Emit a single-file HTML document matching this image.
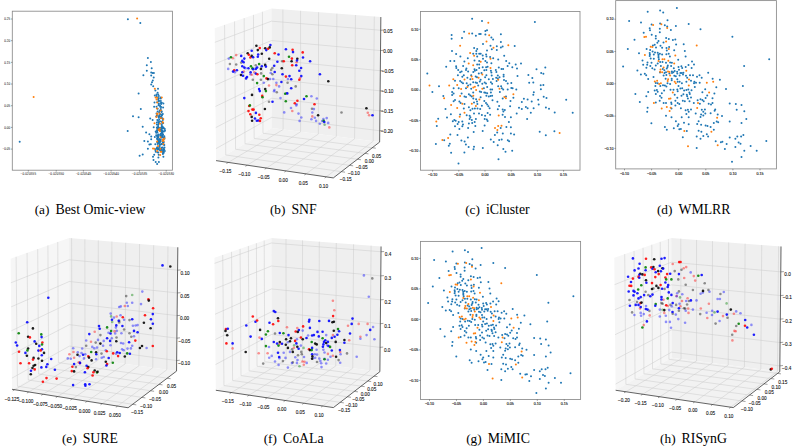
<!DOCTYPE html>
<html><head><meta charset="utf-8"><style>
html,body{margin:0;padding:0;background:#fff;width:794px;height:446px;overflow:hidden}
svg{position:absolute;left:0;top:0;display:block}
.t1{font-family:"Liberation Sans",sans-serif;font-size:3.0px;fill:#333;stroke:#333;stroke-width:0.05px}
.t2{font-family:"Liberation Sans",sans-serif;font-size:3.6px;fill:#111;stroke:#111;stroke-width:0.12px}
.t3{font-family:"Liberation Sans",sans-serif;font-size:4.7px;fill:#111;stroke:#111;stroke-width:0.1px;text-anchor:middle}
.cap{font-family:"Liberation Serif",serif;font-size:13.3px;fill:#000}
</style></head><body>
<svg width="794" height="446" viewBox="0 0 794 446">
<rect x="12.3" y="11.2" width="160.10" height="159.00" fill="none" stroke="#8a8a8a" stroke-width="0.85"/>
<line x1="28.3" y1="170.2" x2="28.3" y2="171.6" stroke="#444" stroke-width="0.5"/>
<text x="28.3" y="174.80" class="t1" text-anchor="middle" textLength="15.5">−0.020555</text>
<line x1="56.2" y1="170.2" x2="56.2" y2="171.6" stroke="#444" stroke-width="0.5"/>
<text x="56.2" y="174.80" class="t1" text-anchor="middle" textLength="15.5">−0.020550</text>
<line x1="83.4" y1="170.2" x2="83.4" y2="171.6" stroke="#444" stroke-width="0.5"/>
<text x="83.4" y="174.80" class="t1" text-anchor="middle" textLength="15.5">−0.020545</text>
<line x1="111.1" y1="170.2" x2="111.1" y2="171.6" stroke="#444" stroke-width="0.5"/>
<text x="111.1" y="174.80" class="t1" text-anchor="middle" textLength="15.5">−0.020540</text>
<line x1="139.5" y1="170.2" x2="139.5" y2="171.6" stroke="#444" stroke-width="0.5"/>
<text x="139.5" y="174.80" class="t1" text-anchor="middle" textLength="15.5">−0.020535</text>
<line x1="166.2" y1="170.2" x2="166.2" y2="171.6" stroke="#444" stroke-width="0.5"/>
<text x="166.2" y="174.80" class="t1" text-anchor="middle" textLength="15.5">−0.020530</text>
<line x1="10.9" y1="19.0" x2="12.3" y2="19.0" stroke="#444" stroke-width="0.5"/>
<text x="10.10" y="20.20" class="t1" text-anchor="end">0.25</text>
<line x1="10.9" y1="40.67999999999999" x2="12.3" y2="40.67999999999999" stroke="#444" stroke-width="0.5"/>
<text x="10.10" y="41.88" class="t1" text-anchor="end">0.20</text>
<line x1="10.9" y1="62.36" x2="12.3" y2="62.36" stroke="#444" stroke-width="0.5"/>
<text x="10.10" y="63.56" class="t1" text-anchor="end">0.15</text>
<line x1="10.9" y1="84.03999999999999" x2="12.3" y2="84.03999999999999" stroke="#444" stroke-width="0.5"/>
<text x="10.10" y="85.24" class="t1" text-anchor="end">0.10</text>
<line x1="10.9" y1="105.72" x2="12.3" y2="105.72" stroke="#444" stroke-width="0.5"/>
<text x="10.10" y="106.92" class="t1" text-anchor="end">0.05</text>
<line x1="10.9" y1="127.4" x2="12.3" y2="127.4" stroke="#444" stroke-width="0.5"/>
<text x="10.10" y="128.60" class="t1" text-anchor="end">0.00</text>
<line x1="10.9" y1="149.08" x2="12.3" y2="149.08" stroke="#444" stroke-width="0.5"/>
<text x="10.10" y="150.28" class="t1" text-anchor="end">−0.05</text>
<circle cx="127.9" cy="19.2" r="1.0" fill="#1f77b4"/>
<circle cx="140.3" cy="22.9" r="1.0" fill="#1f77b4"/>
<circle cx="19.7" cy="141.7" r="1.0" fill="#1f77b4"/>
<circle cx="147.9" cy="58.1" r="1.0" fill="#1f77b4"/>
<circle cx="150.9" cy="62.1" r="1.0" fill="#1f77b4"/>
<circle cx="146.8" cy="65.2" r="1.0" fill="#1f77b4"/>
<circle cx="151.7" cy="68.2" r="1.0" fill="#1f77b4"/>
<circle cx="146.8" cy="70.8" r="1.0" fill="#1f77b4"/>
<circle cx="151.2" cy="72.5" r="1.0" fill="#1f77b4"/>
<circle cx="152.6" cy="73.0" r="1.0" fill="#1f77b4"/>
<circle cx="153.9" cy="73.0" r="1.0" fill="#1f77b4"/>
<circle cx="143.4" cy="75.3" r="1.0" fill="#1f77b4"/>
<circle cx="151.2" cy="75.6" r="1.0" fill="#1f77b4"/>
<circle cx="153.7" cy="77.5" r="1.0" fill="#1f77b4"/>
<circle cx="152.8" cy="80.5" r="1.0" fill="#1f77b4"/>
<circle cx="152.0" cy="82.3" r="1.0" fill="#1f77b4"/>
<circle cx="151.2" cy="84.6" r="1.0" fill="#1f77b4"/>
<circle cx="153.2" cy="86.2" r="1.0" fill="#1f77b4"/>
<circle cx="158.0" cy="88.7" r="1.0" fill="#1f77b4"/>
<circle cx="155.4" cy="90.6" r="1.0" fill="#1f77b4"/>
<circle cx="138.6" cy="93.6" r="1.0" fill="#1f77b4"/>
<circle cx="157.6" cy="92.7" r="1.0" fill="#1f77b4"/>
<circle cx="156.5" cy="94.4" r="1.0" fill="#1f77b4"/>
<circle cx="158.2" cy="94.4" r="1.0" fill="#1f77b4"/>
<circle cx="154.8" cy="95.5" r="1.0" fill="#1f77b4"/>
<circle cx="156.5" cy="96.0" r="1.0" fill="#1f77b4"/>
<circle cx="158.8" cy="96.0" r="1.0" fill="#1f77b4"/>
<circle cx="158.8" cy="98.3" r="1.0" fill="#1f77b4"/>
<circle cx="158.1" cy="99.7" r="1.0" fill="#1f77b4"/>
<circle cx="158.9" cy="101.3" r="1.0" fill="#1f77b4"/>
<circle cx="160.8" cy="100.9" r="1.0" fill="#1f77b4"/>
<circle cx="154.5" cy="102.5" r="1.0" fill="#1f77b4"/>
<circle cx="158.9" cy="103.6" r="1.0" fill="#1f77b4"/>
<circle cx="158.5" cy="105.2" r="1.0" fill="#1f77b4"/>
<circle cx="140.8" cy="109.1" r="1.0" fill="#1f77b4"/>
<circle cx="154.1" cy="106.8" r="1.0" fill="#1f77b4"/>
<circle cx="156.5" cy="106.8" r="1.0" fill="#1f77b4"/>
<circle cx="157.7" cy="108.8" r="1.0" fill="#1f77b4"/>
<circle cx="160.8" cy="109.1" r="1.0" fill="#1f77b4"/>
<circle cx="159.6" cy="110.7" r="1.0" fill="#1f77b4"/>
<circle cx="161.6" cy="111.9" r="1.0" fill="#1f77b4"/>
<circle cx="159.2" cy="112.3" r="1.0" fill="#1f77b4"/>
<circle cx="156.5" cy="113.5" r="1.0" fill="#1f77b4"/>
<circle cx="160.8" cy="114.2" r="1.0" fill="#1f77b4"/>
<circle cx="162.8" cy="113.9" r="1.0" fill="#1f77b4"/>
<circle cx="156.9" cy="115.4" r="1.0" fill="#1f77b4"/>
<circle cx="159.6" cy="116.2" r="1.0" fill="#1f77b4"/>
<circle cx="158.9" cy="117.8" r="1.0" fill="#1f77b4"/>
<circle cx="160.8" cy="117.8" r="1.0" fill="#1f77b4"/>
<circle cx="162.4" cy="118.2" r="1.0" fill="#1f77b4"/>
<circle cx="159.2" cy="119.4" r="1.0" fill="#1f77b4"/>
<circle cx="162.8" cy="120.1" r="1.0" fill="#1f77b4"/>
<circle cx="150.2" cy="118.6" r="1.0" fill="#1f77b4"/>
<circle cx="152.6" cy="120.1" r="1.0" fill="#1f77b4"/>
<circle cx="158.1" cy="120.9" r="1.0" fill="#1f77b4"/>
<circle cx="160.0" cy="121.3" r="1.0" fill="#1f77b4"/>
<circle cx="161.6" cy="121.7" r="1.0" fill="#1f77b4"/>
<circle cx="156.9" cy="122.5" r="1.0" fill="#1f77b4"/>
<circle cx="158.9" cy="122.9" r="1.0" fill="#1f77b4"/>
<circle cx="163.2" cy="122.9" r="1.0" fill="#1f77b4"/>
<circle cx="156.9" cy="124.5" r="1.0" fill="#1f77b4"/>
<circle cx="161.6" cy="124.9" r="1.0" fill="#1f77b4"/>
<circle cx="158.1" cy="126.0" r="1.0" fill="#1f77b4"/>
<circle cx="162.4" cy="126.4" r="1.0" fill="#1f77b4"/>
<circle cx="142.7" cy="126.8" r="1.0" fill="#1f77b4"/>
<circle cx="153.7" cy="127.2" r="1.0" fill="#1f77b4"/>
<circle cx="156.9" cy="127.6" r="1.0" fill="#1f77b4"/>
<circle cx="159.2" cy="128.0" r="1.0" fill="#1f77b4"/>
<circle cx="161.2" cy="128.0" r="1.0" fill="#1f77b4"/>
<circle cx="160.8" cy="129.6" r="1.0" fill="#1f77b4"/>
<circle cx="146.1" cy="132.5" r="1.0" fill="#1f77b4"/>
<circle cx="149.4" cy="134.3" r="1.0" fill="#1f77b4"/>
<circle cx="151.2" cy="136.5" r="1.0" fill="#1f77b4"/>
<circle cx="151.2" cy="139.2" r="1.0" fill="#1f77b4"/>
<circle cx="144.3" cy="141.0" r="1.0" fill="#1f77b4"/>
<circle cx="147.9" cy="141.5" r="1.0" fill="#1f77b4"/>
<circle cx="154.8" cy="137.0" r="1.0" fill="#1f77b4"/>
<circle cx="156.2" cy="135.2" r="1.0" fill="#1f77b4"/>
<circle cx="155.7" cy="131.6" r="1.0" fill="#1f77b4"/>
<circle cx="149.4" cy="144.6" r="1.0" fill="#1f77b4"/>
<circle cx="150.8" cy="144.2" r="1.0" fill="#1f77b4"/>
<circle cx="155.3" cy="144.2" r="1.0" fill="#1f77b4"/>
<circle cx="147.9" cy="148.8" r="1.0" fill="#1f77b4"/>
<circle cx="156.2" cy="148.7" r="1.0" fill="#1f77b4"/>
<circle cx="155.3" cy="150.0" r="1.0" fill="#1f77b4"/>
<circle cx="159.3" cy="149.6" r="1.0" fill="#1f77b4"/>
<circle cx="155.7" cy="151.8" r="1.0" fill="#1f77b4"/>
<circle cx="142.7" cy="154.5" r="1.0" fill="#1f77b4"/>
<circle cx="154.2" cy="154.8" r="1.0" fill="#1f77b4"/>
<circle cx="153.0" cy="156.8" r="1.0" fill="#1f77b4"/>
<circle cx="158.7" cy="154.8" r="1.0" fill="#1f77b4"/>
<circle cx="158.4" cy="157.6" r="1.0" fill="#1f77b4"/>
<circle cx="163.4" cy="156.8" r="1.0" fill="#1f77b4"/>
<circle cx="162.9" cy="154.1" r="1.0" fill="#1f77b4"/>
<circle cx="163.8" cy="152.7" r="1.0" fill="#1f77b4"/>
<circle cx="162.5" cy="151.4" r="1.0" fill="#1f77b4"/>
<circle cx="153.5" cy="159.9" r="1.0" fill="#1f77b4"/>
<circle cx="155.7" cy="162.1" r="1.0" fill="#1f77b4"/>
<circle cx="158.9" cy="162.0" r="1.0" fill="#1f77b4"/>
<circle cx="157.1" cy="163.9" r="1.0" fill="#1f77b4"/>
<circle cx="133.0" cy="116.3" r="1.0" fill="#1f77b4"/>
<circle cx="138.6" cy="117.3" r="1.0" fill="#1f77b4"/>
<circle cx="139.6" cy="155.8" r="1.0" fill="#1f77b4"/>
<circle cx="158.0" cy="139.7" r="1.0" fill="#1f77b4"/>
<circle cx="157.2" cy="130.8" r="1.0" fill="#1f77b4"/>
<circle cx="157.6" cy="130.3" r="1.0" fill="#1f77b4"/>
<circle cx="162.0" cy="136.4" r="1.0" fill="#1f77b4"/>
<circle cx="162.3" cy="134.0" r="1.0" fill="#1f77b4"/>
<circle cx="158.6" cy="141.1" r="1.0" fill="#1f77b4"/>
<circle cx="159.8" cy="142.1" r="1.0" fill="#1f77b4"/>
<circle cx="163.4" cy="149.1" r="1.0" fill="#1f77b4"/>
<circle cx="160.7" cy="134.1" r="1.0" fill="#1f77b4"/>
<circle cx="164.2" cy="138.0" r="1.0" fill="#1f77b4"/>
<circle cx="162.4" cy="132.2" r="1.0" fill="#1f77b4"/>
<circle cx="158.7" cy="127.8" r="1.0" fill="#1f77b4"/>
<circle cx="159.8" cy="139.0" r="1.0" fill="#1f77b4"/>
<circle cx="162.6" cy="135.7" r="1.0" fill="#1f77b4"/>
<circle cx="158.3" cy="152.4" r="1.0" fill="#1f77b4"/>
<circle cx="162.5" cy="128.4" r="1.0" fill="#1f77b4"/>
<circle cx="163.8" cy="142.0" r="1.0" fill="#1f77b4"/>
<circle cx="159.5" cy="129.3" r="1.0" fill="#1f77b4"/>
<circle cx="157.2" cy="148.4" r="1.0" fill="#1f77b4"/>
<circle cx="157.5" cy="142.3" r="1.0" fill="#1f77b4"/>
<circle cx="157.2" cy="147.5" r="1.0" fill="#1f77b4"/>
<circle cx="157.7" cy="127.5" r="1.0" fill="#1f77b4"/>
<circle cx="158.7" cy="135.0" r="1.0" fill="#1f77b4"/>
<circle cx="164.8" cy="151.0" r="1.0" fill="#1f77b4"/>
<circle cx="160.5" cy="135.0" r="1.0" fill="#1f77b4"/>
<circle cx="157.3" cy="128.7" r="1.0" fill="#1f77b4"/>
<circle cx="159.0" cy="148.6" r="1.0" fill="#1f77b4"/>
<circle cx="161.4" cy="143.9" r="1.0" fill="#1f77b4"/>
<circle cx="163.2" cy="150.7" r="1.0" fill="#1f77b4"/>
<circle cx="162.0" cy="130.7" r="1.0" fill="#1f77b4"/>
<circle cx="163.3" cy="149.8" r="1.0" fill="#1f77b4"/>
<circle cx="157.3" cy="136.2" r="1.0" fill="#1f77b4"/>
<circle cx="165.0" cy="130.7" r="1.0" fill="#1f77b4"/>
<circle cx="162.1" cy="131.1" r="1.0" fill="#1f77b4"/>
<circle cx="157.6" cy="142.6" r="1.0" fill="#1f77b4"/>
<circle cx="157.3" cy="129.9" r="1.0" fill="#1f77b4"/>
<circle cx="162.1" cy="135.3" r="1.0" fill="#1f77b4"/>
<circle cx="159.8" cy="130.3" r="1.0" fill="#1f77b4"/>
<circle cx="160.2" cy="150.3" r="1.0" fill="#1f77b4"/>
<circle cx="157.7" cy="141.3" r="1.0" fill="#1f77b4"/>
<circle cx="164.3" cy="144.9" r="1.0" fill="#1f77b4"/>
<circle cx="163.5" cy="144.4" r="1.0" fill="#1f77b4"/>
<circle cx="160.7" cy="128.3" r="1.0" fill="#1f77b4"/>
<circle cx="162.7" cy="147.5" r="1.0" fill="#1f77b4"/>
<circle cx="159.1" cy="147.1" r="1.0" fill="#1f77b4"/>
<circle cx="158.1" cy="137.0" r="1.0" fill="#1f77b4"/>
<circle cx="159.3" cy="142.4" r="1.0" fill="#1f77b4"/>
<circle cx="158.9" cy="142.9" r="1.0" fill="#1f77b4"/>
<circle cx="162.9" cy="134.4" r="1.0" fill="#1f77b4"/>
<circle cx="160.3" cy="141.1" r="1.0" fill="#1f77b4"/>
<circle cx="161.1" cy="133.6" r="1.0" fill="#1f77b4"/>
<circle cx="157.8" cy="135.3" r="1.0" fill="#1f77b4"/>
<circle cx="157.2" cy="131.0" r="1.0" fill="#1f77b4"/>
<circle cx="163.3" cy="143.2" r="1.0" fill="#1f77b4"/>
<circle cx="163.0" cy="134.6" r="1.0" fill="#1f77b4"/>
<circle cx="159.7" cy="146.1" r="1.0" fill="#1f77b4"/>
<circle cx="158.2" cy="149.3" r="1.0" fill="#1f77b4"/>
<circle cx="163.0" cy="141.3" r="1.0" fill="#1f77b4"/>
<circle cx="160.6" cy="141.4" r="1.0" fill="#1f77b4"/>
<circle cx="161.4" cy="147.8" r="1.0" fill="#1f77b4"/>
<circle cx="157.9" cy="149.3" r="1.0" fill="#1f77b4"/>
<circle cx="157.7" cy="142.8" r="1.0" fill="#1f77b4"/>
<circle cx="161.9" cy="137.6" r="1.0" fill="#1f77b4"/>
<circle cx="161.0" cy="130.4" r="1.0" fill="#1f77b4"/>
<circle cx="163.9" cy="131.4" r="1.0" fill="#1f77b4"/>
<circle cx="157.5" cy="138.7" r="1.0" fill="#1f77b4"/>
<circle cx="157.4" cy="152.3" r="1.0" fill="#1f77b4"/>
<circle cx="158.0" cy="137.7" r="1.0" fill="#1f77b4"/>
<circle cx="159.0" cy="149.1" r="1.0" fill="#1f77b4"/>
<circle cx="164.8" cy="129.0" r="1.0" fill="#1f77b4"/>
<circle cx="159.9" cy="139.9" r="1.0" fill="#1f77b4"/>
<circle cx="157.4" cy="132.6" r="1.0" fill="#1f77b4"/>
<circle cx="162.9" cy="142.6" r="1.0" fill="#1f77b4"/>
<circle cx="157.4" cy="138.5" r="1.0" fill="#1f77b4"/>
<circle cx="164.3" cy="136.3" r="1.0" fill="#1f77b4"/>
<circle cx="164.4" cy="137.4" r="1.0" fill="#1f77b4"/>
<circle cx="157.7" cy="143.9" r="1.0" fill="#1f77b4"/>
<circle cx="164.2" cy="149.2" r="1.0" fill="#1f77b4"/>
<circle cx="161.8" cy="144.2" r="1.0" fill="#1f77b4"/>
<circle cx="158.5" cy="134.4" r="1.0" fill="#1f77b4"/>
<circle cx="159.6" cy="144.6" r="1.0" fill="#1f77b4"/>
<circle cx="160.9" cy="131.1" r="1.0" fill="#1f77b4"/>
<circle cx="160.9" cy="135.5" r="1.0" fill="#1f77b4"/>
<circle cx="161.8" cy="137.2" r="1.0" fill="#1f77b4"/>
<circle cx="157.3" cy="137.0" r="1.0" fill="#1f77b4"/>
<circle cx="161.2" cy="150.0" r="1.0" fill="#1f77b4"/>
<circle cx="164.5" cy="147.4" r="1.0" fill="#1f77b4"/>
<circle cx="161.2" cy="137.1" r="1.0" fill="#1f77b4"/>
<circle cx="157.3" cy="147.4" r="1.0" fill="#1f77b4"/>
<circle cx="157.2" cy="138.9" r="1.0" fill="#1f77b4"/>
<circle cx="160.5" cy="136.3" r="1.0" fill="#1f77b4"/>
<circle cx="158.3" cy="127.3" r="1.0" fill="#1f77b4"/>
<circle cx="161.2" cy="149.1" r="1.0" fill="#1f77b4"/>
<circle cx="163.3" cy="127.5" r="1.0" fill="#1f77b4"/>
<circle cx="161.8" cy="132.8" r="1.0" fill="#1f77b4"/>
<circle cx="158.0" cy="136.6" r="1.0" fill="#1f77b4"/>
<circle cx="161.5" cy="149.6" r="1.0" fill="#1f77b4"/>
<circle cx="158.5" cy="141.7" r="1.0" fill="#1f77b4"/>
<circle cx="159.3" cy="115.7" r="1.0" fill="#1f77b4"/>
<circle cx="157.3" cy="120.0" r="1.0" fill="#1f77b4"/>
<circle cx="161.5" cy="127.2" r="1.0" fill="#1f77b4"/>
<circle cx="162.3" cy="123.4" r="1.0" fill="#1f77b4"/>
<circle cx="161.9" cy="126.5" r="1.0" fill="#1f77b4"/>
<circle cx="161.1" cy="117.9" r="1.0" fill="#1f77b4"/>
<circle cx="161.6" cy="111.3" r="1.0" fill="#1f77b4"/>
<circle cx="161.1" cy="117.3" r="1.0" fill="#1f77b4"/>
<circle cx="162.0" cy="114.9" r="1.0" fill="#1f77b4"/>
<circle cx="127.7" cy="131.0" r="1.0" fill="#1f77b4"/>
<circle cx="161.7" cy="115.8" r="1.0" fill="#1f77b4"/>
<circle cx="156.2" cy="116.6" r="1.0" fill="#1f77b4"/>
<circle cx="158.9" cy="100.5" r="1.0" fill="#1f77b4"/>
<circle cx="160.9" cy="103.1" r="1.0" fill="#1f77b4"/>
<circle cx="163.4" cy="103.5" r="1.0" fill="#1f77b4"/>
<circle cx="161.1" cy="103.9" r="1.0" fill="#1f77b4"/>
<circle cx="163.1" cy="107.6" r="1.0" fill="#1f77b4"/>
<circle cx="157.6" cy="111.6" r="1.0" fill="#1f77b4"/>
<circle cx="160.4" cy="110.3" r="1.0" fill="#1f77b4"/>
<circle cx="161.8" cy="102.8" r="1.0" fill="#1f77b4"/>
<circle cx="159.5" cy="114.1" r="1.0" fill="#1f77b4"/>
<circle cx="157.1" cy="102.3" r="1.0" fill="#1f77b4"/>
<circle cx="157.7" cy="97.4" r="1.0" fill="#1f77b4"/>
<circle cx="162.9" cy="119.1" r="1.0" fill="#1f77b4"/>
<circle cx="158.7" cy="122.4" r="1.0" fill="#1f77b4"/>
<circle cx="160.6" cy="97.4" r="1.0" fill="#1f77b4"/>
<circle cx="160.2" cy="106.8" r="1.0" fill="#1f77b4"/>
<circle cx="158.2" cy="124.4" r="1.0" fill="#1f77b4"/>
<circle cx="160.8" cy="98.4" r="1.0" fill="#1f77b4"/>
<circle cx="158.5" cy="116.5" r="1.0" fill="#1f77b4"/>
<circle cx="160.1" cy="105.7" r="1.0" fill="#1f77b4"/>
<circle cx="158.9" cy="104.9" r="1.0" fill="#1f77b4"/>
<circle cx="161.1" cy="107.0" r="1.0" fill="#1f77b4"/>
<circle cx="161.0" cy="116.8" r="1.0" fill="#1f77b4"/>
<circle cx="164.4" cy="138.8" r="1.0" fill="#1f77b4"/>
<circle cx="163.4" cy="151.0" r="1.0" fill="#1f77b4"/>
<circle cx="162.1" cy="128.3" r="1.0" fill="#1f77b4"/>
<circle cx="162.9" cy="153.0" r="1.0" fill="#1f77b4"/>
<circle cx="162.5" cy="130.8" r="1.0" fill="#1f77b4"/>
<circle cx="160.8" cy="139.8" r="1.0" fill="#1f77b4"/>
<circle cx="159.0" cy="142.9" r="1.0" fill="#1f77b4"/>
<circle cx="162.5" cy="128.2" r="1.0" fill="#1f77b4"/>
<circle cx="161.0" cy="129.5" r="1.0" fill="#1f77b4"/>
<circle cx="159.6" cy="149.6" r="1.0" fill="#1f77b4"/>
<circle cx="161.8" cy="136.8" r="1.0" fill="#1f77b4"/>
<circle cx="159.9" cy="141.4" r="1.0" fill="#1f77b4"/>
<circle cx="163.9" cy="128.2" r="1.0" fill="#1f77b4"/>
<circle cx="163.8" cy="137.4" r="1.0" fill="#1f77b4"/>
<circle cx="160.8" cy="128.8" r="1.0" fill="#1f77b4"/>
<circle cx="160.1" cy="144.6" r="1.0" fill="#1f77b4"/>
<circle cx="156.2" cy="132.7" r="1.0" fill="#1f77b4"/>
<circle cx="161.2" cy="137.2" r="1.0" fill="#1f77b4"/>
<circle cx="137.1" cy="18.4" r="1.0" fill="#ff7f0e"/>
<circle cx="33.6" cy="96.9" r="1.0" fill="#ff7f0e"/>
<circle cx="154.8" cy="88.7" r="1.0" fill="#ff7f0e"/>
<circle cx="157.1" cy="97.7" r="1.0" fill="#ff7f0e"/>
<circle cx="156.5" cy="99.4" r="1.0" fill="#ff7f0e"/>
<circle cx="157.3" cy="102.5" r="1.0" fill="#ff7f0e"/>
<circle cx="156.9" cy="108.4" r="1.0" fill="#ff7f0e"/>
<circle cx="159.6" cy="113.5" r="1.0" fill="#ff7f0e"/>
<circle cx="156.5" cy="117.0" r="1.0" fill="#ff7f0e"/>
<circle cx="154.5" cy="123.3" r="1.0" fill="#ff7f0e"/>
<circle cx="160.0" cy="123.7" r="1.0" fill="#ff7f0e"/>
<circle cx="158.5" cy="129.6" r="1.0" fill="#ff7f0e"/>
<circle cx="157.1" cy="141.5" r="1.0" fill="#ff7f0e"/>
<circle cx="153.0" cy="148.5" r="1.0" fill="#ff7f0e"/>
<circle cx="154.4" cy="148.8" r="1.0" fill="#ff7f0e"/>
<circle cx="157.1" cy="150.9" r="1.0" fill="#ff7f0e"/>
<circle cx="160.2" cy="155.0" r="1.0" fill="#ff7f0e"/>
<circle cx="163.3" cy="144.1" r="1.0" fill="#ff7f0e"/>
<circle cx="163.5" cy="141.0" r="1.0" fill="#ff7f0e"/>
<circle cx="158.0" cy="145.9" r="1.0" fill="#ff7f0e"/>
<circle cx="162.8" cy="139.6" r="1.0" fill="#ff7f0e"/>
<circle cx="159.9" cy="128.6" r="1.0" fill="#ff7f0e"/>
<circle cx="163.4" cy="139.7" r="1.0" fill="#ff7f0e"/>
<circle cx="160.4" cy="148.7" r="1.0" fill="#ff7f0e"/>
<circle cx="162.7" cy="140.8" r="1.0" fill="#ff7f0e"/>
<circle cx="160.5" cy="137.3" r="1.0" fill="#ff7f0e"/>
<circle cx="159.9" cy="130.9" r="1.0" fill="#ff7f0e"/>
<circle cx="164.3" cy="138.4" r="1.0" fill="#ff7f0e"/>
<circle cx="160.6" cy="151.7" r="1.0" fill="#ff7f0e"/>
<circle cx="160.9" cy="118.0" r="1.0" fill="#ff7f0e"/>
<circle cx="157.1" cy="113.6" r="1.0" fill="#ff7f0e"/>
<circle cx="157.3" cy="114.5" r="1.0" fill="#ff7f0e"/>
<circle cx="160.7" cy="110.6" r="1.0" fill="#ff7f0e"/>
<circle cx="163.3" cy="119.0" r="1.0" fill="#ff7f0e"/>
<circle cx="155.6" cy="97.4" r="1.0" fill="#ff7f0e"/>
<circle cx="162.6" cy="121.9" r="1.0" fill="#ff7f0e"/>
<circle cx="161.8" cy="97.5" r="1.0" fill="#ff7f0e"/>
<circle cx="162.8" cy="122.8" r="1.0" fill="#ff7f0e"/>
<circle cx="159.0" cy="129.9" r="1.0" fill="#ff7f0e"/>
<circle cx="161.4" cy="151.8" r="1.0" fill="#ff7f0e"/>
<rect x="420.5" y="11.5" width="159.50" height="158.70" fill="none" stroke="#8a8a8a" stroke-width="0.85"/>
<line x1="432.6" y1="170.2" x2="432.6" y2="171.6" stroke="#444" stroke-width="0.5"/>
<text x="432.6" y="175.80" class="t2" text-anchor="middle">−0.10</text>
<line x1="458.8" y1="170.2" x2="458.8" y2="171.6" stroke="#444" stroke-width="0.5"/>
<text x="458.8" y="175.80" class="t2" text-anchor="middle">−0.05</text>
<line x1="485.0" y1="170.2" x2="485.0" y2="171.6" stroke="#444" stroke-width="0.5"/>
<text x="485.0" y="175.80" class="t2" text-anchor="middle">0.00</text>
<line x1="511.2" y1="170.2" x2="511.2" y2="171.6" stroke="#444" stroke-width="0.5"/>
<text x="511.2" y="175.80" class="t2" text-anchor="middle">0.05</text>
<line x1="537.4" y1="170.2" x2="537.4" y2="171.6" stroke="#444" stroke-width="0.5"/>
<text x="537.4" y="175.80" class="t2" text-anchor="middle">0.10</text>
<line x1="563.5999999999999" y1="170.2" x2="563.5999999999999" y2="171.6" stroke="#444" stroke-width="0.5"/>
<text x="563.5999999999999" y="175.80" class="t2" text-anchor="middle">0.15</text>
<line x1="419.1" y1="29.3" x2="420.5" y2="29.3" stroke="#444" stroke-width="0.5"/>
<text x="418.30" y="30.50" class="t2" text-anchor="end">0.10</text>
<line x1="419.1" y1="59.75" x2="420.5" y2="59.75" stroke="#444" stroke-width="0.5"/>
<text x="418.30" y="60.95" class="t2" text-anchor="end">0.05</text>
<line x1="419.1" y1="90.2" x2="420.5" y2="90.2" stroke="#444" stroke-width="0.5"/>
<text x="418.30" y="91.40" class="t2" text-anchor="end">0.00</text>
<line x1="419.1" y1="120.65" x2="420.5" y2="120.65" stroke="#444" stroke-width="0.5"/>
<text x="418.30" y="121.85" class="t2" text-anchor="end">−0.05</text>
<line x1="419.1" y1="151.1" x2="420.5" y2="151.1" stroke="#444" stroke-width="0.5"/>
<text x="418.30" y="152.30" class="t2" text-anchor="end">−0.10</text>
<circle cx="472.1" cy="18.7" r="1.0" fill="#1f77b4"/>
<circle cx="464.1" cy="31.8" r="1.0" fill="#1f77b4"/>
<circle cx="472.2" cy="33.6" r="1.0" fill="#1f77b4"/>
<circle cx="475.9" cy="35.8" r="1.0" fill="#1f77b4"/>
<circle cx="479.2" cy="34.0" r="1.0" fill="#1f77b4"/>
<circle cx="451.6" cy="34.9" r="1.0" fill="#1f77b4"/>
<circle cx="451.6" cy="38.7" r="1.0" fill="#1f77b4"/>
<circle cx="462.0" cy="38.0" r="1.0" fill="#1f77b4"/>
<circle cx="474.1" cy="48.1" r="1.0" fill="#1f77b4"/>
<circle cx="477.2" cy="49.0" r="1.0" fill="#1f77b4"/>
<circle cx="452.0" cy="51.0" r="1.0" fill="#1f77b4"/>
<circle cx="476.3" cy="51.0" r="1.0" fill="#1f77b4"/>
<circle cx="456.1" cy="54.1" r="1.0" fill="#1f77b4"/>
<circle cx="473.2" cy="53.7" r="1.0" fill="#1f77b4"/>
<circle cx="476.3" cy="53.7" r="1.0" fill="#1f77b4"/>
<circle cx="479.2" cy="53.7" r="1.0" fill="#1f77b4"/>
<circle cx="460.4" cy="56.4" r="1.0" fill="#1f77b4"/>
<circle cx="477.2" cy="56.4" r="1.0" fill="#1f77b4"/>
<circle cx="467.8" cy="58.2" r="1.0" fill="#1f77b4"/>
<circle cx="474.5" cy="60.5" r="1.0" fill="#1f77b4"/>
<circle cx="450.3" cy="61.1" r="1.0" fill="#1f77b4"/>
<circle cx="454.3" cy="60.9" r="1.0" fill="#1f77b4"/>
<circle cx="464.4" cy="61.4" r="1.0" fill="#1f77b4"/>
<circle cx="479.2" cy="61.1" r="1.0" fill="#1f77b4"/>
<circle cx="477.2" cy="64.5" r="1.0" fill="#1f77b4"/>
<circle cx="479.2" cy="64.5" r="1.0" fill="#1f77b4"/>
<circle cx="446.2" cy="66.8" r="1.0" fill="#1f77b4"/>
<circle cx="456.1" cy="66.3" r="1.0" fill="#1f77b4"/>
<circle cx="456.3" cy="67.9" r="1.0" fill="#1f77b4"/>
<circle cx="463.1" cy="65.9" r="1.0" fill="#1f77b4"/>
<circle cx="466.4" cy="68.5" r="1.0" fill="#1f77b4"/>
<circle cx="474.5" cy="69.2" r="1.0" fill="#1f77b4"/>
<circle cx="479.2" cy="68.1" r="1.0" fill="#1f77b4"/>
<circle cx="482.0" cy="21.0" r="1.0" fill="#1f77b4"/>
<circle cx="534.9" cy="22.1" r="1.0" fill="#1f77b4"/>
<circle cx="485.4" cy="30.9" r="1.0" fill="#1f77b4"/>
<circle cx="487.0" cy="30.2" r="1.0" fill="#1f77b4"/>
<circle cx="480.7" cy="34.0" r="1.0" fill="#1f77b4"/>
<circle cx="485.4" cy="34.6" r="1.0" fill="#1f77b4"/>
<circle cx="500.9" cy="34.2" r="1.0" fill="#1f77b4"/>
<circle cx="491.4" cy="37.6" r="1.0" fill="#1f77b4"/>
<circle cx="493.1" cy="39.6" r="1.0" fill="#1f77b4"/>
<circle cx="500.9" cy="42.0" r="1.0" fill="#1f77b4"/>
<circle cx="483.0" cy="43.9" r="1.0" fill="#1f77b4"/>
<circle cx="490.5" cy="45.7" r="1.0" fill="#1f77b4"/>
<circle cx="496.8" cy="46.3" r="1.0" fill="#1f77b4"/>
<circle cx="500.9" cy="47.4" r="1.0" fill="#1f77b4"/>
<circle cx="502.6" cy="46.6" r="1.0" fill="#1f77b4"/>
<circle cx="514.7" cy="46.1" r="1.0" fill="#1f77b4"/>
<circle cx="491.8" cy="49.3" r="1.0" fill="#1f77b4"/>
<circle cx="487.0" cy="50.4" r="1.0" fill="#1f77b4"/>
<circle cx="496.8" cy="50.1" r="1.0" fill="#1f77b4"/>
<circle cx="480.7" cy="53.7" r="1.0" fill="#1f77b4"/>
<circle cx="482.7" cy="55.5" r="1.0" fill="#1f77b4"/>
<circle cx="486.1" cy="54.4" r="1.0" fill="#1f77b4"/>
<circle cx="486.5" cy="56.4" r="1.0" fill="#1f77b4"/>
<circle cx="490.1" cy="57.1" r="1.0" fill="#1f77b4"/>
<circle cx="493.2" cy="58.2" r="1.0" fill="#1f77b4"/>
<circle cx="504.2" cy="55.8" r="1.0" fill="#1f77b4"/>
<circle cx="483.0" cy="58.7" r="1.0" fill="#1f77b4"/>
<circle cx="498.2" cy="59.5" r="1.0" fill="#1f77b4"/>
<circle cx="485.4" cy="60.9" r="1.0" fill="#1f77b4"/>
<circle cx="487.0" cy="62.5" r="1.0" fill="#1f77b4"/>
<circle cx="491.4" cy="63.2" r="1.0" fill="#1f77b4"/>
<circle cx="506.2" cy="61.1" r="1.0" fill="#1f77b4"/>
<circle cx="509.3" cy="63.2" r="1.0" fill="#1f77b4"/>
<circle cx="515.7" cy="64.5" r="1.0" fill="#1f77b4"/>
<circle cx="521.0" cy="63.6" r="1.0" fill="#1f77b4"/>
<circle cx="482.7" cy="67.2" r="1.0" fill="#1f77b4"/>
<circle cx="486.1" cy="67.2" r="1.0" fill="#1f77b4"/>
<circle cx="498.8" cy="67.6" r="1.0" fill="#1f77b4"/>
<circle cx="501.5" cy="69.0" r="1.0" fill="#1f77b4"/>
<circle cx="503.1" cy="69.0" r="1.0" fill="#1f77b4"/>
<circle cx="507.6" cy="65.9" r="1.0" fill="#1f77b4"/>
<circle cx="512.3" cy="67.2" r="1.0" fill="#1f77b4"/>
<circle cx="517.0" cy="68.5" r="1.0" fill="#1f77b4"/>
<circle cx="536.5" cy="69.2" r="1.0" fill="#1f77b4"/>
<circle cx="545.3" cy="67.6" r="1.0" fill="#1f77b4"/>
<circle cx="541.2" cy="72.9" r="1.0" fill="#1f77b4"/>
<circle cx="543.4" cy="73.8" r="1.0" fill="#1f77b4"/>
<circle cx="528.4" cy="75.0" r="1.0" fill="#1f77b4"/>
<circle cx="532.3" cy="77.9" r="1.0" fill="#1f77b4"/>
<circle cx="529.2" cy="82.8" r="1.0" fill="#1f77b4"/>
<circle cx="533.3" cy="82.4" r="1.0" fill="#1f77b4"/>
<circle cx="540.7" cy="85.3" r="1.0" fill="#1f77b4"/>
<circle cx="543.4" cy="84.9" r="1.0" fill="#1f77b4"/>
<circle cx="540.9" cy="89.3" r="1.0" fill="#1f77b4"/>
<circle cx="533.8" cy="92.3" r="1.0" fill="#1f77b4"/>
<circle cx="533.3" cy="94.7" r="1.0" fill="#1f77b4"/>
<circle cx="543.7" cy="96.7" r="1.0" fill="#1f77b4"/>
<circle cx="546.5" cy="97.9" r="1.0" fill="#1f77b4"/>
<circle cx="566.2" cy="99.7" r="1.0" fill="#1f77b4"/>
<circle cx="523.9" cy="98.8" r="1.0" fill="#1f77b4"/>
<circle cx="521.8" cy="101.9" r="1.0" fill="#1f77b4"/>
<circle cx="527.6" cy="99.4" r="1.0" fill="#1f77b4"/>
<circle cx="531.7" cy="101.6" r="1.0" fill="#1f77b4"/>
<circle cx="538.2" cy="99.7" r="1.0" fill="#1f77b4"/>
<circle cx="538.7" cy="104.4" r="1.0" fill="#1f77b4"/>
<circle cx="521.8" cy="109.0" r="1.0" fill="#1f77b4"/>
<circle cx="525.9" cy="107.1" r="1.0" fill="#1f77b4"/>
<circle cx="527.6" cy="108.3" r="1.0" fill="#1f77b4"/>
<circle cx="533.6" cy="108.3" r="1.0" fill="#1f77b4"/>
<circle cx="545.9" cy="107.4" r="1.0" fill="#1f77b4"/>
<circle cx="549.0" cy="108.7" r="1.0" fill="#1f77b4"/>
<circle cx="530.8" cy="112.7" r="1.0" fill="#1f77b4"/>
<circle cx="554.7" cy="112.4" r="1.0" fill="#1f77b4"/>
<circle cx="572.7" cy="112.7" r="1.0" fill="#1f77b4"/>
<circle cx="487.6" cy="66.8" r="1.0" fill="#1f77b4"/>
<circle cx="474.9" cy="70.7" r="1.0" fill="#1f77b4"/>
<circle cx="476.5" cy="69.9" r="1.0" fill="#1f77b4"/>
<circle cx="473.3" cy="72.0" r="1.0" fill="#1f77b4"/>
<circle cx="484.3" cy="70.3" r="1.0" fill="#1f77b4"/>
<circle cx="486.4" cy="69.9" r="1.0" fill="#1f77b4"/>
<circle cx="490.9" cy="70.7" r="1.0" fill="#1f77b4"/>
<circle cx="491.4" cy="72.4" r="1.0" fill="#1f77b4"/>
<circle cx="495.8" cy="69.9" r="1.0" fill="#1f77b4"/>
<circle cx="496.4" cy="72.0" r="1.0" fill="#1f77b4"/>
<circle cx="471.2" cy="75.2" r="1.0" fill="#1f77b4"/>
<circle cx="478.8" cy="73.6" r="1.0" fill="#1f77b4"/>
<circle cx="481.5" cy="73.0" r="1.0" fill="#1f77b4"/>
<circle cx="486.4" cy="75.2" r="1.0" fill="#1f77b4"/>
<circle cx="491.7" cy="75.6" r="1.0" fill="#1f77b4"/>
<circle cx="497.8" cy="75.6" r="1.0" fill="#1f77b4"/>
<circle cx="503.6" cy="74.8" r="1.0" fill="#1f77b4"/>
<circle cx="503.6" cy="76.5" r="1.0" fill="#1f77b4"/>
<circle cx="517.5" cy="76.1" r="1.0" fill="#1f77b4"/>
<circle cx="475.7" cy="76.5" r="1.0" fill="#1f77b4"/>
<circle cx="477.0" cy="77.3" r="1.0" fill="#1f77b4"/>
<circle cx="485.1" cy="77.3" r="1.0" fill="#1f77b4"/>
<circle cx="488.8" cy="79.3" r="1.0" fill="#1f77b4"/>
<circle cx="492.9" cy="78.9" r="1.0" fill="#1f77b4"/>
<circle cx="496.2" cy="77.7" r="1.0" fill="#1f77b4"/>
<circle cx="497.8" cy="78.5" r="1.0" fill="#1f77b4"/>
<circle cx="499.5" cy="77.3" r="1.0" fill="#1f77b4"/>
<circle cx="504.0" cy="80.1" r="1.0" fill="#1f77b4"/>
<circle cx="506.0" cy="81.0" r="1.0" fill="#1f77b4"/>
<circle cx="470.4" cy="79.3" r="1.0" fill="#1f77b4"/>
<circle cx="480.6" cy="79.7" r="1.0" fill="#1f77b4"/>
<circle cx="479.8" cy="81.4" r="1.0" fill="#1f77b4"/>
<circle cx="475.7" cy="82.6" r="1.0" fill="#1f77b4"/>
<circle cx="477.0" cy="83.0" r="1.0" fill="#1f77b4"/>
<circle cx="482.3" cy="83.8" r="1.0" fill="#1f77b4"/>
<circle cx="484.7" cy="82.6" r="1.0" fill="#1f77b4"/>
<circle cx="486.0" cy="83.4" r="1.0" fill="#1f77b4"/>
<circle cx="490.9" cy="82.2" r="1.0" fill="#1f77b4"/>
<circle cx="492.1" cy="83.8" r="1.0" fill="#1f77b4"/>
<circle cx="496.6" cy="81.0" r="1.0" fill="#1f77b4"/>
<circle cx="507.7" cy="83.4" r="1.0" fill="#1f77b4"/>
<circle cx="511.3" cy="83.0" r="1.0" fill="#1f77b4"/>
<circle cx="470.4" cy="84.6" r="1.0" fill="#1f77b4"/>
<circle cx="478.2" cy="85.5" r="1.0" fill="#1f77b4"/>
<circle cx="498.2" cy="86.3" r="1.0" fill="#1f77b4"/>
<circle cx="501.1" cy="86.3" r="1.0" fill="#1f77b4"/>
<circle cx="487.2" cy="87.1" r="1.0" fill="#1f77b4"/>
<circle cx="471.2" cy="88.7" r="1.0" fill="#1f77b4"/>
<circle cx="483.9" cy="88.3" r="1.0" fill="#1f77b4"/>
<circle cx="490.5" cy="89.6" r="1.0" fill="#1f77b4"/>
<circle cx="492.1" cy="89.6" r="1.0" fill="#1f77b4"/>
<circle cx="501.9" cy="88.3" r="1.0" fill="#1f77b4"/>
<circle cx="503.2" cy="89.6" r="1.0" fill="#1f77b4"/>
<circle cx="507.7" cy="89.6" r="1.0" fill="#1f77b4"/>
<circle cx="511.3" cy="87.9" r="1.0" fill="#1f77b4"/>
<circle cx="512.6" cy="88.3" r="1.0" fill="#1f77b4"/>
<circle cx="516.3" cy="89.4" r="1.0" fill="#1f77b4"/>
<circle cx="479.8" cy="91.6" r="1.0" fill="#1f77b4"/>
<circle cx="481.1" cy="92.0" r="1.0" fill="#1f77b4"/>
<circle cx="484.3" cy="92.4" r="1.0" fill="#1f77b4"/>
<circle cx="485.6" cy="92.8" r="1.0" fill="#1f77b4"/>
<circle cx="487.2" cy="93.2" r="1.0" fill="#1f77b4"/>
<circle cx="490.9" cy="92.4" r="1.0" fill="#1f77b4"/>
<circle cx="499.9" cy="92.0" r="1.0" fill="#1f77b4"/>
<circle cx="486.4" cy="95.7" r="1.0" fill="#1f77b4"/>
<circle cx="488.8" cy="96.5" r="1.0" fill="#1f77b4"/>
<circle cx="490.5" cy="96.1" r="1.0" fill="#1f77b4"/>
<circle cx="492.1" cy="95.7" r="1.0" fill="#1f77b4"/>
<circle cx="480.6" cy="97.3" r="1.0" fill="#1f77b4"/>
<circle cx="506.0" cy="96.5" r="1.0" fill="#1f77b4"/>
<circle cx="513.4" cy="97.7" r="1.0" fill="#1f77b4"/>
<circle cx="473.3" cy="98.6" r="1.0" fill="#1f77b4"/>
<circle cx="502.7" cy="98.6" r="1.0" fill="#1f77b4"/>
<circle cx="427.3" cy="73.5" r="1.0" fill="#1f77b4"/>
<circle cx="466.0" cy="70.1" r="1.0" fill="#1f77b4"/>
<circle cx="458.2" cy="70.1" r="1.0" fill="#1f77b4"/>
<circle cx="460.1" cy="72.3" r="1.0" fill="#1f77b4"/>
<circle cx="461.6" cy="71.6" r="1.0" fill="#1f77b4"/>
<circle cx="468.1" cy="71.6" r="1.0" fill="#1f77b4"/>
<circle cx="463.8" cy="75.2" r="1.0" fill="#1f77b4"/>
<circle cx="462.3" cy="76.7" r="1.0" fill="#1f77b4"/>
<circle cx="457.9" cy="75.2" r="1.0" fill="#1f77b4"/>
<circle cx="467.4" cy="77.8" r="1.0" fill="#1f77b4"/>
<circle cx="455.0" cy="80.8" r="1.0" fill="#1f77b4"/>
<circle cx="460.1" cy="81.0" r="1.0" fill="#1f77b4"/>
<circle cx="461.6" cy="82.2" r="1.0" fill="#1f77b4"/>
<circle cx="463.0" cy="83.2" r="1.0" fill="#1f77b4"/>
<circle cx="466.7" cy="83.2" r="1.0" fill="#1f77b4"/>
<circle cx="468.1" cy="85.4" r="1.0" fill="#1f77b4"/>
<circle cx="473.2" cy="82.2" r="1.0" fill="#1f77b4"/>
<circle cx="439.0" cy="86.2" r="1.0" fill="#1f77b4"/>
<circle cx="453.6" cy="88.3" r="1.0" fill="#1f77b4"/>
<circle cx="458.7" cy="88.3" r="1.0" fill="#1f77b4"/>
<circle cx="466.0" cy="88.3" r="1.0" fill="#1f77b4"/>
<circle cx="432.4" cy="92.0" r="1.0" fill="#1f77b4"/>
<circle cx="452.1" cy="92.0" r="1.0" fill="#1f77b4"/>
<circle cx="453.6" cy="93.4" r="1.0" fill="#1f77b4"/>
<circle cx="461.6" cy="93.4" r="1.0" fill="#1f77b4"/>
<circle cx="468.9" cy="94.2" r="1.0" fill="#1f77b4"/>
<circle cx="473.2" cy="92.4" r="1.0" fill="#1f77b4"/>
<circle cx="443.3" cy="95.9" r="1.0" fill="#1f77b4"/>
<circle cx="452.1" cy="94.9" r="1.0" fill="#1f77b4"/>
<circle cx="464.5" cy="96.4" r="1.0" fill="#1f77b4"/>
<circle cx="466.0" cy="97.1" r="1.0" fill="#1f77b4"/>
<circle cx="470.3" cy="95.6" r="1.0" fill="#1f77b4"/>
<circle cx="471.8" cy="96.4" r="1.0" fill="#1f77b4"/>
<circle cx="455.0" cy="100.0" r="1.0" fill="#1f77b4"/>
<circle cx="453.6" cy="101.2" r="1.0" fill="#1f77b4"/>
<circle cx="459.4" cy="101.5" r="1.0" fill="#1f77b4"/>
<circle cx="460.6" cy="102.9" r="1.0" fill="#1f77b4"/>
<circle cx="464.5" cy="104.1" r="1.0" fill="#1f77b4"/>
<circle cx="474.0" cy="102.6" r="1.0" fill="#1f77b4"/>
<circle cx="463.8" cy="108.5" r="1.0" fill="#1f77b4"/>
<circle cx="468.9" cy="107.3" r="1.0" fill="#1f77b4"/>
<circle cx="472.5" cy="108.8" r="1.0" fill="#1f77b4"/>
<circle cx="445.5" cy="109.1" r="1.0" fill="#1f77b4"/>
<circle cx="450.9" cy="114.3" r="1.0" fill="#1f77b4"/>
<circle cx="460.1" cy="114.6" r="1.0" fill="#1f77b4"/>
<circle cx="466.7" cy="115.3" r="1.0" fill="#1f77b4"/>
<circle cx="469.6" cy="115.8" r="1.0" fill="#1f77b4"/>
<circle cx="474.0" cy="113.4" r="1.0" fill="#1f77b4"/>
<circle cx="447.0" cy="117.5" r="1.0" fill="#1f77b4"/>
<circle cx="438.2" cy="118.7" r="1.0" fill="#1f77b4"/>
<circle cx="454.3" cy="120.1" r="1.0" fill="#1f77b4"/>
<circle cx="455.7" cy="120.7" r="1.0" fill="#1f77b4"/>
<circle cx="452.8" cy="121.2" r="1.0" fill="#1f77b4"/>
<circle cx="458.7" cy="121.9" r="1.0" fill="#1f77b4"/>
<circle cx="462.3" cy="121.6" r="1.0" fill="#1f77b4"/>
<circle cx="469.6" cy="119.0" r="1.0" fill="#1f77b4"/>
<circle cx="471.8" cy="120.1" r="1.0" fill="#1f77b4"/>
<circle cx="457.6" cy="124.1" r="1.0" fill="#1f77b4"/>
<circle cx="463.0" cy="124.5" r="1.0" fill="#1f77b4"/>
<circle cx="468.9" cy="123.4" r="1.0" fill="#1f77b4"/>
<circle cx="472.2" cy="123.1" r="1.0" fill="#1f77b4"/>
<circle cx="436.8" cy="126.0" r="1.0" fill="#1f77b4"/>
<circle cx="455.0" cy="126.3" r="1.0" fill="#1f77b4"/>
<circle cx="462.3" cy="126.3" r="1.0" fill="#1f77b4"/>
<circle cx="468.1" cy="128.0" r="1.0" fill="#1f77b4"/>
<circle cx="459.4" cy="128.9" r="1.0" fill="#1f77b4"/>
<circle cx="476.1" cy="99.2" r="1.0" fill="#1f77b4"/>
<circle cx="477.0" cy="101.4" r="1.0" fill="#1f77b4"/>
<circle cx="477.4" cy="104.1" r="1.0" fill="#1f77b4"/>
<circle cx="484.3" cy="101.1" r="1.0" fill="#1f77b4"/>
<circle cx="486.0" cy="102.9" r="1.0" fill="#1f77b4"/>
<circle cx="487.2" cy="104.5" r="1.0" fill="#1f77b4"/>
<circle cx="488.4" cy="106.2" r="1.0" fill="#1f77b4"/>
<circle cx="489.6" cy="108.2" r="1.0" fill="#1f77b4"/>
<circle cx="492.5" cy="100.3" r="1.0" fill="#1f77b4"/>
<circle cx="497.4" cy="101.7" r="1.0" fill="#1f77b4"/>
<circle cx="510.5" cy="101.1" r="1.0" fill="#1f77b4"/>
<circle cx="481.9" cy="105.8" r="1.0" fill="#1f77b4"/>
<circle cx="499.1" cy="106.0" r="1.0" fill="#1f77b4"/>
<circle cx="510.1" cy="106.2" r="1.0" fill="#1f77b4"/>
<circle cx="474.9" cy="108.6" r="1.0" fill="#1f77b4"/>
<circle cx="477.5" cy="108.5" r="1.0" fill="#1f77b4"/>
<circle cx="480.2" cy="109.1" r="1.0" fill="#1f77b4"/>
<circle cx="497.8" cy="109.3" r="1.0" fill="#1f77b4"/>
<circle cx="502.7" cy="109.6" r="1.0" fill="#1f77b4"/>
<circle cx="504.8" cy="110.1" r="1.0" fill="#1f77b4"/>
<circle cx="503.4" cy="111.5" r="1.0" fill="#1f77b4"/>
<circle cx="519.0" cy="107.8" r="1.0" fill="#1f77b4"/>
<circle cx="470.4" cy="110.3" r="1.0" fill="#1f77b4"/>
<circle cx="479.0" cy="113.4" r="1.0" fill="#1f77b4"/>
<circle cx="487.6" cy="113.1" r="1.0" fill="#1f77b4"/>
<circle cx="481.9" cy="115.0" r="1.0" fill="#1f77b4"/>
<circle cx="485.1" cy="115.8" r="1.0" fill="#1f77b4"/>
<circle cx="490.1" cy="114.8" r="1.0" fill="#1f77b4"/>
<circle cx="502.6" cy="114.8" r="1.0" fill="#1f77b4"/>
<circle cx="505.0" cy="117.0" r="1.0" fill="#1f77b4"/>
<circle cx="510.9" cy="117.2" r="1.0" fill="#1f77b4"/>
<circle cx="516.7" cy="113.4" r="1.0" fill="#1f77b4"/>
<circle cx="470.4" cy="117.2" r="1.0" fill="#1f77b4"/>
<circle cx="475.9" cy="118.9" r="1.0" fill="#1f77b4"/>
<circle cx="484.7" cy="118.9" r="1.0" fill="#1f77b4"/>
<circle cx="486.8" cy="119.4" r="1.0" fill="#1f77b4"/>
<circle cx="487.6" cy="121.1" r="1.0" fill="#1f77b4"/>
<circle cx="527.1" cy="119.1" r="1.0" fill="#1f77b4"/>
<circle cx="474.7" cy="121.9" r="1.0" fill="#1f77b4"/>
<circle cx="508.9" cy="121.9" r="1.0" fill="#1f77b4"/>
<circle cx="484.6" cy="125.4" r="1.0" fill="#1f77b4"/>
<circle cx="475.3" cy="126.0" r="1.0" fill="#1f77b4"/>
<circle cx="500.7" cy="128.1" r="1.0" fill="#1f77b4"/>
<circle cx="506.4" cy="127.1" r="1.0" fill="#1f77b4"/>
<circle cx="510.9" cy="127.3" r="1.0" fill="#1f77b4"/>
<circle cx="482.7" cy="130.9" r="1.0" fill="#1f77b4"/>
<circle cx="473.7" cy="132.0" r="1.0" fill="#1f77b4"/>
<circle cx="497.2" cy="132.6" r="1.0" fill="#1f77b4"/>
<circle cx="494.9" cy="134.9" r="1.0" fill="#1f77b4"/>
<circle cx="450.3" cy="134.6" r="1.0" fill="#1f77b4"/>
<circle cx="457.5" cy="135.1" r="1.0" fill="#1f77b4"/>
<circle cx="467.9" cy="137.6" r="1.0" fill="#1f77b4"/>
<circle cx="444.2" cy="140.3" r="1.0" fill="#1f77b4"/>
<circle cx="461.4" cy="140.6" r="1.0" fill="#1f77b4"/>
<circle cx="464.6" cy="141.6" r="1.0" fill="#1f77b4"/>
<circle cx="490.8" cy="139.6" r="1.0" fill="#1f77b4"/>
<circle cx="493.7" cy="142.0" r="1.0" fill="#1f77b4"/>
<circle cx="499.2" cy="139.9" r="1.0" fill="#1f77b4"/>
<circle cx="435.9" cy="144.0" r="1.0" fill="#1f77b4"/>
<circle cx="449.8" cy="143.7" r="1.0" fill="#1f77b4"/>
<circle cx="448.8" cy="145.7" r="1.0" fill="#1f77b4"/>
<circle cx="465.9" cy="144.4" r="1.0" fill="#1f77b4"/>
<circle cx="468.6" cy="147.0" r="1.0" fill="#1f77b4"/>
<circle cx="474.0" cy="146.7" r="1.0" fill="#1f77b4"/>
<circle cx="473.5" cy="149.2" r="1.0" fill="#1f77b4"/>
<circle cx="482.8" cy="148.0" r="1.0" fill="#1f77b4"/>
<circle cx="497.7" cy="145.2" r="1.0" fill="#1f77b4"/>
<circle cx="451.1" cy="152.7" r="1.0" fill="#1f77b4"/>
<circle cx="464.4" cy="152.4" r="1.0" fill="#1f77b4"/>
<circle cx="498.5" cy="159.3" r="1.0" fill="#1f77b4"/>
<circle cx="458.5" cy="163.5" r="1.0" fill="#1f77b4"/>
<circle cx="502.8" cy="133.5" r="1.0" fill="#1f77b4"/>
<circle cx="510.9" cy="133.5" r="1.0" fill="#1f77b4"/>
<circle cx="514.1" cy="134.6" r="1.0" fill="#1f77b4"/>
<circle cx="539.7" cy="131.8" r="1.0" fill="#1f77b4"/>
<circle cx="545.8" cy="135.3" r="1.0" fill="#1f77b4"/>
<circle cx="554.4" cy="131.3" r="1.0" fill="#1f77b4"/>
<circle cx="501.7" cy="139.6" r="1.0" fill="#1f77b4"/>
<circle cx="507.8" cy="140.3" r="1.0" fill="#1f77b4"/>
<circle cx="509.1" cy="141.2" r="1.0" fill="#1f77b4"/>
<circle cx="503.3" cy="149.0" r="1.0" fill="#1f77b4"/>
<circle cx="505.5" cy="151.7" r="1.0" fill="#1f77b4"/>
<circle cx="512.2" cy="150.8" r="1.0" fill="#1f77b4"/>
<circle cx="469.1" cy="33.6" r="1.0" fill="#ff7f0e"/>
<circle cx="460.1" cy="45.7" r="1.0" fill="#ff7f0e"/>
<circle cx="470.1" cy="53.1" r="1.0" fill="#ff7f0e"/>
<circle cx="474.1" cy="55.8" r="1.0" fill="#ff7f0e"/>
<circle cx="468.7" cy="63.6" r="1.0" fill="#ff7f0e"/>
<circle cx="473.2" cy="65.2" r="1.0" fill="#ff7f0e"/>
<circle cx="488.3" cy="22.8" r="1.0" fill="#ff7f0e"/>
<circle cx="489.2" cy="35.3" r="1.0" fill="#ff7f0e"/>
<circle cx="486.5" cy="41.6" r="1.0" fill="#ff7f0e"/>
<circle cx="493.5" cy="47.7" r="1.0" fill="#ff7f0e"/>
<circle cx="508.3" cy="45.3" r="1.0" fill="#ff7f0e"/>
<circle cx="490.5" cy="58.7" r="1.0" fill="#ff7f0e"/>
<circle cx="480.7" cy="61.8" r="1.0" fill="#ff7f0e"/>
<circle cx="490.5" cy="68.1" r="1.0" fill="#ff7f0e"/>
<circle cx="482.3" cy="74.4" r="1.0" fill="#ff7f0e"/>
<circle cx="471.6" cy="76.5" r="1.0" fill="#ff7f0e"/>
<circle cx="478.6" cy="77.7" r="1.0" fill="#ff7f0e"/>
<circle cx="498.2" cy="79.7" r="1.0" fill="#ff7f0e"/>
<circle cx="472.5" cy="78.9" r="1.0" fill="#ff7f0e"/>
<circle cx="474.9" cy="86.7" r="1.0" fill="#ff7f0e"/>
<circle cx="473.3" cy="87.5" r="1.0" fill="#ff7f0e"/>
<circle cx="482.3" cy="88.7" r="1.0" fill="#ff7f0e"/>
<circle cx="499.5" cy="88.7" r="1.0" fill="#ff7f0e"/>
<circle cx="476.1" cy="90.0" r="1.0" fill="#ff7f0e"/>
<circle cx="513.4" cy="94.3" r="1.0" fill="#ff7f0e"/>
<circle cx="473.3" cy="95.7" r="1.0" fill="#ff7f0e"/>
<circle cx="504.4" cy="96.9" r="1.0" fill="#ff7f0e"/>
<circle cx="505.9" cy="98.2" r="1.0" fill="#ff7f0e"/>
<circle cx="479.4" cy="99.4" r="1.0" fill="#ff7f0e"/>
<circle cx="464.5" cy="79.6" r="1.0" fill="#ff7f0e"/>
<circle cx="453.3" cy="79.3" r="1.0" fill="#ff7f0e"/>
<circle cx="429.5" cy="85.4" r="1.0" fill="#ff7f0e"/>
<circle cx="449.2" cy="85.4" r="1.0" fill="#ff7f0e"/>
<circle cx="457.2" cy="85.1" r="1.0" fill="#ff7f0e"/>
<circle cx="461.1" cy="89.1" r="1.0" fill="#ff7f0e"/>
<circle cx="467.4" cy="86.9" r="1.0" fill="#ff7f0e"/>
<circle cx="460.1" cy="95.9" r="1.0" fill="#ff7f0e"/>
<circle cx="444.1" cy="98.3" r="1.0" fill="#ff7f0e"/>
<circle cx="462.3" cy="103.7" r="1.0" fill="#ff7f0e"/>
<circle cx="471.8" cy="103.7" r="1.0" fill="#ff7f0e"/>
<circle cx="451.1" cy="105.1" r="1.0" fill="#ff7f0e"/>
<circle cx="457.2" cy="108.0" r="1.0" fill="#ff7f0e"/>
<circle cx="464.5" cy="112.8" r="1.0" fill="#ff7f0e"/>
<circle cx="459.7" cy="116.8" r="1.0" fill="#ff7f0e"/>
<circle cx="436.3" cy="121.6" r="1.0" fill="#ff7f0e"/>
<circle cx="475.9" cy="106.0" r="1.0" fill="#ff7f0e"/>
<circle cx="498.7" cy="115.6" r="1.0" fill="#ff7f0e"/>
<circle cx="498.2" cy="126.0" r="1.0" fill="#ff7f0e"/>
<circle cx="501.5" cy="125.7" r="1.0" fill="#ff7f0e"/>
<circle cx="495.0" cy="128.1" r="1.0" fill="#ff7f0e"/>
<circle cx="497.4" cy="129.9" r="1.0" fill="#ff7f0e"/>
<circle cx="448.1" cy="138.1" r="1.0" fill="#ff7f0e"/>
<circle cx="442.4" cy="140.1" r="1.0" fill="#ff7f0e"/>
<circle cx="559.6" cy="133.1" r="1.0" fill="#ff7f0e"/>
<rect x="615.7" y="0.6" width="160.70" height="168.30" fill="none" stroke="#8a8a8a" stroke-width="0.85"/>
<line x1="624.5" y1="168.9" x2="624.5" y2="170.3" stroke="#444" stroke-width="0.5"/>
<text x="624.5" y="174.50" class="t2" text-anchor="middle">−0.10</text>
<line x1="651.6" y1="168.9" x2="651.6" y2="170.3" stroke="#444" stroke-width="0.5"/>
<text x="651.6" y="174.50" class="t2" text-anchor="middle">−0.05</text>
<line x1="678.7" y1="168.9" x2="678.7" y2="170.3" stroke="#444" stroke-width="0.5"/>
<text x="678.7" y="174.50" class="t2" text-anchor="middle">0.00</text>
<line x1="705.8000000000001" y1="168.9" x2="705.8000000000001" y2="170.3" stroke="#444" stroke-width="0.5"/>
<text x="705.8000000000001" y="174.50" class="t2" text-anchor="middle">0.05</text>
<line x1="732.9000000000001" y1="168.9" x2="732.9000000000001" y2="170.3" stroke="#444" stroke-width="0.5"/>
<text x="732.9000000000001" y="174.50" class="t2" text-anchor="middle">0.10</text>
<line x1="760.0000000000001" y1="168.9" x2="760.0000000000001" y2="170.3" stroke="#444" stroke-width="0.5"/>
<text x="760.0000000000001" y="174.50" class="t2" text-anchor="middle">0.15</text>
<line x1="614.3000000000001" y1="19.2" x2="615.7" y2="19.2" stroke="#444" stroke-width="0.5"/>
<text x="613.50" y="20.40" class="t2" text-anchor="end">0.10</text>
<line x1="614.3000000000001" y1="51.5" x2="615.7" y2="51.5" stroke="#444" stroke-width="0.5"/>
<text x="613.50" y="52.70" class="t2" text-anchor="end">0.05</text>
<line x1="614.3000000000001" y1="83.80000000000001" x2="615.7" y2="83.80000000000001" stroke="#444" stroke-width="0.5"/>
<text x="613.50" y="85.00" class="t2" text-anchor="end">0.00</text>
<line x1="614.3000000000001" y1="116.10000000000002" x2="615.7" y2="116.10000000000002" stroke="#444" stroke-width="0.5"/>
<text x="613.50" y="117.30" class="t2" text-anchor="end">−0.05</text>
<line x1="614.3000000000001" y1="148.4" x2="615.7" y2="148.4" stroke="#444" stroke-width="0.5"/>
<text x="613.50" y="149.60" class="t2" text-anchor="end">−0.10</text>
<circle cx="647.7" cy="11.8" r="1.0" fill="#1f77b4"/>
<circle cx="660.1" cy="10.5" r="1.0" fill="#1f77b4"/>
<circle cx="663.2" cy="12.5" r="1.0" fill="#1f77b4"/>
<circle cx="629.1" cy="20.9" r="1.0" fill="#1f77b4"/>
<circle cx="641.0" cy="22.5" r="1.0" fill="#1f77b4"/>
<circle cx="651.6" cy="24.6" r="1.0" fill="#1f77b4"/>
<circle cx="660.1" cy="23.6" r="1.0" fill="#1f77b4"/>
<circle cx="664.8" cy="25.2" r="1.0" fill="#1f77b4"/>
<circle cx="667.5" cy="20.2" r="1.0" fill="#1f77b4"/>
<circle cx="667.2" cy="26.5" r="1.0" fill="#1f77b4"/>
<circle cx="670.9" cy="29.9" r="1.0" fill="#1f77b4"/>
<circle cx="649.7" cy="28.3" r="1.0" fill="#1f77b4"/>
<circle cx="650.0" cy="30.3" r="1.0" fill="#1f77b4"/>
<circle cx="659.8" cy="28.7" r="1.0" fill="#1f77b4"/>
<circle cx="659.8" cy="32.3" r="1.0" fill="#1f77b4"/>
<circle cx="643.7" cy="32.7" r="1.0" fill="#1f77b4"/>
<circle cx="651.7" cy="34.7" r="1.0" fill="#1f77b4"/>
<circle cx="655.8" cy="36.1" r="1.0" fill="#1f77b4"/>
<circle cx="655.8" cy="38.6" r="1.0" fill="#1f77b4"/>
<circle cx="634.5" cy="39.8" r="1.0" fill="#1f77b4"/>
<circle cx="658.5" cy="41.0" r="1.0" fill="#1f77b4"/>
<circle cx="666.1" cy="38.0" r="1.0" fill="#1f77b4"/>
<circle cx="668.8" cy="39.0" r="1.0" fill="#1f77b4"/>
<circle cx="672.9" cy="40.1" r="1.0" fill="#1f77b4"/>
<circle cx="663.5" cy="42.4" r="1.0" fill="#1f77b4"/>
<circle cx="657.4" cy="42.8" r="1.0" fill="#1f77b4"/>
<circle cx="654.7" cy="44.8" r="1.0" fill="#1f77b4"/>
<circle cx="656.0" cy="47.4" r="1.0" fill="#1f77b4"/>
<circle cx="660.5" cy="45.8" r="1.0" fill="#1f77b4"/>
<circle cx="662.1" cy="47.8" r="1.0" fill="#1f77b4"/>
<circle cx="666.5" cy="48.0" r="1.0" fill="#1f77b4"/>
<circle cx="669.1" cy="47.1" r="1.0" fill="#1f77b4"/>
<circle cx="627.8" cy="48.9" r="1.0" fill="#1f77b4"/>
<circle cx="646.6" cy="49.1" r="1.0" fill="#1f77b4"/>
<circle cx="639.0" cy="53.2" r="1.0" fill="#1f77b4"/>
<circle cx="700.5" cy="29.3" r="1.0" fill="#1f77b4"/>
<circle cx="732.4" cy="36.8" r="1.0" fill="#1f77b4"/>
<circle cx="769.2" cy="59.2" r="1.0" fill="#1f77b4"/>
<circle cx="744.1" cy="66.1" r="1.0" fill="#1f77b4"/>
<circle cx="692.0" cy="61.6" r="1.0" fill="#1f77b4"/>
<circle cx="694.0" cy="64.6" r="1.0" fill="#1f77b4"/>
<circle cx="691.6" cy="68.1" r="1.0" fill="#1f77b4"/>
<circle cx="708.2" cy="72.7" r="1.0" fill="#1f77b4"/>
<circle cx="690.0" cy="75.2" r="1.0" fill="#1f77b4"/>
<circle cx="693.0" cy="75.2" r="1.0" fill="#1f77b4"/>
<circle cx="697.0" cy="76.8" r="1.0" fill="#1f77b4"/>
<circle cx="699.5" cy="75.2" r="1.0" fill="#1f77b4"/>
<circle cx="701.7" cy="77.8" r="1.0" fill="#1f77b4"/>
<circle cx="694.4" cy="81.8" r="1.0" fill="#1f77b4"/>
<circle cx="696.0" cy="82.8" r="1.0" fill="#1f77b4"/>
<circle cx="699.7" cy="82.8" r="1.0" fill="#1f77b4"/>
<circle cx="691.0" cy="80.8" r="1.0" fill="#1f77b4"/>
<circle cx="712.6" cy="78.8" r="1.0" fill="#1f77b4"/>
<circle cx="719.9" cy="79.8" r="1.0" fill="#1f77b4"/>
<circle cx="716.3" cy="87.3" r="1.0" fill="#1f77b4"/>
<circle cx="726.0" cy="88.9" r="1.0" fill="#1f77b4"/>
<circle cx="742.9" cy="85.9" r="1.0" fill="#1f77b4"/>
<circle cx="705.2" cy="89.3" r="1.0" fill="#1f77b4"/>
<circle cx="694.8" cy="86.9" r="1.0" fill="#1f77b4"/>
<circle cx="691.5" cy="90.3" r="1.0" fill="#1f77b4"/>
<circle cx="702.4" cy="92.2" r="1.0" fill="#1f77b4"/>
<circle cx="714.4" cy="93.6" r="1.0" fill="#1f77b4"/>
<circle cx="707.2" cy="95.5" r="1.0" fill="#1f77b4"/>
<circle cx="705.6" cy="98.0" r="1.0" fill="#1f77b4"/>
<circle cx="712.5" cy="98.3" r="1.0" fill="#1f77b4"/>
<circle cx="691.0" cy="97.4" r="1.0" fill="#1f77b4"/>
<circle cx="697.6" cy="100.3" r="1.0" fill="#1f77b4"/>
<circle cx="700.5" cy="99.3" r="1.0" fill="#1f77b4"/>
<circle cx="702.4" cy="99.9" r="1.0" fill="#1f77b4"/>
<circle cx="703.7" cy="101.2" r="1.0" fill="#1f77b4"/>
<circle cx="693.8" cy="103.1" r="1.0" fill="#1f77b4"/>
<circle cx="699.9" cy="103.7" r="1.0" fill="#1f77b4"/>
<circle cx="708.7" cy="103.7" r="1.0" fill="#1f77b4"/>
<circle cx="711.0" cy="104.5" r="1.0" fill="#1f77b4"/>
<circle cx="712.5" cy="103.1" r="1.0" fill="#1f77b4"/>
<circle cx="729.7" cy="103.5" r="1.0" fill="#1f77b4"/>
<circle cx="735.8" cy="104.1" r="1.0" fill="#1f77b4"/>
<circle cx="741.5" cy="105.0" r="1.0" fill="#1f77b4"/>
<circle cx="691.0" cy="109.4" r="1.0" fill="#1f77b4"/>
<circle cx="701.8" cy="109.8" r="1.0" fill="#1f77b4"/>
<circle cx="704.9" cy="109.4" r="1.0" fill="#1f77b4"/>
<circle cx="703.3" cy="111.7" r="1.0" fill="#1f77b4"/>
<circle cx="715.2" cy="109.4" r="1.0" fill="#1f77b4"/>
<circle cx="714.6" cy="110.8" r="1.0" fill="#1f77b4"/>
<circle cx="736.7" cy="109.8" r="1.0" fill="#1f77b4"/>
<circle cx="744.3" cy="111.3" r="1.0" fill="#1f77b4"/>
<circle cx="695.7" cy="113.6" r="1.0" fill="#1f77b4"/>
<circle cx="701.1" cy="114.6" r="1.0" fill="#1f77b4"/>
<circle cx="703.3" cy="115.5" r="1.0" fill="#1f77b4"/>
<circle cx="705.3" cy="113.6" r="1.0" fill="#1f77b4"/>
<circle cx="710.6" cy="113.2" r="1.0" fill="#1f77b4"/>
<circle cx="717.7" cy="114.6" r="1.0" fill="#1f77b4"/>
<circle cx="722.0" cy="115.9" r="1.0" fill="#1f77b4"/>
<circle cx="700.5" cy="117.0" r="1.0" fill="#1f77b4"/>
<circle cx="746.3" cy="118.9" r="1.0" fill="#1f77b4"/>
<circle cx="698.6" cy="121.2" r="1.0" fill="#1f77b4"/>
<circle cx="716.7" cy="121.6" r="1.0" fill="#1f77b4"/>
<circle cx="718.2" cy="122.2" r="1.0" fill="#1f77b4"/>
<circle cx="729.7" cy="121.6" r="1.0" fill="#1f77b4"/>
<circle cx="741.5" cy="123.1" r="1.0" fill="#1f77b4"/>
<circle cx="697.2" cy="124.1" r="1.0" fill="#1f77b4"/>
<circle cx="701.1" cy="124.7" r="1.0" fill="#1f77b4"/>
<circle cx="705.6" cy="125.4" r="1.0" fill="#1f77b4"/>
<circle cx="707.5" cy="126.0" r="1.0" fill="#1f77b4"/>
<circle cx="713.8" cy="123.1" r="1.0" fill="#1f77b4"/>
<circle cx="710.6" cy="127.0" r="1.0" fill="#1f77b4"/>
<circle cx="713.8" cy="129.8" r="1.0" fill="#1f77b4"/>
<circle cx="698.6" cy="130.8" r="1.0" fill="#1f77b4"/>
<circle cx="701.4" cy="131.7" r="1.0" fill="#1f77b4"/>
<circle cx="706.8" cy="134.2" r="1.0" fill="#1f77b4"/>
<circle cx="708.1" cy="136.5" r="1.0" fill="#1f77b4"/>
<circle cx="703.3" cy="136.1" r="1.0" fill="#1f77b4"/>
<circle cx="696.7" cy="136.5" r="1.0" fill="#1f77b4"/>
<circle cx="700.5" cy="138.8" r="1.0" fill="#1f77b4"/>
<circle cx="729.7" cy="137.4" r="1.0" fill="#1f77b4"/>
<circle cx="737.3" cy="136.5" r="1.0" fill="#1f77b4"/>
<circle cx="735.4" cy="138.8" r="1.0" fill="#1f77b4"/>
<circle cx="741.1" cy="136.5" r="1.0" fill="#1f77b4"/>
<circle cx="743.4" cy="135.0" r="1.0" fill="#1f77b4"/>
<circle cx="715.7" cy="141.3" r="1.0" fill="#1f77b4"/>
<circle cx="720.9" cy="142.2" r="1.0" fill="#1f77b4"/>
<circle cx="722.4" cy="141.8" r="1.0" fill="#1f77b4"/>
<circle cx="726.6" cy="144.1" r="1.0" fill="#1f77b4"/>
<circle cx="738.6" cy="142.6" r="1.0" fill="#1f77b4"/>
<circle cx="740.5" cy="143.7" r="1.0" fill="#1f77b4"/>
<circle cx="766.3" cy="140.9" r="1.0" fill="#1f77b4"/>
<circle cx="735.4" cy="147.0" r="1.0" fill="#1f77b4"/>
<circle cx="750.6" cy="146.0" r="1.0" fill="#1f77b4"/>
<circle cx="696.7" cy="147.9" r="1.0" fill="#1f77b4"/>
<circle cx="724.9" cy="148.9" r="1.0" fill="#1f77b4"/>
<circle cx="744.3" cy="150.8" r="1.0" fill="#1f77b4"/>
<circle cx="756.7" cy="150.8" r="1.0" fill="#1f77b4"/>
<circle cx="741.5" cy="157.1" r="1.0" fill="#1f77b4"/>
<circle cx="732.0" cy="161.7" r="1.0" fill="#1f77b4"/>
<circle cx="639.8" cy="101.9" r="1.0" fill="#1f77b4"/>
<circle cx="655.8" cy="102.4" r="1.0" fill="#1f77b4"/>
<circle cx="659.7" cy="100.8" r="1.0" fill="#1f77b4"/>
<circle cx="663.6" cy="103.1" r="1.0" fill="#1f77b4"/>
<circle cx="666.0" cy="103.1" r="1.0" fill="#1f77b4"/>
<circle cx="671.2" cy="102.4" r="1.0" fill="#1f77b4"/>
<circle cx="671.5" cy="103.9" r="1.0" fill="#1f77b4"/>
<circle cx="675.4" cy="100.8" r="1.0" fill="#1f77b4"/>
<circle cx="677.7" cy="103.1" r="1.0" fill="#1f77b4"/>
<circle cx="679.3" cy="103.9" r="1.0" fill="#1f77b4"/>
<circle cx="675.4" cy="105.5" r="1.0" fill="#1f77b4"/>
<circle cx="682.8" cy="100.8" r="1.0" fill="#1f77b4"/>
<circle cx="684.8" cy="101.3" r="1.0" fill="#1f77b4"/>
<circle cx="689.5" cy="101.3" r="1.0" fill="#1f77b4"/>
<circle cx="647.6" cy="107.8" r="1.0" fill="#1f77b4"/>
<circle cx="647.2" cy="111.8" r="1.0" fill="#1f77b4"/>
<circle cx="671.5" cy="108.6" r="1.0" fill="#1f77b4"/>
<circle cx="680.9" cy="108.2" r="1.0" fill="#1f77b4"/>
<circle cx="685.6" cy="110.2" r="1.0" fill="#1f77b4"/>
<circle cx="687.9" cy="109.7" r="1.0" fill="#1f77b4"/>
<circle cx="686.4" cy="114.1" r="1.0" fill="#1f77b4"/>
<circle cx="688.7" cy="111.8" r="1.0" fill="#1f77b4"/>
<circle cx="666.0" cy="115.7" r="1.0" fill="#1f77b4"/>
<circle cx="671.5" cy="117.3" r="1.0" fill="#1f77b4"/>
<circle cx="681.7" cy="117.3" r="1.0" fill="#1f77b4"/>
<circle cx="688.7" cy="117.3" r="1.0" fill="#1f77b4"/>
<circle cx="675.9" cy="121.2" r="1.0" fill="#1f77b4"/>
<circle cx="684.0" cy="122.7" r="1.0" fill="#1f77b4"/>
<circle cx="651.4" cy="123.2" r="1.0" fill="#1f77b4"/>
<circle cx="678.5" cy="124.3" r="1.0" fill="#1f77b4"/>
<circle cx="677.7" cy="125.9" r="1.0" fill="#1f77b4"/>
<circle cx="688.7" cy="124.3" r="1.0" fill="#1f77b4"/>
<circle cx="664.9" cy="127.1" r="1.0" fill="#1f77b4"/>
<circle cx="673.8" cy="128.2" r="1.0" fill="#1f77b4"/>
<circle cx="666.8" cy="129.8" r="1.0" fill="#1f77b4"/>
<circle cx="679.3" cy="129.3" r="1.0" fill="#1f77b4"/>
<circle cx="680.9" cy="129.0" r="1.0" fill="#1f77b4"/>
<circle cx="686.8" cy="131.1" r="1.0" fill="#1f77b4"/>
<circle cx="682.8" cy="137.3" r="1.0" fill="#1f77b4"/>
<circle cx="652.9" cy="45.6" r="1.0" fill="#1f77b4"/>
<circle cx="650.1" cy="50.0" r="1.0" fill="#1f77b4"/>
<circle cx="666.8" cy="50.6" r="1.0" fill="#1f77b4"/>
<circle cx="674.2" cy="50.2" r="1.0" fill="#1f77b4"/>
<circle cx="649.7" cy="52.9" r="1.0" fill="#1f77b4"/>
<circle cx="649.9" cy="54.5" r="1.0" fill="#1f77b4"/>
<circle cx="649.7" cy="56.1" r="1.0" fill="#1f77b4"/>
<circle cx="652.6" cy="51.6" r="1.0" fill="#1f77b4"/>
<circle cx="653.8" cy="54.5" r="1.0" fill="#1f77b4"/>
<circle cx="655.0" cy="52.5" r="1.0" fill="#1f77b4"/>
<circle cx="657.7" cy="52.7" r="1.0" fill="#1f77b4"/>
<circle cx="658.4" cy="54.5" r="1.0" fill="#1f77b4"/>
<circle cx="658.5" cy="56.1" r="1.0" fill="#1f77b4"/>
<circle cx="658.5" cy="57.6" r="1.0" fill="#1f77b4"/>
<circle cx="658.9" cy="59.2" r="1.0" fill="#1f77b4"/>
<circle cx="659.9" cy="53.7" r="1.0" fill="#1f77b4"/>
<circle cx="662.1" cy="54.5" r="1.0" fill="#1f77b4"/>
<circle cx="666.4" cy="54.3" r="1.0" fill="#1f77b4"/>
<circle cx="668.7" cy="53.7" r="1.0" fill="#1f77b4"/>
<circle cx="669.9" cy="56.5" r="1.0" fill="#1f77b4"/>
<circle cx="650.7" cy="58.4" r="1.0" fill="#1f77b4"/>
<circle cx="653.8" cy="58.8" r="1.0" fill="#1f77b4"/>
<circle cx="642.5" cy="60.5" r="1.0" fill="#1f77b4"/>
<circle cx="660.1" cy="62.0" r="1.0" fill="#1f77b4"/>
<circle cx="662.5" cy="62.0" r="1.0" fill="#1f77b4"/>
<circle cx="666.0" cy="62.7" r="1.0" fill="#1f77b4"/>
<circle cx="670.1" cy="62.4" r="1.0" fill="#1f77b4"/>
<circle cx="671.9" cy="62.7" r="1.0" fill="#1f77b4"/>
<circle cx="647.5" cy="62.4" r="1.0" fill="#1f77b4"/>
<circle cx="651.5" cy="62.7" r="1.0" fill="#1f77b4"/>
<circle cx="643.2" cy="64.7" r="1.0" fill="#1f77b4"/>
<circle cx="647.2" cy="64.7" r="1.0" fill="#1f77b4"/>
<circle cx="650.3" cy="66.0" r="1.0" fill="#1f77b4"/>
<circle cx="655.8" cy="65.5" r="1.0" fill="#1f77b4"/>
<circle cx="657.7" cy="63.5" r="1.0" fill="#1f77b4"/>
<circle cx="660.9" cy="65.9" r="1.0" fill="#1f77b4"/>
<circle cx="667.8" cy="65.5" r="1.0" fill="#1f77b4"/>
<circle cx="667.5" cy="67.1" r="1.0" fill="#1f77b4"/>
<circle cx="671.1" cy="65.9" r="1.0" fill="#1f77b4"/>
<circle cx="646.4" cy="67.8" r="1.0" fill="#1f77b4"/>
<circle cx="652.3" cy="68.2" r="1.0" fill="#1f77b4"/>
<circle cx="654.6" cy="69.4" r="1.0" fill="#1f77b4"/>
<circle cx="662.8" cy="69.0" r="1.0" fill="#1f77b4"/>
<circle cx="664.4" cy="70.2" r="1.0" fill="#1f77b4"/>
<circle cx="666.0" cy="72.2" r="1.0" fill="#1f77b4"/>
<circle cx="666.8" cy="68.6" r="1.0" fill="#1f77b4"/>
<circle cx="671.9" cy="71.4" r="1.0" fill="#1f77b4"/>
<circle cx="673.4" cy="72.2" r="1.0" fill="#1f77b4"/>
<circle cx="637.4" cy="70.6" r="1.0" fill="#1f77b4"/>
<circle cx="640.9" cy="74.4" r="1.0" fill="#1f77b4"/>
<circle cx="644.8" cy="73.7" r="1.0" fill="#1f77b4"/>
<circle cx="673.8" cy="68.2" r="1.0" fill="#1f77b4"/>
<circle cx="646.2" cy="75.2" r="1.0" fill="#1f77b4"/>
<circle cx="648.2" cy="79.0" r="1.0" fill="#1f77b4"/>
<circle cx="653.5" cy="77.1" r="1.0" fill="#1f77b4"/>
<circle cx="655.8" cy="83.0" r="1.0" fill="#1f77b4"/>
<circle cx="657.7" cy="83.3" r="1.0" fill="#1f77b4"/>
<circle cx="660.0" cy="72.4" r="1.0" fill="#1f77b4"/>
<circle cx="663.6" cy="75.4" r="1.0" fill="#1f77b4"/>
<circle cx="664.5" cy="73.1" r="1.0" fill="#1f77b4"/>
<circle cx="666.4" cy="75.0" r="1.0" fill="#1f77b4"/>
<circle cx="665.6" cy="78.8" r="1.0" fill="#1f77b4"/>
<circle cx="669.4" cy="73.5" r="1.0" fill="#1f77b4"/>
<circle cx="672.0" cy="73.1" r="1.0" fill="#1f77b4"/>
<circle cx="671.7" cy="78.8" r="1.0" fill="#1f77b4"/>
<circle cx="671.7" cy="80.3" r="1.0" fill="#1f77b4"/>
<circle cx="674.3" cy="75.8" r="1.0" fill="#1f77b4"/>
<circle cx="675.8" cy="76.2" r="1.0" fill="#1f77b4"/>
<circle cx="677.3" cy="73.5" r="1.0" fill="#1f77b4"/>
<circle cx="680.4" cy="73.1" r="1.0" fill="#1f77b4"/>
<circle cx="683.4" cy="72.8" r="1.0" fill="#1f77b4"/>
<circle cx="677.3" cy="79.2" r="1.0" fill="#1f77b4"/>
<circle cx="677.7" cy="81.8" r="1.0" fill="#1f77b4"/>
<circle cx="679.6" cy="81.8" r="1.0" fill="#1f77b4"/>
<circle cx="681.9" cy="83.3" r="1.0" fill="#1f77b4"/>
<circle cx="679.6" cy="75.4" r="1.0" fill="#1f77b4"/>
<circle cx="686.0" cy="75.8" r="1.0" fill="#1f77b4"/>
<circle cx="687.2" cy="77.7" r="1.0" fill="#1f77b4"/>
<circle cx="686.4" cy="81.8" r="1.0" fill="#1f77b4"/>
<circle cx="694.0" cy="83.3" r="1.0" fill="#1f77b4"/>
<circle cx="667.5" cy="83.3" r="1.0" fill="#1f77b4"/>
<circle cx="670.1" cy="84.1" r="1.0" fill="#1f77b4"/>
<circle cx="655.4" cy="86.0" r="1.0" fill="#1f77b4"/>
<circle cx="660.3" cy="86.0" r="1.0" fill="#1f77b4"/>
<circle cx="663.0" cy="85.2" r="1.0" fill="#1f77b4"/>
<circle cx="664.9" cy="85.6" r="1.0" fill="#1f77b4"/>
<circle cx="666.4" cy="86.4" r="1.0" fill="#1f77b4"/>
<circle cx="678.5" cy="86.0" r="1.0" fill="#1f77b4"/>
<circle cx="654.7" cy="90.5" r="1.0" fill="#1f77b4"/>
<circle cx="656.9" cy="90.1" r="1.0" fill="#1f77b4"/>
<circle cx="657.7" cy="91.8" r="1.0" fill="#1f77b4"/>
<circle cx="664.1" cy="90.5" r="1.0" fill="#1f77b4"/>
<circle cx="670.5" cy="89.8" r="1.0" fill="#1f77b4"/>
<circle cx="673.5" cy="89.8" r="1.0" fill="#1f77b4"/>
<circle cx="677.3" cy="89.4" r="1.0" fill="#1f77b4"/>
<circle cx="677.7" cy="91.3" r="1.0" fill="#1f77b4"/>
<circle cx="680.4" cy="88.6" r="1.0" fill="#1f77b4"/>
<circle cx="682.2" cy="88.3" r="1.0" fill="#1f77b4"/>
<circle cx="684.1" cy="90.5" r="1.0" fill="#1f77b4"/>
<circle cx="686.4" cy="90.1" r="1.0" fill="#1f77b4"/>
<circle cx="688.3" cy="89.4" r="1.0" fill="#1f77b4"/>
<circle cx="648.2" cy="92.0" r="1.0" fill="#1f77b4"/>
<circle cx="635.4" cy="93.9" r="1.0" fill="#1f77b4"/>
<circle cx="655.8" cy="93.9" r="1.0" fill="#1f77b4"/>
<circle cx="661.8" cy="93.2" r="1.0" fill="#1f77b4"/>
<circle cx="674.7" cy="94.7" r="1.0" fill="#1f77b4"/>
<circle cx="677.3" cy="97.7" r="1.0" fill="#1f77b4"/>
<circle cx="683.4" cy="94.3" r="1.0" fill="#1f77b4"/>
<circle cx="681.5" cy="95.8" r="1.0" fill="#1f77b4"/>
<circle cx="686.8" cy="94.7" r="1.0" fill="#1f77b4"/>
<circle cx="687.2" cy="96.2" r="1.0" fill="#1f77b4"/>
<circle cx="689.4" cy="92.4" r="1.0" fill="#1f77b4"/>
<circle cx="689.8" cy="93.9" r="1.0" fill="#1f77b4"/>
<circle cx="646.3" cy="96.3" r="1.0" fill="#1f77b4"/>
<circle cx="660.0" cy="96.0" r="1.0" fill="#1f77b4"/>
<circle cx="661.5" cy="97.7" r="1.0" fill="#1f77b4"/>
<circle cx="687.9" cy="98.5" r="1.0" fill="#1f77b4"/>
<circle cx="676.9" cy="8.1" r="1.0" fill="#1f77b4"/>
<circle cx="675.9" cy="26.1" r="1.0" fill="#1f77b4"/>
<circle cx="688.7" cy="24.0" r="1.0" fill="#1f77b4"/>
<circle cx="675.3" cy="39.4" r="1.0" fill="#1f77b4"/>
<circle cx="683.7" cy="44.2" r="1.0" fill="#1f77b4"/>
<circle cx="676.1" cy="44.4" r="1.0" fill="#1f77b4"/>
<circle cx="684.8" cy="51.0" r="1.0" fill="#1f77b4"/>
<circle cx="685.6" cy="56.5" r="1.0" fill="#1f77b4"/>
<circle cx="678.2" cy="59.8" r="1.0" fill="#1f77b4"/>
<circle cx="688.5" cy="65.0" r="1.0" fill="#1f77b4"/>
<circle cx="678.5" cy="67.1" r="1.0" fill="#1f77b4"/>
<circle cx="681.4" cy="66.3" r="1.0" fill="#1f77b4"/>
<circle cx="682.2" cy="67.9" r="1.0" fill="#1f77b4"/>
<circle cx="685.7" cy="67.1" r="1.0" fill="#1f77b4"/>
<circle cx="679.0" cy="69.7" r="1.0" fill="#1f77b4"/>
<circle cx="674.7" cy="71.0" r="1.0" fill="#1f77b4"/>
<circle cx="677.1" cy="71.8" r="1.0" fill="#1f77b4"/>
<circle cx="681.8" cy="73.0" r="1.0" fill="#1f77b4"/>
<circle cx="683.0" cy="74.6" r="1.0" fill="#1f77b4"/>
<circle cx="623.1" cy="66.5" r="1.0" fill="#1f77b4"/>
<circle cx="653.1" cy="24.9" r="1.0" fill="#ff7f0e"/>
<circle cx="661.4" cy="24.2" r="1.0" fill="#ff7f0e"/>
<circle cx="667.2" cy="28.0" r="1.0" fill="#ff7f0e"/>
<circle cx="644.3" cy="37.0" r="1.0" fill="#ff7f0e"/>
<circle cx="646.0" cy="36.7" r="1.0" fill="#ff7f0e"/>
<circle cx="666.1" cy="41.5" r="1.0" fill="#ff7f0e"/>
<circle cx="650.7" cy="46.8" r="1.0" fill="#ff7f0e"/>
<circle cx="652.4" cy="47.1" r="1.0" fill="#ff7f0e"/>
<circle cx="668.8" cy="49.1" r="1.0" fill="#ff7f0e"/>
<circle cx="644.9" cy="54.9" r="1.0" fill="#ff7f0e"/>
<circle cx="696.7" cy="45.5" r="1.0" fill="#ff7f0e"/>
<circle cx="706.8" cy="82.8" r="1.0" fill="#ff7f0e"/>
<circle cx="713.2" cy="81.8" r="1.0" fill="#ff7f0e"/>
<circle cx="709.1" cy="92.6" r="1.0" fill="#ff7f0e"/>
<circle cx="698.0" cy="103.1" r="1.0" fill="#ff7f0e"/>
<circle cx="697.2" cy="107.9" r="1.0" fill="#ff7f0e"/>
<circle cx="717.1" cy="117.8" r="1.0" fill="#ff7f0e"/>
<circle cx="711.4" cy="131.7" r="1.0" fill="#ff7f0e"/>
<circle cx="717.7" cy="145.3" r="1.0" fill="#ff7f0e"/>
<circle cx="653.9" cy="103.1" r="1.0" fill="#ff7f0e"/>
<circle cx="661.7" cy="108.6" r="1.0" fill="#ff7f0e"/>
<circle cx="666.8" cy="107.1" r="1.0" fill="#ff7f0e"/>
<circle cx="670.7" cy="107.8" r="1.0" fill="#ff7f0e"/>
<circle cx="669.6" cy="111.0" r="1.0" fill="#ff7f0e"/>
<circle cx="684.3" cy="131.1" r="1.0" fill="#ff7f0e"/>
<circle cx="688.0" cy="146.3" r="1.0" fill="#ff7f0e"/>
<circle cx="662.5" cy="59.2" r="1.0" fill="#ff7f0e"/>
<circle cx="664.4" cy="59.2" r="1.0" fill="#ff7f0e"/>
<circle cx="658.5" cy="61.0" r="1.0" fill="#ff7f0e"/>
<circle cx="668.3" cy="60.8" r="1.0" fill="#ff7f0e"/>
<circle cx="674.2" cy="63.5" r="1.0" fill="#ff7f0e"/>
<circle cx="663.6" cy="67.6" r="1.0" fill="#ff7f0e"/>
<circle cx="660.5" cy="69.6" r="1.0" fill="#ff7f0e"/>
<circle cx="668.0" cy="71.4" r="1.0" fill="#ff7f0e"/>
<circle cx="669.5" cy="72.0" r="1.0" fill="#ff7f0e"/>
<circle cx="660.1" cy="71.8" r="1.0" fill="#ff7f0e"/>
<circle cx="662.1" cy="72.2" r="1.0" fill="#ff7f0e"/>
<circle cx="654.8" cy="81.4" r="1.0" fill="#ff7f0e"/>
<circle cx="657.1" cy="80.7" r="1.0" fill="#ff7f0e"/>
<circle cx="659.2" cy="83.9" r="1.0" fill="#ff7f0e"/>
<circle cx="660.9" cy="83.2" r="1.0" fill="#ff7f0e"/>
<circle cx="668.1" cy="79.2" r="1.0" fill="#ff7f0e"/>
<circle cx="667.7" cy="81.1" r="1.0" fill="#ff7f0e"/>
<circle cx="670.1" cy="75.4" r="1.0" fill="#ff7f0e"/>
<circle cx="674.7" cy="81.8" r="1.0" fill="#ff7f0e"/>
<circle cx="675.8" cy="83.3" r="1.0" fill="#ff7f0e"/>
<circle cx="689.0" cy="79.6" r="1.0" fill="#ff7f0e"/>
<circle cx="688.8" cy="85.6" r="1.0" fill="#ff7f0e"/>
<circle cx="672.8" cy="92.6" r="1.0" fill="#ff7f0e"/>
<circle cx="669.0" cy="98.8" r="1.0" fill="#ff7f0e"/>
<circle cx="670.5" cy="98.5" r="1.0" fill="#ff7f0e"/>
<circle cx="675.3" cy="55.6" r="1.0" fill="#ff7f0e"/>
<circle cx="686.3" cy="70.8" r="1.0" fill="#ff7f0e"/>
<rect x="420.5" y="241.4" width="160.10" height="158.10" fill="none" stroke="#8a8a8a" stroke-width="0.85"/>
<line x1="429.5" y1="399.5" x2="429.5" y2="400.9" stroke="#444" stroke-width="0.5"/>
<text x="429.5" y="405.10" class="t2" text-anchor="middle">−0.10</text>
<line x1="456.45" y1="399.5" x2="456.45" y2="400.9" stroke="#444" stroke-width="0.5"/>
<text x="456.45" y="405.10" class="t2" text-anchor="middle">−0.05</text>
<line x1="483.4" y1="399.5" x2="483.4" y2="400.9" stroke="#444" stroke-width="0.5"/>
<text x="483.4" y="405.10" class="t2" text-anchor="middle">0.00</text>
<line x1="510.34999999999997" y1="399.5" x2="510.34999999999997" y2="400.9" stroke="#444" stroke-width="0.5"/>
<text x="510.34999999999997" y="405.10" class="t2" text-anchor="middle">0.05</text>
<line x1="537.3" y1="399.5" x2="537.3" y2="400.9" stroke="#444" stroke-width="0.5"/>
<text x="537.3" y="405.10" class="t2" text-anchor="middle">0.10</text>
<line x1="564.25" y1="399.5" x2="564.25" y2="400.9" stroke="#444" stroke-width="0.5"/>
<text x="564.25" y="405.10" class="t2" text-anchor="middle">0.15</text>
<line x1="419.1" y1="258.4" x2="420.5" y2="258.4" stroke="#444" stroke-width="0.5"/>
<text x="418.30" y="259.60" class="t2" text-anchor="end">0.10</text>
<line x1="419.1" y1="288.9" x2="420.5" y2="288.9" stroke="#444" stroke-width="0.5"/>
<text x="418.30" y="290.10" class="t2" text-anchor="end">0.05</text>
<line x1="419.1" y1="319.4" x2="420.5" y2="319.4" stroke="#444" stroke-width="0.5"/>
<text x="418.30" y="320.60" class="t2" text-anchor="end">0.00</text>
<line x1="419.1" y1="349.9" x2="420.5" y2="349.9" stroke="#444" stroke-width="0.5"/>
<text x="418.30" y="351.10" class="t2" text-anchor="end">−0.05</text>
<line x1="419.1" y1="380.4" x2="420.5" y2="380.4" stroke="#444" stroke-width="0.5"/>
<text x="418.30" y="381.60" class="t2" text-anchor="end">−0.10</text>
<circle cx="452.6" cy="251.4" r="1.0" fill="#1f77b4"/>
<circle cx="464.9" cy="250.2" r="1.0" fill="#1f77b4"/>
<circle cx="468.0" cy="252.1" r="1.0" fill="#1f77b4"/>
<circle cx="434.1" cy="260.0" r="1.0" fill="#1f77b4"/>
<circle cx="445.9" cy="261.5" r="1.0" fill="#1f77b4"/>
<circle cx="456.4" cy="263.5" r="1.0" fill="#1f77b4"/>
<circle cx="464.9" cy="262.6" r="1.0" fill="#1f77b4"/>
<circle cx="469.6" cy="264.1" r="1.0" fill="#1f77b4"/>
<circle cx="472.3" cy="259.3" r="1.0" fill="#1f77b4"/>
<circle cx="472.0" cy="265.3" r="1.0" fill="#1f77b4"/>
<circle cx="475.6" cy="268.5" r="1.0" fill="#1f77b4"/>
<circle cx="454.6" cy="267.0" r="1.0" fill="#1f77b4"/>
<circle cx="454.9" cy="268.9" r="1.0" fill="#1f77b4"/>
<circle cx="464.6" cy="267.4" r="1.0" fill="#1f77b4"/>
<circle cx="464.6" cy="270.8" r="1.0" fill="#1f77b4"/>
<circle cx="448.6" cy="271.1" r="1.0" fill="#1f77b4"/>
<circle cx="456.5" cy="273.0" r="1.0" fill="#1f77b4"/>
<circle cx="460.6" cy="274.4" r="1.0" fill="#1f77b4"/>
<circle cx="460.6" cy="276.7" r="1.0" fill="#1f77b4"/>
<circle cx="439.4" cy="277.9" r="1.0" fill="#1f77b4"/>
<circle cx="463.3" cy="279.0" r="1.0" fill="#1f77b4"/>
<circle cx="470.9" cy="276.2" r="1.0" fill="#1f77b4"/>
<circle cx="473.6" cy="277.1" r="1.0" fill="#1f77b4"/>
<circle cx="477.6" cy="278.1" r="1.0" fill="#1f77b4"/>
<circle cx="468.3" cy="280.3" r="1.0" fill="#1f77b4"/>
<circle cx="462.2" cy="280.7" r="1.0" fill="#1f77b4"/>
<circle cx="459.5" cy="282.6" r="1.0" fill="#1f77b4"/>
<circle cx="460.8" cy="285.0" r="1.0" fill="#1f77b4"/>
<circle cx="465.3" cy="283.5" r="1.0" fill="#1f77b4"/>
<circle cx="466.9" cy="285.4" r="1.0" fill="#1f77b4"/>
<circle cx="471.3" cy="285.6" r="1.0" fill="#1f77b4"/>
<circle cx="473.9" cy="284.7" r="1.0" fill="#1f77b4"/>
<circle cx="432.8" cy="286.4" r="1.0" fill="#1f77b4"/>
<circle cx="451.5" cy="286.6" r="1.0" fill="#1f77b4"/>
<circle cx="443.9" cy="290.5" r="1.0" fill="#1f77b4"/>
<circle cx="505.1" cy="267.9" r="1.0" fill="#1f77b4"/>
<circle cx="536.8" cy="275.0" r="1.0" fill="#1f77b4"/>
<circle cx="573.4" cy="296.2" r="1.0" fill="#1f77b4"/>
<circle cx="548.4" cy="302.7" r="1.0" fill="#1f77b4"/>
<circle cx="496.6" cy="298.4" r="1.0" fill="#1f77b4"/>
<circle cx="498.6" cy="301.3" r="1.0" fill="#1f77b4"/>
<circle cx="496.2" cy="304.6" r="1.0" fill="#1f77b4"/>
<circle cx="512.7" cy="308.9" r="1.0" fill="#1f77b4"/>
<circle cx="494.6" cy="311.3" r="1.0" fill="#1f77b4"/>
<circle cx="497.6" cy="311.3" r="1.0" fill="#1f77b4"/>
<circle cx="501.6" cy="312.8" r="1.0" fill="#1f77b4"/>
<circle cx="504.1" cy="311.3" r="1.0" fill="#1f77b4"/>
<circle cx="506.3" cy="313.7" r="1.0" fill="#1f77b4"/>
<circle cx="499.0" cy="317.5" r="1.0" fill="#1f77b4"/>
<circle cx="500.6" cy="318.5" r="1.0" fill="#1f77b4"/>
<circle cx="504.3" cy="318.5" r="1.0" fill="#1f77b4"/>
<circle cx="495.6" cy="316.6" r="1.0" fill="#1f77b4"/>
<circle cx="517.1" cy="314.7" r="1.0" fill="#1f77b4"/>
<circle cx="524.4" cy="315.6" r="1.0" fill="#1f77b4"/>
<circle cx="520.8" cy="322.7" r="1.0" fill="#1f77b4"/>
<circle cx="530.4" cy="324.2" r="1.0" fill="#1f77b4"/>
<circle cx="547.2" cy="321.4" r="1.0" fill="#1f77b4"/>
<circle cx="509.8" cy="324.6" r="1.0" fill="#1f77b4"/>
<circle cx="499.4" cy="322.3" r="1.0" fill="#1f77b4"/>
<circle cx="496.1" cy="325.5" r="1.0" fill="#1f77b4"/>
<circle cx="507.0" cy="327.3" r="1.0" fill="#1f77b4"/>
<circle cx="518.9" cy="328.7" r="1.0" fill="#1f77b4"/>
<circle cx="511.7" cy="330.4" r="1.0" fill="#1f77b4"/>
<circle cx="510.2" cy="332.8" r="1.0" fill="#1f77b4"/>
<circle cx="517.0" cy="333.1" r="1.0" fill="#1f77b4"/>
<circle cx="495.6" cy="332.2" r="1.0" fill="#1f77b4"/>
<circle cx="502.2" cy="335.0" r="1.0" fill="#1f77b4"/>
<circle cx="505.1" cy="334.0" r="1.0" fill="#1f77b4"/>
<circle cx="507.0" cy="334.6" r="1.0" fill="#1f77b4"/>
<circle cx="508.3" cy="335.8" r="1.0" fill="#1f77b4"/>
<circle cx="498.4" cy="337.6" r="1.0" fill="#1f77b4"/>
<circle cx="504.5" cy="338.2" r="1.0" fill="#1f77b4"/>
<circle cx="513.2" cy="338.2" r="1.0" fill="#1f77b4"/>
<circle cx="515.5" cy="338.9" r="1.0" fill="#1f77b4"/>
<circle cx="517.0" cy="337.6" r="1.0" fill="#1f77b4"/>
<circle cx="534.1" cy="338.0" r="1.0" fill="#1f77b4"/>
<circle cx="540.2" cy="338.6" r="1.0" fill="#1f77b4"/>
<circle cx="545.9" cy="339.4" r="1.0" fill="#1f77b4"/>
<circle cx="495.6" cy="343.6" r="1.0" fill="#1f77b4"/>
<circle cx="506.4" cy="344.0" r="1.0" fill="#1f77b4"/>
<circle cx="509.5" cy="343.6" r="1.0" fill="#1f77b4"/>
<circle cx="507.9" cy="345.7" r="1.0" fill="#1f77b4"/>
<circle cx="519.7" cy="343.6" r="1.0" fill="#1f77b4"/>
<circle cx="519.1" cy="344.9" r="1.0" fill="#1f77b4"/>
<circle cx="541.1" cy="344.0" r="1.0" fill="#1f77b4"/>
<circle cx="548.6" cy="345.4" r="1.0" fill="#1f77b4"/>
<circle cx="500.3" cy="347.5" r="1.0" fill="#1f77b4"/>
<circle cx="505.7" cy="348.5" r="1.0" fill="#1f77b4"/>
<circle cx="507.9" cy="349.3" r="1.0" fill="#1f77b4"/>
<circle cx="509.9" cy="347.5" r="1.0" fill="#1f77b4"/>
<circle cx="515.1" cy="347.2" r="1.0" fill="#1f77b4"/>
<circle cx="522.2" cy="348.5" r="1.0" fill="#1f77b4"/>
<circle cx="526.5" cy="349.7" r="1.0" fill="#1f77b4"/>
<circle cx="505.1" cy="350.7" r="1.0" fill="#1f77b4"/>
<circle cx="550.6" cy="352.5" r="1.0" fill="#1f77b4"/>
<circle cx="503.2" cy="354.7" r="1.0" fill="#1f77b4"/>
<circle cx="521.2" cy="355.1" r="1.0" fill="#1f77b4"/>
<circle cx="522.7" cy="355.7" r="1.0" fill="#1f77b4"/>
<circle cx="534.1" cy="355.1" r="1.0" fill="#1f77b4"/>
<circle cx="545.9" cy="356.5" r="1.0" fill="#1f77b4"/>
<circle cx="501.8" cy="357.5" r="1.0" fill="#1f77b4"/>
<circle cx="505.7" cy="358.0" r="1.0" fill="#1f77b4"/>
<circle cx="510.2" cy="358.7" r="1.0" fill="#1f77b4"/>
<circle cx="512.0" cy="359.2" r="1.0" fill="#1f77b4"/>
<circle cx="518.3" cy="356.5" r="1.0" fill="#1f77b4"/>
<circle cx="515.1" cy="360.2" r="1.0" fill="#1f77b4"/>
<circle cx="518.3" cy="362.8" r="1.0" fill="#1f77b4"/>
<circle cx="503.2" cy="363.8" r="1.0" fill="#1f77b4"/>
<circle cx="506.0" cy="364.6" r="1.0" fill="#1f77b4"/>
<circle cx="511.3" cy="367.0" r="1.0" fill="#1f77b4"/>
<circle cx="512.6" cy="369.2" r="1.0" fill="#1f77b4"/>
<circle cx="507.9" cy="368.8" r="1.0" fill="#1f77b4"/>
<circle cx="501.3" cy="369.2" r="1.0" fill="#1f77b4"/>
<circle cx="505.1" cy="371.3" r="1.0" fill="#1f77b4"/>
<circle cx="534.1" cy="370.0" r="1.0" fill="#1f77b4"/>
<circle cx="541.7" cy="369.2" r="1.0" fill="#1f77b4"/>
<circle cx="539.8" cy="371.3" r="1.0" fill="#1f77b4"/>
<circle cx="545.5" cy="369.2" r="1.0" fill="#1f77b4"/>
<circle cx="547.7" cy="367.7" r="1.0" fill="#1f77b4"/>
<circle cx="520.2" cy="373.7" r="1.0" fill="#1f77b4"/>
<circle cx="525.4" cy="374.5" r="1.0" fill="#1f77b4"/>
<circle cx="526.9" cy="374.2" r="1.0" fill="#1f77b4"/>
<circle cx="531.0" cy="376.3" r="1.0" fill="#1f77b4"/>
<circle cx="543.0" cy="374.9" r="1.0" fill="#1f77b4"/>
<circle cx="544.9" cy="376.0" r="1.0" fill="#1f77b4"/>
<circle cx="570.5" cy="373.3" r="1.0" fill="#1f77b4"/>
<circle cx="539.8" cy="379.1" r="1.0" fill="#1f77b4"/>
<circle cx="554.9" cy="378.1" r="1.0" fill="#1f77b4"/>
<circle cx="501.3" cy="379.9" r="1.0" fill="#1f77b4"/>
<circle cx="529.3" cy="380.9" r="1.0" fill="#1f77b4"/>
<circle cx="548.6" cy="382.7" r="1.0" fill="#1f77b4"/>
<circle cx="561.0" cy="382.7" r="1.0" fill="#1f77b4"/>
<circle cx="545.9" cy="388.6" r="1.0" fill="#1f77b4"/>
<circle cx="536.4" cy="393.0" r="1.0" fill="#1f77b4"/>
<circle cx="444.7" cy="336.5" r="1.0" fill="#1f77b4"/>
<circle cx="460.6" cy="337.0" r="1.0" fill="#1f77b4"/>
<circle cx="464.5" cy="335.5" r="1.0" fill="#1f77b4"/>
<circle cx="468.4" cy="337.6" r="1.0" fill="#1f77b4"/>
<circle cx="470.8" cy="337.6" r="1.0" fill="#1f77b4"/>
<circle cx="475.9" cy="337.0" r="1.0" fill="#1f77b4"/>
<circle cx="476.2" cy="338.4" r="1.0" fill="#1f77b4"/>
<circle cx="480.1" cy="335.5" r="1.0" fill="#1f77b4"/>
<circle cx="482.4" cy="337.6" r="1.0" fill="#1f77b4"/>
<circle cx="484.0" cy="338.4" r="1.0" fill="#1f77b4"/>
<circle cx="480.1" cy="339.9" r="1.0" fill="#1f77b4"/>
<circle cx="487.5" cy="335.5" r="1.0" fill="#1f77b4"/>
<circle cx="489.5" cy="335.9" r="1.0" fill="#1f77b4"/>
<circle cx="494.1" cy="335.9" r="1.0" fill="#1f77b4"/>
<circle cx="452.5" cy="342.1" r="1.0" fill="#1f77b4"/>
<circle cx="452.1" cy="345.8" r="1.0" fill="#1f77b4"/>
<circle cx="476.2" cy="342.8" r="1.0" fill="#1f77b4"/>
<circle cx="485.6" cy="342.4" r="1.0" fill="#1f77b4"/>
<circle cx="490.3" cy="344.3" r="1.0" fill="#1f77b4"/>
<circle cx="492.5" cy="343.9" r="1.0" fill="#1f77b4"/>
<circle cx="491.1" cy="348.0" r="1.0" fill="#1f77b4"/>
<circle cx="493.3" cy="345.8" r="1.0" fill="#1f77b4"/>
<circle cx="470.8" cy="349.5" r="1.0" fill="#1f77b4"/>
<circle cx="476.2" cy="351.0" r="1.0" fill="#1f77b4"/>
<circle cx="486.4" cy="351.0" r="1.0" fill="#1f77b4"/>
<circle cx="493.3" cy="351.0" r="1.0" fill="#1f77b4"/>
<circle cx="480.6" cy="354.7" r="1.0" fill="#1f77b4"/>
<circle cx="488.7" cy="356.1" r="1.0" fill="#1f77b4"/>
<circle cx="456.3" cy="356.6" r="1.0" fill="#1f77b4"/>
<circle cx="483.2" cy="357.6" r="1.0" fill="#1f77b4"/>
<circle cx="482.4" cy="359.2" r="1.0" fill="#1f77b4"/>
<circle cx="493.3" cy="357.6" r="1.0" fill="#1f77b4"/>
<circle cx="469.7" cy="360.3" r="1.0" fill="#1f77b4"/>
<circle cx="478.5" cy="361.3" r="1.0" fill="#1f77b4"/>
<circle cx="471.6" cy="362.8" r="1.0" fill="#1f77b4"/>
<circle cx="484.0" cy="362.4" r="1.0" fill="#1f77b4"/>
<circle cx="485.6" cy="362.1" r="1.0" fill="#1f77b4"/>
<circle cx="491.5" cy="364.1" r="1.0" fill="#1f77b4"/>
<circle cx="487.5" cy="369.9" r="1.0" fill="#1f77b4"/>
<circle cx="457.7" cy="283.3" r="1.0" fill="#1f77b4"/>
<circle cx="455.0" cy="287.5" r="1.0" fill="#1f77b4"/>
<circle cx="471.6" cy="288.1" r="1.0" fill="#1f77b4"/>
<circle cx="478.9" cy="287.7" r="1.0" fill="#1f77b4"/>
<circle cx="454.6" cy="290.2" r="1.0" fill="#1f77b4"/>
<circle cx="454.8" cy="291.7" r="1.0" fill="#1f77b4"/>
<circle cx="454.6" cy="293.2" r="1.0" fill="#1f77b4"/>
<circle cx="457.4" cy="289.0" r="1.0" fill="#1f77b4"/>
<circle cx="458.6" cy="291.7" r="1.0" fill="#1f77b4"/>
<circle cx="459.8" cy="289.8" r="1.0" fill="#1f77b4"/>
<circle cx="462.5" cy="290.0" r="1.0" fill="#1f77b4"/>
<circle cx="463.2" cy="291.7" r="1.0" fill="#1f77b4"/>
<circle cx="463.3" cy="293.2" r="1.0" fill="#1f77b4"/>
<circle cx="463.3" cy="294.7" r="1.0" fill="#1f77b4"/>
<circle cx="463.7" cy="296.2" r="1.0" fill="#1f77b4"/>
<circle cx="464.7" cy="291.0" r="1.0" fill="#1f77b4"/>
<circle cx="466.9" cy="291.7" r="1.0" fill="#1f77b4"/>
<circle cx="471.2" cy="291.5" r="1.0" fill="#1f77b4"/>
<circle cx="473.5" cy="291.0" r="1.0" fill="#1f77b4"/>
<circle cx="474.6" cy="293.6" r="1.0" fill="#1f77b4"/>
<circle cx="455.6" cy="295.4" r="1.0" fill="#1f77b4"/>
<circle cx="458.6" cy="295.8" r="1.0" fill="#1f77b4"/>
<circle cx="447.4" cy="297.4" r="1.0" fill="#1f77b4"/>
<circle cx="464.9" cy="298.8" r="1.0" fill="#1f77b4"/>
<circle cx="467.3" cy="298.8" r="1.0" fill="#1f77b4"/>
<circle cx="470.8" cy="299.5" r="1.0" fill="#1f77b4"/>
<circle cx="474.8" cy="299.2" r="1.0" fill="#1f77b4"/>
<circle cx="476.6" cy="299.5" r="1.0" fill="#1f77b4"/>
<circle cx="452.4" cy="299.2" r="1.0" fill="#1f77b4"/>
<circle cx="456.4" cy="299.5" r="1.0" fill="#1f77b4"/>
<circle cx="448.1" cy="301.4" r="1.0" fill="#1f77b4"/>
<circle cx="452.1" cy="301.4" r="1.0" fill="#1f77b4"/>
<circle cx="455.2" cy="302.6" r="1.0" fill="#1f77b4"/>
<circle cx="460.6" cy="302.1" r="1.0" fill="#1f77b4"/>
<circle cx="462.5" cy="300.2" r="1.0" fill="#1f77b4"/>
<circle cx="465.7" cy="302.5" r="1.0" fill="#1f77b4"/>
<circle cx="472.6" cy="302.1" r="1.0" fill="#1f77b4"/>
<circle cx="472.3" cy="303.6" r="1.0" fill="#1f77b4"/>
<circle cx="475.8" cy="302.5" r="1.0" fill="#1f77b4"/>
<circle cx="451.3" cy="304.3" r="1.0" fill="#1f77b4"/>
<circle cx="457.1" cy="304.7" r="1.0" fill="#1f77b4"/>
<circle cx="459.4" cy="305.8" r="1.0" fill="#1f77b4"/>
<circle cx="467.6" cy="305.4" r="1.0" fill="#1f77b4"/>
<circle cx="469.2" cy="306.6" r="1.0" fill="#1f77b4"/>
<circle cx="470.8" cy="308.4" r="1.0" fill="#1f77b4"/>
<circle cx="471.6" cy="305.0" r="1.0" fill="#1f77b4"/>
<circle cx="476.6" cy="307.7" r="1.0" fill="#1f77b4"/>
<circle cx="478.1" cy="308.4" r="1.0" fill="#1f77b4"/>
<circle cx="442.3" cy="306.9" r="1.0" fill="#1f77b4"/>
<circle cx="445.8" cy="310.5" r="1.0" fill="#1f77b4"/>
<circle cx="449.7" cy="309.9" r="1.0" fill="#1f77b4"/>
<circle cx="478.5" cy="304.7" r="1.0" fill="#1f77b4"/>
<circle cx="451.1" cy="311.3" r="1.0" fill="#1f77b4"/>
<circle cx="453.1" cy="314.9" r="1.0" fill="#1f77b4"/>
<circle cx="458.3" cy="313.1" r="1.0" fill="#1f77b4"/>
<circle cx="460.6" cy="318.6" r="1.0" fill="#1f77b4"/>
<circle cx="462.5" cy="318.9" r="1.0" fill="#1f77b4"/>
<circle cx="464.8" cy="308.6" r="1.0" fill="#1f77b4"/>
<circle cx="468.4" cy="311.5" r="1.0" fill="#1f77b4"/>
<circle cx="469.3" cy="309.3" r="1.0" fill="#1f77b4"/>
<circle cx="471.2" cy="311.1" r="1.0" fill="#1f77b4"/>
<circle cx="470.4" cy="314.7" r="1.0" fill="#1f77b4"/>
<circle cx="474.2" cy="309.7" r="1.0" fill="#1f77b4"/>
<circle cx="476.7" cy="309.3" r="1.0" fill="#1f77b4"/>
<circle cx="476.4" cy="314.7" r="1.0" fill="#1f77b4"/>
<circle cx="476.4" cy="316.1" r="1.0" fill="#1f77b4"/>
<circle cx="479.0" cy="311.8" r="1.0" fill="#1f77b4"/>
<circle cx="480.5" cy="312.2" r="1.0" fill="#1f77b4"/>
<circle cx="482.0" cy="309.7" r="1.0" fill="#1f77b4"/>
<circle cx="485.1" cy="309.3" r="1.0" fill="#1f77b4"/>
<circle cx="488.1" cy="309.0" r="1.0" fill="#1f77b4"/>
<circle cx="482.0" cy="315.1" r="1.0" fill="#1f77b4"/>
<circle cx="482.4" cy="317.5" r="1.0" fill="#1f77b4"/>
<circle cx="484.3" cy="317.5" r="1.0" fill="#1f77b4"/>
<circle cx="486.6" cy="318.9" r="1.0" fill="#1f77b4"/>
<circle cx="484.3" cy="311.5" r="1.0" fill="#1f77b4"/>
<circle cx="490.7" cy="311.8" r="1.0" fill="#1f77b4"/>
<circle cx="491.9" cy="313.6" r="1.0" fill="#1f77b4"/>
<circle cx="491.1" cy="317.5" r="1.0" fill="#1f77b4"/>
<circle cx="498.6" cy="318.9" r="1.0" fill="#1f77b4"/>
<circle cx="472.3" cy="318.9" r="1.0" fill="#1f77b4"/>
<circle cx="474.8" cy="319.7" r="1.0" fill="#1f77b4"/>
<circle cx="460.2" cy="321.5" r="1.0" fill="#1f77b4"/>
<circle cx="465.1" cy="321.5" r="1.0" fill="#1f77b4"/>
<circle cx="467.8" cy="320.7" r="1.0" fill="#1f77b4"/>
<circle cx="469.7" cy="321.1" r="1.0" fill="#1f77b4"/>
<circle cx="471.2" cy="321.9" r="1.0" fill="#1f77b4"/>
<circle cx="483.2" cy="321.5" r="1.0" fill="#1f77b4"/>
<circle cx="459.5" cy="325.7" r="1.0" fill="#1f77b4"/>
<circle cx="461.7" cy="325.3" r="1.0" fill="#1f77b4"/>
<circle cx="462.5" cy="327.0" r="1.0" fill="#1f77b4"/>
<circle cx="468.9" cy="325.7" r="1.0" fill="#1f77b4"/>
<circle cx="475.2" cy="325.1" r="1.0" fill="#1f77b4"/>
<circle cx="478.2" cy="325.1" r="1.0" fill="#1f77b4"/>
<circle cx="482.0" cy="324.7" r="1.0" fill="#1f77b4"/>
<circle cx="482.4" cy="326.5" r="1.0" fill="#1f77b4"/>
<circle cx="485.1" cy="323.9" r="1.0" fill="#1f77b4"/>
<circle cx="486.9" cy="323.6" r="1.0" fill="#1f77b4"/>
<circle cx="488.8" cy="325.7" r="1.0" fill="#1f77b4"/>
<circle cx="491.1" cy="325.3" r="1.0" fill="#1f77b4"/>
<circle cx="492.9" cy="324.7" r="1.0" fill="#1f77b4"/>
<circle cx="453.1" cy="327.1" r="1.0" fill="#1f77b4"/>
<circle cx="440.3" cy="328.9" r="1.0" fill="#1f77b4"/>
<circle cx="460.6" cy="328.9" r="1.0" fill="#1f77b4"/>
<circle cx="466.6" cy="328.3" r="1.0" fill="#1f77b4"/>
<circle cx="479.4" cy="329.7" r="1.0" fill="#1f77b4"/>
<circle cx="482.0" cy="332.5" r="1.0" fill="#1f77b4"/>
<circle cx="488.1" cy="329.3" r="1.0" fill="#1f77b4"/>
<circle cx="486.2" cy="330.7" r="1.0" fill="#1f77b4"/>
<circle cx="491.5" cy="329.7" r="1.0" fill="#1f77b4"/>
<circle cx="491.9" cy="331.1" r="1.0" fill="#1f77b4"/>
<circle cx="494.0" cy="327.5" r="1.0" fill="#1f77b4"/>
<circle cx="494.4" cy="328.9" r="1.0" fill="#1f77b4"/>
<circle cx="451.2" cy="331.2" r="1.0" fill="#1f77b4"/>
<circle cx="464.8" cy="330.9" r="1.0" fill="#1f77b4"/>
<circle cx="466.3" cy="332.5" r="1.0" fill="#1f77b4"/>
<circle cx="492.5" cy="333.3" r="1.0" fill="#1f77b4"/>
<circle cx="481.6" cy="247.9" r="1.0" fill="#1f77b4"/>
<circle cx="480.6" cy="264.9" r="1.0" fill="#1f77b4"/>
<circle cx="493.3" cy="262.9" r="1.0" fill="#1f77b4"/>
<circle cx="480.0" cy="277.5" r="1.0" fill="#1f77b4"/>
<circle cx="488.4" cy="282.0" r="1.0" fill="#1f77b4"/>
<circle cx="480.8" cy="282.2" r="1.0" fill="#1f77b4"/>
<circle cx="489.5" cy="288.4" r="1.0" fill="#1f77b4"/>
<circle cx="490.3" cy="293.6" r="1.0" fill="#1f77b4"/>
<circle cx="482.9" cy="296.7" r="1.0" fill="#1f77b4"/>
<circle cx="493.1" cy="301.6" r="1.0" fill="#1f77b4"/>
<circle cx="483.2" cy="303.6" r="1.0" fill="#1f77b4"/>
<circle cx="486.1" cy="302.9" r="1.0" fill="#1f77b4"/>
<circle cx="486.9" cy="304.4" r="1.0" fill="#1f77b4"/>
<circle cx="490.4" cy="303.6" r="1.0" fill="#1f77b4"/>
<circle cx="483.7" cy="306.1" r="1.0" fill="#1f77b4"/>
<circle cx="479.4" cy="307.3" r="1.0" fill="#1f77b4"/>
<circle cx="481.8" cy="308.1" r="1.0" fill="#1f77b4"/>
<circle cx="486.5" cy="309.2" r="1.0" fill="#1f77b4"/>
<circle cx="487.7" cy="310.7" r="1.0" fill="#1f77b4"/>
<circle cx="428.1" cy="303.1" r="1.0" fill="#1f77b4"/>
<circle cx="457.9" cy="263.8" r="1.0" fill="#ff7f0e"/>
<circle cx="466.2" cy="263.1" r="1.0" fill="#ff7f0e"/>
<circle cx="472.0" cy="266.7" r="1.0" fill="#ff7f0e"/>
<circle cx="449.2" cy="275.2" r="1.0" fill="#ff7f0e"/>
<circle cx="450.9" cy="274.9" r="1.0" fill="#ff7f0e"/>
<circle cx="470.9" cy="279.5" r="1.0" fill="#ff7f0e"/>
<circle cx="455.6" cy="284.5" r="1.0" fill="#ff7f0e"/>
<circle cx="457.2" cy="284.7" r="1.0" fill="#ff7f0e"/>
<circle cx="473.6" cy="286.6" r="1.0" fill="#ff7f0e"/>
<circle cx="449.8" cy="292.1" r="1.0" fill="#ff7f0e"/>
<circle cx="501.3" cy="283.2" r="1.0" fill="#ff7f0e"/>
<circle cx="511.3" cy="318.5" r="1.0" fill="#ff7f0e"/>
<circle cx="517.7" cy="317.5" r="1.0" fill="#ff7f0e"/>
<circle cx="513.6" cy="327.7" r="1.0" fill="#ff7f0e"/>
<circle cx="502.6" cy="337.6" r="1.0" fill="#ff7f0e"/>
<circle cx="501.8" cy="342.2" r="1.0" fill="#ff7f0e"/>
<circle cx="521.6" cy="351.5" r="1.0" fill="#ff7f0e"/>
<circle cx="515.9" cy="364.6" r="1.0" fill="#ff7f0e"/>
<circle cx="522.2" cy="377.5" r="1.0" fill="#ff7f0e"/>
<circle cx="458.7" cy="337.6" r="1.0" fill="#ff7f0e"/>
<circle cx="466.5" cy="342.8" r="1.0" fill="#ff7f0e"/>
<circle cx="471.6" cy="341.4" r="1.0" fill="#ff7f0e"/>
<circle cx="475.4" cy="342.1" r="1.0" fill="#ff7f0e"/>
<circle cx="474.4" cy="345.1" r="1.0" fill="#ff7f0e"/>
<circle cx="489.0" cy="364.1" r="1.0" fill="#ff7f0e"/>
<circle cx="492.6" cy="378.4" r="1.0" fill="#ff7f0e"/>
<circle cx="467.3" cy="296.2" r="1.0" fill="#ff7f0e"/>
<circle cx="469.2" cy="296.2" r="1.0" fill="#ff7f0e"/>
<circle cx="463.3" cy="297.9" r="1.0" fill="#ff7f0e"/>
<circle cx="473.1" cy="297.7" r="1.0" fill="#ff7f0e"/>
<circle cx="478.9" cy="300.2" r="1.0" fill="#ff7f0e"/>
<circle cx="468.4" cy="304.1" r="1.0" fill="#ff7f0e"/>
<circle cx="465.3" cy="306.0" r="1.0" fill="#ff7f0e"/>
<circle cx="472.8" cy="307.7" r="1.0" fill="#ff7f0e"/>
<circle cx="474.3" cy="308.3" r="1.0" fill="#ff7f0e"/>
<circle cx="464.9" cy="308.1" r="1.0" fill="#ff7f0e"/>
<circle cx="466.9" cy="308.4" r="1.0" fill="#ff7f0e"/>
<circle cx="459.6" cy="317.1" r="1.0" fill="#ff7f0e"/>
<circle cx="461.9" cy="316.5" r="1.0" fill="#ff7f0e"/>
<circle cx="464.0" cy="319.5" r="1.0" fill="#ff7f0e"/>
<circle cx="465.7" cy="318.8" r="1.0" fill="#ff7f0e"/>
<circle cx="472.9" cy="315.1" r="1.0" fill="#ff7f0e"/>
<circle cx="472.5" cy="316.9" r="1.0" fill="#ff7f0e"/>
<circle cx="474.8" cy="311.5" r="1.0" fill="#ff7f0e"/>
<circle cx="479.4" cy="317.5" r="1.0" fill="#ff7f0e"/>
<circle cx="480.5" cy="318.9" r="1.0" fill="#ff7f0e"/>
<circle cx="493.6" cy="315.4" r="1.0" fill="#ff7f0e"/>
<circle cx="493.4" cy="321.1" r="1.0" fill="#ff7f0e"/>
<circle cx="477.5" cy="327.7" r="1.0" fill="#ff7f0e"/>
<circle cx="473.8" cy="333.6" r="1.0" fill="#ff7f0e"/>
<circle cx="475.2" cy="333.3" r="1.0" fill="#ff7f0e"/>
<circle cx="480.0" cy="292.8" r="1.0" fill="#ff7f0e"/>
<circle cx="491.0" cy="307.1" r="1.0" fill="#ff7f0e"/>
<polygon points="216.06,160.61 271.84,128.08 271.43,8.54 214.71,28.36" fill="#f6f6f6"/>
<polygon points="271.84,128.08 379.64,142.07 380.85,17.06 271.43,8.54" fill="#efefef"/>
<polygon points="216.06,160.61 333.32,177.92 379.64,142.07 271.84,128.08" fill="#f2f2f2"/>
<polyline points="228.28,162.41 283.12,129.54 282.88,9.43" fill="none" stroke="#cbcbcb" stroke-width="0.5"/>
<polyline points="247.22,165.21 300.59,131.81 300.60,10.81" fill="none" stroke="#cbcbcb" stroke-width="0.5"/>
<polyline points="266.48,168.05 318.33,134.11 318.59,12.22" fill="none" stroke="#cbcbcb" stroke-width="0.5"/>
<polyline points="286.06,170.94 336.33,136.45 336.87,13.64" fill="none" stroke="#cbcbcb" stroke-width="0.5"/>
<polyline points="305.99,173.88 354.62,138.82 355.43,15.08" fill="none" stroke="#cbcbcb" stroke-width="0.5"/>
<polyline points="326.26,176.87 373.19,141.23 374.29,16.55" fill="none" stroke="#cbcbcb" stroke-width="0.5"/>
<polyline points="341.40,171.66 225.76,154.96 224.58,24.91" fill="none" stroke="#cbcbcb" stroke-width="0.5"/>
<polyline points="349.56,165.35 235.56,149.24 234.55,21.43" fill="none" stroke="#cbcbcb" stroke-width="0.5"/>
<polyline points="357.42,159.27 245.01,143.73 244.17,18.07" fill="none" stroke="#cbcbcb" stroke-width="0.5"/>
<polyline points="365.00,153.40 254.15,138.40 253.46,14.82" fill="none" stroke="#cbcbcb" stroke-width="0.5"/>
<polyline points="372.32,147.74 262.98,133.24 262.43,11.69" fill="none" stroke="#cbcbcb" stroke-width="0.5"/>
<polyline points="215.94,148.66 271.80,117.26 379.75,130.77" fill="none" stroke="#cbcbcb" stroke-width="0.5"/>
<polyline points="215.73,127.62 271.74,98.22 379.94,110.86" fill="none" stroke="#cbcbcb" stroke-width="0.5"/>
<polyline points="215.51,106.46 271.67,79.09 380.14,90.86" fill="none" stroke="#cbcbcb" stroke-width="0.5"/>
<polyline points="215.29,85.20 271.61,59.87 380.33,70.76" fill="none" stroke="#cbcbcb" stroke-width="0.5"/>
<polyline points="215.07,63.83 271.54,40.56 380.53,50.56" fill="none" stroke="#cbcbcb" stroke-width="0.5"/>
<polyline points="214.85,42.34 271.47,21.16 380.72,30.27" fill="none" stroke="#cbcbcb" stroke-width="0.5"/>
<polyline points="216.06,160.61 333.32,177.92 379.64,142.07" fill="none" stroke="#222" stroke-width="0.7"/>
<polyline points="379.64,142.07 380.85,17.06" fill="none" stroke="#222" stroke-width="0.7"/>
<line x1="228.28" y1="162.41" x2="226.45" y2="163.51" stroke="#444" stroke-width="0.5"/>
<text x="225.48" y="173.31" class="t3">−0.15</text>
<line x1="247.22" y1="165.21" x2="245.43" y2="166.33" stroke="#444" stroke-width="0.5"/>
<text x="244.42" y="176.11" class="t3">−0.10</text>
<line x1="266.48" y1="168.05" x2="264.74" y2="169.19" stroke="#444" stroke-width="0.5"/>
<text x="263.68" y="178.95" class="t3">−0.05</text>
<line x1="286.06" y1="170.94" x2="284.38" y2="172.10" stroke="#444" stroke-width="0.5"/>
<text x="283.26" y="181.84" class="t3">0.00</text>
<line x1="305.99" y1="173.88" x2="304.36" y2="175.06" stroke="#444" stroke-width="0.5"/>
<text x="303.19" y="184.78" class="t3">0.05</text>
<line x1="326.26" y1="176.87" x2="324.69" y2="178.07" stroke="#444" stroke-width="0.5"/>
<text x="323.46" y="187.77" class="t3">0.10</text>
<line x1="341.40" y1="171.66" x2="345.06" y2="172.18" stroke="#444" stroke-width="0.5"/>
<text x="345.70" y="181.46" class="t3">−0.15</text>
<line x1="349.56" y1="165.35" x2="353.16" y2="165.86" stroke="#444" stroke-width="0.5"/>
<text x="353.86" y="175.15" class="t3">−0.10</text>
<line x1="357.42" y1="159.27" x2="360.96" y2="159.76" stroke="#444" stroke-width="0.5"/>
<text x="361.72" y="169.07" class="t3">−0.05</text>
<line x1="365.00" y1="153.40" x2="368.49" y2="153.87" stroke="#444" stroke-width="0.5"/>
<text x="369.30" y="163.20" class="t3">0.00</text>
<line x1="372.32" y1="147.74" x2="375.76" y2="148.20" stroke="#444" stroke-width="0.5"/>
<text x="376.62" y="157.54" class="t3">0.05</text>
<line x1="379.75" y1="130.77" x2="382.84" y2="130.43" stroke="#444" stroke-width="0.5"/>
<text x="387.05" y="133.07" class="t3">−0.20</text>
<line x1="379.94" y1="110.86" x2="383.04" y2="110.55" stroke="#444" stroke-width="0.5"/>
<text x="387.24" y="113.16" class="t3">−0.15</text>
<line x1="380.14" y1="90.86" x2="383.24" y2="90.57" stroke="#444" stroke-width="0.5"/>
<text x="387.44" y="93.16" class="t3">−0.10</text>
<line x1="380.33" y1="70.76" x2="383.44" y2="70.49" stroke="#444" stroke-width="0.5"/>
<text x="387.63" y="73.06" class="t3">−0.05</text>
<line x1="380.53" y1="50.56" x2="383.64" y2="50.31" stroke="#444" stroke-width="0.5"/>
<text x="387.83" y="52.86" class="t3">0.00</text>
<line x1="380.72" y1="30.27" x2="383.85" y2="30.04" stroke="#444" stroke-width="0.5"/>
<text x="388.02" y="32.57" class="t3">0.05</text>
<circle cx="236.2" cy="55.1" r="1.3" fill="#ff0000" fill-opacity="0.42"/>
<circle cx="232.9" cy="58.2" r="1.3" fill="#ff0000" fill-opacity="0.42"/>
<circle cx="228.8" cy="58.6" r="1.3" fill="#0000ff" fill-opacity="0.42"/>
<circle cx="229.9" cy="64.0" r="1.3" fill="#000000" fill-opacity="0.42"/>
<circle cx="236.2" cy="64.5" r="1.3" fill="#000000" fill-opacity="0.42"/>
<circle cx="241.2" cy="62.6" r="1.3" fill="#000000" fill-opacity="0.42"/>
<circle cx="255.8" cy="65.3" r="1.3" fill="#000000" fill-opacity="0.42"/>
<circle cx="245.7" cy="68.3" r="1.3" fill="#0000ff" fill-opacity="0.42"/>
<circle cx="228.2" cy="68.9" r="1.3" fill="#0000ff" fill-opacity="0.42"/>
<circle cx="234.9" cy="72.3" r="1.3" fill="#0000ff" fill-opacity="0.42"/>
<circle cx="243.6" cy="71.6" r="1.3" fill="#ff0000" fill-opacity="0.42"/>
<circle cx="250.4" cy="74.3" r="1.3" fill="#0000ff" fill-opacity="0.42"/>
<circle cx="254.4" cy="72.3" r="1.3" fill="#ff0000" fill-opacity="0.42"/>
<circle cx="261.1" cy="73.4" r="1.3" fill="#000000" fill-opacity="0.42"/>
<circle cx="251.7" cy="74.7" r="1.3" fill="#ff0000" fill-opacity="0.42"/>
<circle cx="252.8" cy="79.7" r="1.3" fill="#000000" fill-opacity="0.42"/>
<circle cx="260.9" cy="79.7" r="1.3" fill="#000000" fill-opacity="0.42"/>
<circle cx="263.8" cy="82.8" r="1.3" fill="#0000ff" fill-opacity="0.42"/>
<circle cx="296.6" cy="62.2" r="1.3" fill="#ff0000" fill-opacity="0.42"/>
<circle cx="282.2" cy="61.3" r="1.3" fill="#000000" fill-opacity="0.42"/>
<circle cx="272.4" cy="68.0" r="1.3" fill="#000000" fill-opacity="0.42"/>
<circle cx="271.1" cy="69.9" r="1.3" fill="#000000" fill-opacity="0.42"/>
<circle cx="270.7" cy="73.0" r="1.3" fill="#0000ff" fill-opacity="0.42"/>
<circle cx="272.4" cy="74.3" r="1.3" fill="#000000" fill-opacity="0.42"/>
<circle cx="300.0" cy="78.0" r="1.3" fill="#ff0000" fill-opacity="0.42"/>
<circle cx="287.9" cy="79.0" r="1.3" fill="#0000ff" fill-opacity="0.42"/>
<circle cx="270.1" cy="79.0" r="1.3" fill="#0000ff" fill-opacity="0.42"/>
<circle cx="273.3" cy="79.0" r="1.3" fill="#0000ff" fill-opacity="0.42"/>
<circle cx="276.4" cy="82.8" r="1.3" fill="#0000ff" fill-opacity="0.42"/>
<circle cx="287.6" cy="82.8" r="1.3" fill="#000000" fill-opacity="0.42"/>
<circle cx="269.0" cy="85.5" r="1.3" fill="#ff0000" fill-opacity="0.42"/>
<circle cx="276.4" cy="85.1" r="1.3" fill="#ff0000" fill-opacity="0.42"/>
<circle cx="279.1" cy="86.4" r="1.3" fill="#0000ff" fill-opacity="0.42"/>
<circle cx="295.7" cy="86.4" r="1.3" fill="#000000" fill-opacity="0.42"/>
<circle cx="274.4" cy="90.1" r="1.3" fill="#0000ff" fill-opacity="0.42"/>
<circle cx="276.8" cy="92.2" r="1.3" fill="#000000" fill-opacity="0.42"/>
<circle cx="286.5" cy="93.2" r="1.3" fill="#000000" fill-opacity="0.42"/>
<circle cx="311.4" cy="96.3" r="1.3" fill="#0000ff" fill-opacity="0.42"/>
<circle cx="280.5" cy="98.1" r="1.3" fill="#0000ff" fill-opacity="0.42"/>
<circle cx="316.8" cy="98.5" r="1.3" fill="#0000ff" fill-opacity="0.42"/>
<circle cx="341.5" cy="112.5" r="1.3" fill="#000000" fill-opacity="0.42"/>
<circle cx="367.8" cy="112.8" r="1.3" fill="#ff0000" fill-opacity="0.42"/>
<circle cx="369.1" cy="115.2" r="1.3" fill="#ff0000" fill-opacity="0.42"/>
<circle cx="323.4" cy="119.0" r="1.3" fill="#0000ff" fill-opacity="0.42"/>
<circle cx="326.7" cy="118.1" r="1.3" fill="#0000ff" fill-opacity="0.42"/>
<circle cx="274.1" cy="91.3" r="1.3" fill="#0000ff" fill-opacity="0.42"/>
<circle cx="269.0" cy="101.7" r="1.3" fill="#000000" fill-opacity="0.42"/>
<circle cx="284.2" cy="112.4" r="1.3" fill="#0000ff" fill-opacity="0.42"/>
<circle cx="296.6" cy="104.3" r="1.3" fill="#0000ff" fill-opacity="0.42"/>
<circle cx="296.3" cy="105.4" r="1.3" fill="#0000ff" fill-opacity="0.42"/>
<circle cx="291.0" cy="108.0" r="1.3" fill="#0000ff" fill-opacity="0.42"/>
<circle cx="312.0" cy="108.8" r="1.3" fill="#000000" fill-opacity="0.42"/>
<circle cx="313.9" cy="109.1" r="1.3" fill="#0000ff" fill-opacity="0.42"/>
<circle cx="292.3" cy="111.0" r="1.3" fill="#ff0000" fill-opacity="0.42"/>
<circle cx="312.3" cy="112.5" r="1.3" fill="#0000ff" fill-opacity="0.42"/>
<circle cx="298.5" cy="113.6" r="1.3" fill="#0000ff" fill-opacity="0.42"/>
<circle cx="312.3" cy="116.4" r="1.3" fill="#ff0000" fill-opacity="0.42"/>
<circle cx="301.3" cy="117.5" r="1.3" fill="#0000ff" fill-opacity="0.42"/>
<circle cx="314.8" cy="117.7" r="1.3" fill="#0000ff" fill-opacity="0.42"/>
<circle cx="299.6" cy="120.9" r="1.3" fill="#0000ff" fill-opacity="0.42"/>
<circle cx="311.4" cy="119.2" r="1.3" fill="#0000ff" fill-opacity="0.42"/>
<circle cx="316.1" cy="120.9" r="1.3" fill="#0000ff" fill-opacity="0.42"/>
<circle cx="322.1" cy="121.1" r="1.3" fill="#0000ff" fill-opacity="0.42"/>
<circle cx="328.2" cy="122.9" r="1.3" fill="#0000ff" fill-opacity="0.42"/>
<circle cx="319.8" cy="123.7" r="1.3" fill="#0000ff" fill-opacity="0.42"/>
<circle cx="324.6" cy="124.8" r="1.3" fill="#008000" fill-opacity="0.42"/>
<circle cx="329.3" cy="127.4" r="1.3" fill="#ff0000" fill-opacity="0.42"/>
<circle cx="256.4" cy="45.7" r="1.3" fill="#000000" fill-opacity="0.88"/>
<circle cx="259.8" cy="48.1" r="1.3" fill="#ff0000" fill-opacity="0.88"/>
<circle cx="265.2" cy="48.3" r="1.3" fill="#000000" fill-opacity="0.88"/>
<circle cx="266.3" cy="50.1" r="1.3" fill="#0000ff" fill-opacity="0.88"/>
<circle cx="268.1" cy="48.7" r="1.3" fill="#ff0000" fill-opacity="0.88"/>
<circle cx="270.4" cy="45.1" r="1.3" fill="#0000ff" fill-opacity="0.88"/>
<circle cx="257.8" cy="50.1" r="1.3" fill="#000000" fill-opacity="0.88"/>
<circle cx="251.7" cy="50.8" r="1.3" fill="#0000ff" fill-opacity="0.88"/>
<circle cx="261.8" cy="53.7" r="1.3" fill="#000000" fill-opacity="0.88"/>
<circle cx="247.7" cy="53.2" r="1.3" fill="#000000" fill-opacity="0.88"/>
<circle cx="250.4" cy="57.5" r="1.3" fill="#ff0000" fill-opacity="0.88"/>
<circle cx="248.8" cy="54.8" r="1.3" fill="#ff0000" fill-opacity="0.88"/>
<circle cx="251.7" cy="55.9" r="1.3" fill="#000000" fill-opacity="0.88"/>
<circle cx="253.1" cy="57.2" r="1.3" fill="#0000ff" fill-opacity="0.88"/>
<circle cx="258.2" cy="54.5" r="1.3" fill="#0000ff" fill-opacity="0.88"/>
<circle cx="257.8" cy="56.8" r="1.3" fill="#0000ff" fill-opacity="0.88"/>
<circle cx="241.2" cy="55.9" r="1.3" fill="#0000ff" fill-opacity="0.88"/>
<circle cx="230.9" cy="57.2" r="1.3" fill="#008000" fill-opacity="0.88"/>
<circle cx="244.3" cy="58.6" r="1.3" fill="#0000ff" fill-opacity="0.88"/>
<circle cx="242.3" cy="60.9" r="1.3" fill="#0000ff" fill-opacity="0.88"/>
<circle cx="243.6" cy="62.2" r="1.3" fill="#0000ff" fill-opacity="0.88"/>
<circle cx="269.2" cy="58.8" r="1.3" fill="#000000" fill-opacity="0.88"/>
<circle cx="259.1" cy="64.0" r="1.3" fill="#008000" fill-opacity="0.88"/>
<circle cx="265.2" cy="64.9" r="1.3" fill="#000000" fill-opacity="0.88"/>
<circle cx="265.9" cy="66.6" r="1.3" fill="#0000ff" fill-opacity="0.88"/>
<circle cx="261.8" cy="66.2" r="1.3" fill="#0000ff" fill-opacity="0.88"/>
<circle cx="251.0" cy="66.2" r="1.3" fill="#008000" fill-opacity="0.88"/>
<circle cx="242.3" cy="66.2" r="1.3" fill="#0000ff" fill-opacity="0.88"/>
<circle cx="244.3" cy="67.6" r="1.3" fill="#0000ff" fill-opacity="0.88"/>
<circle cx="248.4" cy="68.3" r="1.3" fill="#0000ff" fill-opacity="0.88"/>
<circle cx="257.1" cy="67.6" r="1.3" fill="#0000ff" fill-opacity="0.88"/>
<circle cx="255.8" cy="68.9" r="1.3" fill="#0000ff" fill-opacity="0.88"/>
<circle cx="252.4" cy="68.3" r="1.3" fill="#008000" fill-opacity="0.88"/>
<circle cx="253.1" cy="69.3" r="1.3" fill="#0000ff" fill-opacity="0.88"/>
<circle cx="260.9" cy="68.9" r="1.3" fill="#000000" fill-opacity="0.88"/>
<circle cx="234.2" cy="70.3" r="1.3" fill="#ff0000" fill-opacity="0.88"/>
<circle cx="233.1" cy="71.6" r="1.3" fill="#0000ff" fill-opacity="0.88"/>
<circle cx="236.9" cy="70.3" r="1.3" fill="#0000ff" fill-opacity="0.88"/>
<circle cx="242.3" cy="72.3" r="1.3" fill="#0000ff" fill-opacity="0.88"/>
<circle cx="250.6" cy="72.3" r="1.3" fill="#0000ff" fill-opacity="0.88"/>
<circle cx="255.8" cy="73.6" r="1.3" fill="#0000ff" fill-opacity="0.88"/>
<circle cx="257.4" cy="74.3" r="1.3" fill="#ff0000" fill-opacity="0.88"/>
<circle cx="241.0" cy="75.0" r="1.3" fill="#000000" fill-opacity="0.88"/>
<circle cx="243.0" cy="75.7" r="1.3" fill="#0000ff" fill-opacity="0.88"/>
<circle cx="247.0" cy="77.0" r="1.3" fill="#0000ff" fill-opacity="0.88"/>
<circle cx="246.1" cy="78.4" r="1.3" fill="#0000ff" fill-opacity="0.88"/>
<circle cx="263.8" cy="76.1" r="1.3" fill="#008000" fill-opacity="0.88"/>
<circle cx="266.5" cy="78.4" r="1.3" fill="#ff0000" fill-opacity="0.88"/>
<circle cx="267.9" cy="79.1" r="1.3" fill="#000000" fill-opacity="0.88"/>
<circle cx="257.1" cy="83.1" r="1.3" fill="#008000" fill-opacity="0.88"/>
<circle cx="259.1" cy="89.1" r="1.3" fill="#0000ff" fill-opacity="0.88"/>
<circle cx="259.8" cy="91.1" r="1.3" fill="#0000ff" fill-opacity="0.88"/>
<circle cx="265.2" cy="89.1" r="1.3" fill="#000000" fill-opacity="0.88"/>
<circle cx="265.9" cy="91.1" r="1.3" fill="#008000" fill-opacity="0.88"/>
<circle cx="252.0" cy="94.9" r="1.3" fill="#000000" fill-opacity="0.88"/>
<circle cx="262.2" cy="95.9" r="1.3" fill="#ff0000" fill-opacity="0.88"/>
<circle cx="262.5" cy="97.2" r="1.3" fill="#008000" fill-opacity="0.88"/>
<circle cx="244.3" cy="98.1" r="1.3" fill="#0000ff" fill-opacity="0.88"/>
<circle cx="269.7" cy="47.4" r="1.3" fill="#000000" fill-opacity="0.88"/>
<circle cx="285.9" cy="49.2" r="1.3" fill="#0000ff" fill-opacity="0.88"/>
<circle cx="292.6" cy="49.7" r="1.3" fill="#ff0000" fill-opacity="0.88"/>
<circle cx="293.0" cy="52.1" r="1.3" fill="#0000ff" fill-opacity="0.88"/>
<circle cx="302.7" cy="52.4" r="1.3" fill="#ff0000" fill-opacity="0.88"/>
<circle cx="274.7" cy="53.2" r="1.3" fill="#ff0000" fill-opacity="0.88"/>
<circle cx="278.5" cy="54.5" r="1.3" fill="#0000ff" fill-opacity="0.88"/>
<circle cx="289.0" cy="56.8" r="1.3" fill="#008000" fill-opacity="0.88"/>
<circle cx="291.9" cy="58.6" r="1.3" fill="#ff0000" fill-opacity="0.88"/>
<circle cx="297.3" cy="58.8" r="1.3" fill="#000000" fill-opacity="0.88"/>
<circle cx="297.0" cy="60.5" r="1.3" fill="#0000ff" fill-opacity="0.88"/>
<circle cx="303.0" cy="57.5" r="1.3" fill="#0000ff" fill-opacity="0.88"/>
<circle cx="310.1" cy="61.3" r="1.3" fill="#0000ff" fill-opacity="0.88"/>
<circle cx="277.4" cy="61.8" r="1.3" fill="#0000ff" fill-opacity="0.88"/>
<circle cx="283.8" cy="61.3" r="1.3" fill="#ff0000" fill-opacity="0.88"/>
<circle cx="291.6" cy="61.3" r="1.3" fill="#000000" fill-opacity="0.88"/>
<circle cx="292.2" cy="65.3" r="1.3" fill="#ff0000" fill-opacity="0.88"/>
<circle cx="296.2" cy="65.3" r="1.3" fill="#0000ff" fill-opacity="0.88"/>
<circle cx="274.2" cy="65.8" r="1.3" fill="#0000ff" fill-opacity="0.88"/>
<circle cx="281.8" cy="68.3" r="1.3" fill="#000000" fill-opacity="0.88"/>
<circle cx="301.1" cy="68.0" r="1.3" fill="#0000ff" fill-opacity="0.88"/>
<circle cx="299.3" cy="70.7" r="1.3" fill="#0000ff" fill-opacity="0.88"/>
<circle cx="274.7" cy="72.0" r="1.3" fill="#0000ff" fill-opacity="0.88"/>
<circle cx="282.5" cy="74.3" r="1.3" fill="#0000ff" fill-opacity="0.88"/>
<circle cx="319.9" cy="74.3" r="1.3" fill="#0000ff" fill-opacity="0.88"/>
<circle cx="285.9" cy="76.6" r="1.3" fill="#ff0000" fill-opacity="0.88"/>
<circle cx="289.5" cy="76.1" r="1.3" fill="#0000ff" fill-opacity="0.88"/>
<circle cx="301.3" cy="76.1" r="1.3" fill="#0000ff" fill-opacity="0.88"/>
<circle cx="299.3" cy="79.7" r="1.3" fill="#ff0000" fill-opacity="0.88"/>
<circle cx="291.2" cy="79.3" r="1.3" fill="#0000ff" fill-opacity="0.88"/>
<circle cx="281.4" cy="82.0" r="1.3" fill="#0000ff" fill-opacity="0.88"/>
<circle cx="291.2" cy="88.2" r="1.3" fill="#0000ff" fill-opacity="0.88"/>
<circle cx="285.2" cy="93.8" r="1.3" fill="#008000" fill-opacity="0.88"/>
<circle cx="306.5" cy="96.3" r="1.3" fill="#008000" fill-opacity="0.88"/>
<circle cx="304.0" cy="99.0" r="1.3" fill="#0000ff" fill-opacity="0.88"/>
<circle cx="328.3" cy="81.3" r="1.3" fill="#000000" fill-opacity="0.88"/>
<circle cx="366.4" cy="108.2" r="1.3" fill="#000000" fill-opacity="0.88"/>
<circle cx="372.5" cy="115.2" r="1.3" fill="#0000ff" fill-opacity="0.88"/>
<circle cx="272.5" cy="101.7" r="1.3" fill="#0000ff" fill-opacity="0.88"/>
<circle cx="249.2" cy="106.0" r="1.3" fill="#ff0000" fill-opacity="0.88"/>
<circle cx="249.9" cy="105.4" r="1.3" fill="#008000" fill-opacity="0.88"/>
<circle cx="264.9" cy="109.0" r="1.3" fill="#000000" fill-opacity="0.88"/>
<circle cx="252.4" cy="109.6" r="1.3" fill="#ff0000" fill-opacity="0.88"/>
<circle cx="253.6" cy="109.6" r="1.3" fill="#ff0000" fill-opacity="0.88"/>
<circle cx="248.5" cy="111.1" r="1.3" fill="#ff0000" fill-opacity="0.88"/>
<circle cx="255.9" cy="112.9" r="1.3" fill="#0000ff" fill-opacity="0.88"/>
<circle cx="259.3" cy="114.7" r="1.3" fill="#ff0000" fill-opacity="0.88"/>
<circle cx="250.3" cy="114.2" r="1.3" fill="#ff0000" fill-opacity="0.88"/>
<circle cx="251.7" cy="116.9" r="1.3" fill="#000000" fill-opacity="0.88"/>
<circle cx="255.0" cy="118.5" r="1.3" fill="#0000ff" fill-opacity="0.88"/>
<circle cx="260.7" cy="118.3" r="1.3" fill="#ff0000" fill-opacity="0.88"/>
<circle cx="252.1" cy="120.7" r="1.3" fill="#000000" fill-opacity="0.88"/>
<circle cx="256.8" cy="120.7" r="1.3" fill="#0000ff" fill-opacity="0.88"/>
<circle cx="258.4" cy="120.5" r="1.3" fill="#0000ff" fill-opacity="0.88"/>
<circle cx="260.0" cy="120.9" r="1.3" fill="#ff0000" fill-opacity="0.88"/>
<circle cx="287.3" cy="93.4" r="1.3" fill="#0000ff" fill-opacity="0.88"/>
<circle cx="285.8" cy="101.3" r="1.3" fill="#008000" fill-opacity="0.88"/>
<circle cx="297.4" cy="100.7" r="1.3" fill="#ff0000" fill-opacity="0.88"/>
<circle cx="294.8" cy="103.2" r="1.3" fill="#ff0000" fill-opacity="0.88"/>
<circle cx="314.5" cy="104.3" r="1.3" fill="#ff0000" fill-opacity="0.88"/>
<circle cx="318.1" cy="115.3" r="1.3" fill="#000000" fill-opacity="0.88"/>
<circle cx="323.7" cy="120.9" r="1.3" fill="#008000" fill-opacity="0.88"/>
<circle cx="324.3" cy="122.0" r="1.3" fill="#0000ff" fill-opacity="0.88"/>
<polygon points="12.03,389.30 69.52,356.15 69.11,237.93 10.61,258.68" fill="#f6f6f6"/>
<polygon points="69.52,356.15 176.54,371.12 177.82,247.29 69.11,237.93" fill="#efefef"/>
<polygon points="12.03,389.30 128.09,407.76 176.54,371.12 69.52,356.15" fill="#f2f2f2"/>
<polyline points="14.66,389.72 71.96,356.49 71.59,238.14" fill="none" stroke="#cbcbcb" stroke-width="0.5"/>
<polyline points="28.78,391.96 85.03,358.32 84.86,239.28" fill="none" stroke="#cbcbcb" stroke-width="0.5"/>
<polyline points="43.07,394.24 98.26,360.17 98.29,240.44" fill="none" stroke="#cbcbcb" stroke-width="0.5"/>
<polyline points="57.56,396.54 111.64,362.04 111.88,241.61" fill="none" stroke="#cbcbcb" stroke-width="0.5"/>
<polyline points="72.25,398.88 125.19,363.94 125.64,242.80" fill="none" stroke="#cbcbcb" stroke-width="0.5"/>
<polyline points="87.13,401.25 138.90,365.85 139.57,244.00" fill="none" stroke="#cbcbcb" stroke-width="0.5"/>
<polyline points="102.22,403.65 152.78,367.80 153.67,245.21" fill="none" stroke="#cbcbcb" stroke-width="0.5"/>
<polyline points="117.51,406.08 166.83,369.76 167.95,246.44" fill="none" stroke="#cbcbcb" stroke-width="0.5"/>
<polyline points="132.66,404.31 17.43,386.19 16.10,256.73" fill="none" stroke="#cbcbcb" stroke-width="0.5"/>
<polyline points="141.79,397.40 28.23,379.96 27.10,252.83" fill="none" stroke="#cbcbcb" stroke-width="0.5"/>
<polyline points="150.57,390.76 38.63,373.96 37.70,249.07" fill="none" stroke="#cbcbcb" stroke-width="0.5"/>
<polyline points="159.02,384.37 48.67,368.18 47.91,245.45" fill="none" stroke="#cbcbcb" stroke-width="0.5"/>
<polyline points="167.17,378.21 58.36,362.59 57.76,241.95" fill="none" stroke="#cbcbcb" stroke-width="0.5"/>
<polyline points="11.91,378.16 69.49,346.05 176.65,360.55" fill="none" stroke="#cbcbcb" stroke-width="0.5"/>
<polyline points="11.65,354.54 69.42,324.66 176.88,338.15" fill="none" stroke="#cbcbcb" stroke-width="0.5"/>
<polyline points="11.39,330.78 69.34,303.14 177.11,315.62" fill="none" stroke="#cbcbcb" stroke-width="0.5"/>
<polyline points="11.13,306.88 69.27,281.51 177.35,292.96" fill="none" stroke="#cbcbcb" stroke-width="0.5"/>
<polyline points="10.87,282.83 69.19,259.76 177.58,270.17" fill="none" stroke="#cbcbcb" stroke-width="0.5"/>
<polyline points="12.03,389.30 128.09,407.76 176.54,371.12" fill="none" stroke="#222" stroke-width="0.7"/>
<polyline points="176.54,371.12 177.82,247.29" fill="none" stroke="#222" stroke-width="0.7"/>
<line x1="14.66" y1="389.72" x2="12.75" y2="390.83" stroke="#444" stroke-width="0.5"/>
<text x="12.06" y="401.02" class="t3">−0.125</text>
<line x1="28.78" y1="391.96" x2="26.90" y2="393.09" stroke="#444" stroke-width="0.5"/>
<text x="26.18" y="403.26" class="t3">−0.100</text>
<line x1="43.07" y1="394.24" x2="41.23" y2="395.37" stroke="#444" stroke-width="0.5"/>
<text x="40.47" y="405.54" class="t3">−0.075</text>
<line x1="57.56" y1="396.54" x2="55.76" y2="397.70" stroke="#444" stroke-width="0.5"/>
<text x="54.96" y="407.84" class="t3">−0.050</text>
<line x1="72.25" y1="398.88" x2="70.48" y2="400.05" stroke="#444" stroke-width="0.5"/>
<text x="69.65" y="410.18" class="t3">−0.025</text>
<line x1="87.13" y1="401.25" x2="85.40" y2="402.43" stroke="#444" stroke-width="0.5"/>
<text x="84.53" y="412.55" class="t3">0.000</text>
<line x1="102.22" y1="403.65" x2="100.52" y2="404.85" stroke="#444" stroke-width="0.5"/>
<text x="99.62" y="414.95" class="t3">0.025</text>
<line x1="117.51" y1="406.08" x2="115.85" y2="407.30" stroke="#444" stroke-width="0.5"/>
<text x="114.91" y="417.38" class="t3">0.050</text>
<line x1="132.66" y1="404.31" x2="136.30" y2="404.88" stroke="#444" stroke-width="0.5"/>
<text x="137.16" y="414.41" class="t3">−0.15</text>
<line x1="141.79" y1="397.40" x2="145.38" y2="397.95" stroke="#444" stroke-width="0.5"/>
<text x="146.29" y="407.50" class="t3">−0.10</text>
<line x1="150.57" y1="390.76" x2="154.11" y2="391.29" stroke="#444" stroke-width="0.5"/>
<text x="155.07" y="400.86" class="t3">−0.05</text>
<line x1="159.02" y1="384.37" x2="162.51" y2="384.88" stroke="#444" stroke-width="0.5"/>
<text x="163.52" y="394.47" class="t3">0.00</text>
<line x1="167.17" y1="378.21" x2="170.60" y2="378.70" stroke="#444" stroke-width="0.5"/>
<text x="171.67" y="388.31" class="t3">0.05</text>
<line x1="176.65" y1="360.55" x2="179.76" y2="360.21" stroke="#444" stroke-width="0.5"/>
<text x="184.15" y="365.25" class="t3">−0.10</text>
<line x1="176.88" y1="338.15" x2="180.00" y2="337.84" stroke="#444" stroke-width="0.5"/>
<text x="184.38" y="342.85" class="t3">−0.05</text>
<line x1="177.11" y1="315.62" x2="180.25" y2="315.33" stroke="#444" stroke-width="0.5"/>
<text x="184.61" y="320.32" class="t3">0.00</text>
<line x1="177.35" y1="292.96" x2="180.49" y2="292.70" stroke="#444" stroke-width="0.5"/>
<text x="184.85" y="297.66" class="t3">0.05</text>
<line x1="177.58" y1="270.17" x2="180.73" y2="269.93" stroke="#444" stroke-width="0.5"/>
<text x="185.08" y="274.87" class="t3">0.10</text>
<circle cx="112.2" cy="322.0" r="1.3" fill="#008000" fill-opacity="0.42"/>
<circle cx="115.9" cy="327.6" r="1.3" fill="#0000ff" fill-opacity="0.42"/>
<circle cx="108.5" cy="332.8" r="1.3" fill="#0000ff" fill-opacity="0.42"/>
<circle cx="114.5" cy="331.4" r="1.3" fill="#ff0000" fill-opacity="0.42"/>
<circle cx="115.2" cy="333.5" r="1.3" fill="#0000ff" fill-opacity="0.42"/>
<circle cx="94.7" cy="331.8" r="1.3" fill="#ff0000" fill-opacity="0.42"/>
<circle cx="100.4" cy="335.1" r="1.3" fill="#000000" fill-opacity="0.42"/>
<circle cx="111.8" cy="338.2" r="1.3" fill="#0000ff" fill-opacity="0.42"/>
<circle cx="116.5" cy="337.5" r="1.3" fill="#000000" fill-opacity="0.42"/>
<circle cx="86.2" cy="340.5" r="1.3" fill="#0000ff" fill-opacity="0.42"/>
<circle cx="91.0" cy="341.8" r="1.3" fill="#ff0000" fill-opacity="0.42"/>
<circle cx="98.0" cy="339.9" r="1.3" fill="#0000ff" fill-opacity="0.42"/>
<circle cx="103.7" cy="340.9" r="1.3" fill="#0000ff" fill-opacity="0.42"/>
<circle cx="95.7" cy="342.6" r="1.3" fill="#000000" fill-opacity="0.42"/>
<circle cx="86.2" cy="345.8" r="1.3" fill="#000000" fill-opacity="0.42"/>
<circle cx="92.3" cy="346.9" r="1.3" fill="#0000ff" fill-opacity="0.42"/>
<circle cx="94.3" cy="348.2" r="1.3" fill="#0000ff" fill-opacity="0.42"/>
<circle cx="97.0" cy="347.6" r="1.3" fill="#0000ff" fill-opacity="0.42"/>
<circle cx="103.1" cy="345.8" r="1.3" fill="#0000ff" fill-opacity="0.42"/>
<circle cx="110.5" cy="345.3" r="1.3" fill="#0000ff" fill-opacity="0.42"/>
<circle cx="73.2" cy="348.3" r="1.3" fill="#0000ff" fill-opacity="0.42"/>
<circle cx="82.2" cy="348.5" r="1.3" fill="#0000ff" fill-opacity="0.42"/>
<circle cx="101.5" cy="353.6" r="1.3" fill="#000000" fill-opacity="0.42"/>
<circle cx="105.8" cy="350.3" r="1.3" fill="#0000ff" fill-opacity="0.42"/>
<circle cx="73.5" cy="352.0" r="1.3" fill="#ff0000" fill-opacity="0.42"/>
<circle cx="77.8" cy="352.3" r="1.3" fill="#0000ff" fill-opacity="0.42"/>
<circle cx="79.5" cy="356.1" r="1.3" fill="#0000ff" fill-opacity="0.42"/>
<circle cx="81.5" cy="353.0" r="1.3" fill="#0000ff" fill-opacity="0.42"/>
<circle cx="85.3" cy="354.3" r="1.3" fill="#0000ff" fill-opacity="0.42"/>
<circle cx="69.4" cy="354.3" r="1.3" fill="#ff0000" fill-opacity="0.42"/>
<circle cx="67.8" cy="358.4" r="1.3" fill="#0000ff" fill-opacity="0.42"/>
<circle cx="70.8" cy="358.8" r="1.3" fill="#0000ff" fill-opacity="0.42"/>
<circle cx="74.1" cy="357.7" r="1.3" fill="#ff0000" fill-opacity="0.42"/>
<circle cx="84.0" cy="358.4" r="1.3" fill="#0000ff" fill-opacity="0.42"/>
<circle cx="96.1" cy="359.3" r="1.3" fill="#0000ff" fill-opacity="0.42"/>
<circle cx="101.7" cy="357.7" r="1.3" fill="#0000ff" fill-opacity="0.42"/>
<circle cx="103.7" cy="357.0" r="1.3" fill="#0000ff" fill-opacity="0.42"/>
<circle cx="75.9" cy="367.1" r="1.3" fill="#000000" fill-opacity="0.42"/>
<circle cx="142.3" cy="291.6" r="1.3" fill="#0000ff" fill-opacity="0.42"/>
<circle cx="126.2" cy="296.1" r="1.3" fill="#000000" fill-opacity="0.42"/>
<circle cx="132.2" cy="295.0" r="1.3" fill="#008000" fill-opacity="0.42"/>
<circle cx="126.8" cy="302.8" r="1.3" fill="#0000ff" fill-opacity="0.42"/>
<circle cx="132.2" cy="302.8" r="1.3" fill="#0000ff" fill-opacity="0.42"/>
<circle cx="141.0" cy="304.1" r="1.3" fill="#0000ff" fill-opacity="0.42"/>
<circle cx="124.8" cy="306.0" r="1.3" fill="#ff0000" fill-opacity="0.42"/>
<circle cx="127.8" cy="306.0" r="1.3" fill="#0000ff" fill-opacity="0.42"/>
<circle cx="120.8" cy="306.4" r="1.3" fill="#0000ff" fill-opacity="0.42"/>
<circle cx="110.7" cy="313.6" r="1.3" fill="#0000ff" fill-opacity="0.42"/>
<circle cx="120.5" cy="315.2" r="1.3" fill="#0000ff" fill-opacity="0.42"/>
<circle cx="116.7" cy="316.5" r="1.3" fill="#ff0000" fill-opacity="0.42"/>
<circle cx="114.0" cy="317.6" r="1.3" fill="#0000ff" fill-opacity="0.42"/>
<circle cx="124.1" cy="319.7" r="1.3" fill="#0000ff" fill-opacity="0.42"/>
<circle cx="119.2" cy="322.4" r="1.3" fill="#000000" fill-opacity="0.42"/>
<circle cx="129.5" cy="320.1" r="1.3" fill="#000000" fill-opacity="0.42"/>
<circle cx="132.9" cy="325.8" r="1.3" fill="#0000ff" fill-opacity="0.42"/>
<circle cx="135.6" cy="325.5" r="1.3" fill="#0000ff" fill-opacity="0.42"/>
<circle cx="137.6" cy="325.1" r="1.3" fill="#0000ff" fill-opacity="0.42"/>
<circle cx="124.1" cy="329.5" r="1.3" fill="#000000" fill-opacity="0.42"/>
<circle cx="116.7" cy="330.9" r="1.3" fill="#0000ff" fill-opacity="0.42"/>
<circle cx="121.4" cy="333.2" r="1.3" fill="#0000ff" fill-opacity="0.42"/>
<circle cx="129.5" cy="333.2" r="1.3" fill="#000000" fill-opacity="0.42"/>
<circle cx="131.3" cy="336.8" r="1.3" fill="#000000" fill-opacity="0.42"/>
<circle cx="134.0" cy="336.3" r="1.3" fill="#0000ff" fill-opacity="0.42"/>
<circle cx="121.0" cy="343.0" r="1.3" fill="#0000ff" fill-opacity="0.42"/>
<circle cx="123.2" cy="343.5" r="1.3" fill="#0000ff" fill-opacity="0.42"/>
<circle cx="132.2" cy="345.7" r="1.3" fill="#0000ff" fill-opacity="0.42"/>
<circle cx="146.6" cy="348.0" r="1.3" fill="#0000ff" fill-opacity="0.42"/>
<circle cx="122.1" cy="349.3" r="1.3" fill="#0000ff" fill-opacity="0.42"/>
<circle cx="123.7" cy="350.3" r="1.3" fill="#0000ff" fill-opacity="0.42"/>
<circle cx="127.5" cy="348.6" r="1.3" fill="#0000ff" fill-opacity="0.42"/>
<circle cx="130.9" cy="348.4" r="1.3" fill="#0000ff" fill-opacity="0.42"/>
<circle cx="116.1" cy="353.8" r="1.3" fill="#0000ff" fill-opacity="0.42"/>
<circle cx="78.7" cy="362.3" r="1.3" fill="#ff0000" fill-opacity="0.42"/>
<circle cx="119.2" cy="307.0" r="1.3" fill="#0000ff" fill-opacity="0.42"/>
<circle cx="111.1" cy="316.4" r="1.3" fill="#008000" fill-opacity="0.42"/>
<circle cx="119.2" cy="320.9" r="1.3" fill="#000000" fill-opacity="0.42"/>
<circle cx="48.3" cy="297.8" r="1.3" fill="#0000ff" fill-opacity="0.88"/>
<circle cx="27.2" cy="322.3" r="1.3" fill="#0000ff" fill-opacity="0.88"/>
<circle cx="32.9" cy="328.4" r="1.3" fill="#000000" fill-opacity="0.88"/>
<circle cx="18.7" cy="333.3" r="1.3" fill="#008000" fill-opacity="0.88"/>
<circle cx="41.3" cy="334.4" r="1.3" fill="#008000" fill-opacity="0.88"/>
<circle cx="41.6" cy="337.1" r="1.3" fill="#0000ff" fill-opacity="0.88"/>
<circle cx="28.1" cy="336.8" r="1.3" fill="#000000" fill-opacity="0.88"/>
<circle cx="29.9" cy="337.4" r="1.3" fill="#ff0000" fill-opacity="0.88"/>
<circle cx="15.8" cy="342.5" r="1.3" fill="#0000ff" fill-opacity="0.88"/>
<circle cx="17.1" cy="345.5" r="1.3" fill="#0000ff" fill-opacity="0.88"/>
<circle cx="34.6" cy="341.4" r="1.3" fill="#0000ff" fill-opacity="0.88"/>
<circle cx="36.2" cy="343.8" r="1.3" fill="#000000" fill-opacity="0.88"/>
<circle cx="42.4" cy="342.5" r="1.3" fill="#ff0000" fill-opacity="0.88"/>
<circle cx="42.0" cy="344.5" r="1.3" fill="#008000" fill-opacity="0.88"/>
<circle cx="39.3" cy="345.9" r="1.3" fill="#0000ff" fill-opacity="0.88"/>
<circle cx="28.1" cy="348.5" r="1.3" fill="#000000" fill-opacity="0.88"/>
<circle cx="42.0" cy="349.2" r="1.3" fill="#0000ff" fill-opacity="0.88"/>
<circle cx="27.4" cy="350.4" r="1.3" fill="#008000" fill-opacity="0.88"/>
<circle cx="19.0" cy="351.7" r="1.3" fill="#ff0000" fill-opacity="0.88"/>
<circle cx="38.4" cy="350.6" r="1.3" fill="#0000ff" fill-opacity="0.88"/>
<circle cx="40.7" cy="350.4" r="1.3" fill="#ff0000" fill-opacity="0.88"/>
<circle cx="25.4" cy="352.9" r="1.3" fill="#0000ff" fill-opacity="0.88"/>
<circle cx="26.9" cy="355.7" r="1.3" fill="#000000" fill-opacity="0.88"/>
<circle cx="44.0" cy="352.9" r="1.3" fill="#000000" fill-opacity="0.88"/>
<circle cx="41.8" cy="355.3" r="1.3" fill="#0000ff" fill-opacity="0.88"/>
<circle cx="33.6" cy="357.9" r="1.3" fill="#000000" fill-opacity="0.88"/>
<circle cx="33.0" cy="359.6" r="1.3" fill="#ff0000" fill-opacity="0.88"/>
<circle cx="38.4" cy="358.5" r="1.3" fill="#000000" fill-opacity="0.88"/>
<circle cx="42.0" cy="360.7" r="1.3" fill="#000000" fill-opacity="0.88"/>
<circle cx="51.2" cy="359.0" r="1.3" fill="#0000ff" fill-opacity="0.88"/>
<circle cx="20.5" cy="363.2" r="1.3" fill="#ff0000" fill-opacity="0.88"/>
<circle cx="29.1" cy="363.2" r="1.3" fill="#ff0000" fill-opacity="0.88"/>
<circle cx="35.1" cy="365.0" r="1.3" fill="#000000" fill-opacity="0.88"/>
<circle cx="33.6" cy="365.7" r="1.3" fill="#000000" fill-opacity="0.88"/>
<circle cx="47.4" cy="364.3" r="1.3" fill="#0000ff" fill-opacity="0.88"/>
<circle cx="46.3" cy="366.9" r="1.3" fill="#0000ff" fill-opacity="0.88"/>
<circle cx="41.4" cy="367.4" r="1.3" fill="#0000ff" fill-opacity="0.88"/>
<circle cx="32.5" cy="368.0" r="1.3" fill="#000000" fill-opacity="0.88"/>
<circle cx="34.7" cy="369.4" r="1.3" fill="#ff0000" fill-opacity="0.88"/>
<circle cx="31.0" cy="370.8" r="1.3" fill="#0000ff" fill-opacity="0.88"/>
<circle cx="54.9" cy="369.7" r="1.3" fill="#0000ff" fill-opacity="0.88"/>
<circle cx="30.8" cy="374.2" r="1.3" fill="#000000" fill-opacity="0.88"/>
<circle cx="46.5" cy="378.1" r="1.3" fill="#ff0000" fill-opacity="0.88"/>
<circle cx="56.6" cy="378.6" r="1.3" fill="#ff0000" fill-opacity="0.88"/>
<circle cx="42.9" cy="381.8" r="1.3" fill="#ff0000" fill-opacity="0.88"/>
<circle cx="99.0" cy="326.1" r="1.3" fill="#0000ff" fill-opacity="0.88"/>
<circle cx="99.7" cy="328.7" r="1.3" fill="#0000ff" fill-opacity="0.88"/>
<circle cx="107.1" cy="327.4" r="1.3" fill="#008000" fill-opacity="0.88"/>
<circle cx="116.3" cy="325.4" r="1.3" fill="#0000ff" fill-opacity="0.88"/>
<circle cx="111.1" cy="331.0" r="1.3" fill="#008000" fill-opacity="0.88"/>
<circle cx="110.5" cy="333.5" r="1.3" fill="#0000ff" fill-opacity="0.88"/>
<circle cx="89.3" cy="334.1" r="1.3" fill="#0000ff" fill-opacity="0.88"/>
<circle cx="107.1" cy="338.2" r="1.3" fill="#0000ff" fill-opacity="0.88"/>
<circle cx="100.4" cy="343.6" r="1.3" fill="#000000" fill-opacity="0.88"/>
<circle cx="110.1" cy="340.9" r="1.3" fill="#0000ff" fill-opacity="0.88"/>
<circle cx="116.3" cy="341.3" r="1.3" fill="#000000" fill-opacity="0.88"/>
<circle cx="91.2" cy="352.0" r="1.3" fill="#008000" fill-opacity="0.88"/>
<circle cx="96.1" cy="352.3" r="1.3" fill="#000000" fill-opacity="0.88"/>
<circle cx="96.3" cy="354.3" r="1.3" fill="#0000ff" fill-opacity="0.88"/>
<circle cx="106.8" cy="351.2" r="1.3" fill="#ff0000" fill-opacity="0.88"/>
<circle cx="113.2" cy="353.4" r="1.3" fill="#ff0000" fill-opacity="0.88"/>
<circle cx="117.2" cy="352.3" r="1.3" fill="#0000ff" fill-opacity="0.88"/>
<circle cx="118.1" cy="356.1" r="1.3" fill="#ff0000" fill-opacity="0.88"/>
<circle cx="77.5" cy="354.7" r="1.3" fill="#000000" fill-opacity="0.88"/>
<circle cx="83.1" cy="354.7" r="1.3" fill="#0000ff" fill-opacity="0.88"/>
<circle cx="88.3" cy="356.3" r="1.3" fill="#ff0000" fill-opacity="0.88"/>
<circle cx="89.0" cy="357.6" r="1.3" fill="#000000" fill-opacity="0.88"/>
<circle cx="91.6" cy="360.4" r="1.3" fill="#000000" fill-opacity="0.88"/>
<circle cx="108.7" cy="358.0" r="1.3" fill="#0000ff" fill-opacity="0.88"/>
<circle cx="105.8" cy="361.7" r="1.3" fill="#000000" fill-opacity="0.88"/>
<circle cx="107.1" cy="364.1" r="1.3" fill="#ff0000" fill-opacity="0.88"/>
<circle cx="106.4" cy="365.5" r="1.3" fill="#0000ff" fill-opacity="0.88"/>
<circle cx="112.8" cy="362.8" r="1.3" fill="#008000" fill-opacity="0.88"/>
<circle cx="79.9" cy="363.1" r="1.3" fill="#ff0000" fill-opacity="0.88"/>
<circle cx="74.1" cy="364.1" r="1.3" fill="#0000ff" fill-opacity="0.88"/>
<circle cx="86.6" cy="365.8" r="1.3" fill="#0000ff" fill-opacity="0.88"/>
<circle cx="88.3" cy="367.1" r="1.3" fill="#000000" fill-opacity="0.88"/>
<circle cx="87.6" cy="368.2" r="1.3" fill="#ff0000" fill-opacity="0.88"/>
<circle cx="72.4" cy="366.8" r="1.3" fill="#ff0000" fill-opacity="0.88"/>
<circle cx="71.8" cy="371.1" r="1.3" fill="#ff0000" fill-opacity="0.88"/>
<circle cx="74.1" cy="371.4" r="1.3" fill="#000000" fill-opacity="0.88"/>
<circle cx="84.9" cy="372.2" r="1.3" fill="#0000ff" fill-opacity="0.88"/>
<circle cx="94.7" cy="370.5" r="1.3" fill="#000000" fill-opacity="0.88"/>
<circle cx="93.4" cy="372.2" r="1.3" fill="#ff0000" fill-opacity="0.88"/>
<circle cx="97.0" cy="372.5" r="1.3" fill="#008000" fill-opacity="0.88"/>
<circle cx="97.5" cy="371.8" r="1.3" fill="#000000" fill-opacity="0.88"/>
<circle cx="92.6" cy="375.5" r="1.3" fill="#ff0000" fill-opacity="0.88"/>
<circle cx="162.5" cy="265.4" r="1.3" fill="#0000ff" fill-opacity="0.88"/>
<circle cx="170.3" cy="266.5" r="1.3" fill="#000000" fill-opacity="0.88"/>
<circle cx="148.4" cy="299.3" r="1.3" fill="#ff0000" fill-opacity="0.88"/>
<circle cx="148.8" cy="300.6" r="1.3" fill="#000000" fill-opacity="0.88"/>
<circle cx="153.1" cy="308.2" r="1.3" fill="#ff0000" fill-opacity="0.88"/>
<circle cx="145.0" cy="315.2" r="1.3" fill="#ff0000" fill-opacity="0.88"/>
<circle cx="152.8" cy="314.1" r="1.3" fill="#0000ff" fill-opacity="0.88"/>
<circle cx="122.8" cy="317.2" r="1.3" fill="#ff0000" fill-opacity="0.88"/>
<circle cx="132.2" cy="319.2" r="1.3" fill="#0000ff" fill-opacity="0.88"/>
<circle cx="151.0" cy="319.2" r="1.3" fill="#0000ff" fill-opacity="0.88"/>
<circle cx="112.0" cy="319.7" r="1.3" fill="#0000ff" fill-opacity="0.88"/>
<circle cx="118.7" cy="320.7" r="1.3" fill="#0000ff" fill-opacity="0.88"/>
<circle cx="152.8" cy="323.7" r="1.3" fill="#0000ff" fill-opacity="0.88"/>
<circle cx="143.9" cy="322.8" r="1.3" fill="#000000" fill-opacity="0.88"/>
<circle cx="122.4" cy="326.0" r="1.3" fill="#0000ff" fill-opacity="0.88"/>
<circle cx="150.6" cy="328.2" r="1.3" fill="#000000" fill-opacity="0.88"/>
<circle cx="134.0" cy="330.9" r="1.3" fill="#0000ff" fill-opacity="0.88"/>
<circle cx="137.6" cy="332.2" r="1.3" fill="#0000ff" fill-opacity="0.88"/>
<circle cx="135.3" cy="340.6" r="1.3" fill="#ff0000" fill-opacity="0.88"/>
<circle cx="129.1" cy="342.2" r="1.3" fill="#0000ff" fill-opacity="0.88"/>
<circle cx="139.9" cy="348.0" r="1.3" fill="#000000" fill-opacity="0.88"/>
<circle cx="142.0" cy="346.0" r="1.3" fill="#000000" fill-opacity="0.88"/>
<circle cx="152.8" cy="346.0" r="1.3" fill="#ff0000" fill-opacity="0.88"/>
<circle cx="119.7" cy="353.0" r="1.3" fill="#0000ff" fill-opacity="0.88"/>
<circle cx="127.2" cy="353.4" r="1.3" fill="#008000" fill-opacity="0.88"/>
<circle cx="129.9" cy="353.8" r="1.3" fill="#0000ff" fill-opacity="0.88"/>
<circle cx="124.8" cy="356.5" r="1.3" fill="#000000" fill-opacity="0.88"/>
<circle cx="80.0" cy="362.9" r="1.3" fill="#0000ff" fill-opacity="0.88"/>
<circle cx="73.1" cy="385.1" r="1.3" fill="#0000ff" fill-opacity="0.88"/>
<circle cx="85.2" cy="384.3" r="1.3" fill="#0000ff" fill-opacity="0.88"/>
<circle cx="85.4" cy="385.8" r="1.3" fill="#0000ff" fill-opacity="0.88"/>
<circle cx="89.5" cy="384.3" r="1.3" fill="#0000ff" fill-opacity="0.88"/>
<polygon points="215.83,390.25 271.76,357.66 271.35,237.94 214.48,257.79" fill="#f6f6f6"/>
<polygon points="271.76,357.66 379.86,371.68 381.07,246.47 271.35,237.94" fill="#efefef"/>
<polygon points="215.83,390.25 333.41,407.58 379.86,371.68 271.76,357.66" fill="#f2f2f2"/>
<polyline points="231.47,392.55 286.20,359.53 286.00,239.08" fill="none" stroke="#cbcbcb" stroke-width="0.5"/>
<polyline points="249.14,395.15 302.50,361.64 302.53,240.37" fill="none" stroke="#cbcbcb" stroke-width="0.5"/>
<polyline points="267.08,397.80 319.02,363.79 319.30,241.67" fill="none" stroke="#cbcbcb" stroke-width="0.5"/>
<polyline points="285.31,400.49 335.78,365.96 336.31,242.99" fill="none" stroke="#cbcbcb" stroke-width="0.5"/>
<polyline points="303.84,403.22 352.78,368.17 353.57,244.34" fill="none" stroke="#cbcbcb" stroke-width="0.5"/>
<polyline points="322.66,405.99 370.02,370.40 371.08,245.70" fill="none" stroke="#cbcbcb" stroke-width="0.5"/>
<polyline points="340.17,402.35 223.94,385.52 222.73,254.91" fill="none" stroke="#cbcbcb" stroke-width="0.5"/>
<polyline points="347.38,396.78 232.60,380.48 231.54,251.84" fill="none" stroke="#cbcbcb" stroke-width="0.5"/>
<polyline points="354.36,391.38 240.99,375.59 240.08,248.86" fill="none" stroke="#cbcbcb" stroke-width="0.5"/>
<polyline points="361.13,386.15 249.14,370.84 248.37,245.96" fill="none" stroke="#cbcbcb" stroke-width="0.5"/>
<polyline points="367.68,381.09 257.04,366.23 256.40,243.16" fill="none" stroke="#cbcbcb" stroke-width="0.5"/>
<polyline points="374.04,376.18 264.72,361.76 264.20,240.44" fill="none" stroke="#cbcbcb" stroke-width="0.5"/>
<polyline points="215.57,364.56 271.68,334.41 380.10,347.38" fill="none" stroke="#cbcbcb" stroke-width="0.5"/>
<polyline points="215.31,339.50 271.61,311.74 380.32,323.68" fill="none" stroke="#cbcbcb" stroke-width="0.5"/>
<polyline points="215.05,314.28 271.53,288.95 380.56,299.84" fill="none" stroke="#cbcbcb" stroke-width="0.5"/>
<polyline points="214.79,288.91 271.45,266.03 380.79,275.86" fill="none" stroke="#cbcbcb" stroke-width="0.5"/>
<polyline points="214.53,263.38 271.37,242.98 381.02,251.75" fill="none" stroke="#cbcbcb" stroke-width="0.5"/>
<polyline points="215.83,390.25 333.41,407.58 379.86,371.68" fill="none" stroke="#222" stroke-width="0.7"/>
<polyline points="379.86,371.68 381.07,246.47" fill="none" stroke="#222" stroke-width="0.7"/>
<line x1="231.47" y1="392.55" x2="229.64" y2="393.65" stroke="#444" stroke-width="0.5"/>
<text x="227.87" y="403.35" class="t3">−0.15</text>
<line x1="249.14" y1="395.15" x2="247.35" y2="396.27" stroke="#444" stroke-width="0.5"/>
<text x="245.54" y="405.95" class="t3">−0.10</text>
<line x1="267.08" y1="397.80" x2="265.35" y2="398.94" stroke="#444" stroke-width="0.5"/>
<text x="263.48" y="408.60" class="t3">−0.05</text>
<line x1="285.31" y1="400.49" x2="283.62" y2="401.64" stroke="#444" stroke-width="0.5"/>
<text x="281.71" y="411.29" class="t3">0.00</text>
<line x1="303.84" y1="403.22" x2="302.20" y2="404.39" stroke="#444" stroke-width="0.5"/>
<text x="300.24" y="414.02" class="t3">0.05</text>
<line x1="322.66" y1="405.99" x2="321.07" y2="407.18" stroke="#444" stroke-width="0.5"/>
<text x="319.06" y="416.79" class="t3">0.10</text>
<line x1="340.17" y1="402.35" x2="343.84" y2="402.88" stroke="#444" stroke-width="0.5"/>
<text x="344.27" y="412.15" class="t3">−0.15</text>
<line x1="347.38" y1="396.78" x2="351.00" y2="397.29" stroke="#444" stroke-width="0.5"/>
<text x="351.48" y="406.58" class="t3">−0.10</text>
<line x1="354.36" y1="391.38" x2="357.94" y2="391.88" stroke="#444" stroke-width="0.5"/>
<text x="358.46" y="401.18" class="t3">−0.05</text>
<line x1="361.13" y1="386.15" x2="364.66" y2="386.64" stroke="#444" stroke-width="0.5"/>
<text x="365.23" y="395.95" class="t3">0.00</text>
<line x1="367.68" y1="381.09" x2="371.17" y2="381.56" stroke="#444" stroke-width="0.5"/>
<text x="371.78" y="390.89" class="t3">0.05</text>
<line x1="374.04" y1="376.18" x2="377.48" y2="376.63" stroke="#444" stroke-width="0.5"/>
<text x="378.14" y="385.98" class="t3">0.10</text>
<line x1="380.10" y1="347.38" x2="383.20" y2="347.06" stroke="#444" stroke-width="0.5"/>
<text x="387.20" y="351.78" class="t3">0.0</text>
<line x1="380.32" y1="323.68" x2="383.44" y2="323.38" stroke="#444" stroke-width="0.5"/>
<text x="387.42" y="328.08" class="t3">0.1</text>
<line x1="380.56" y1="299.84" x2="383.67" y2="299.57" stroke="#444" stroke-width="0.5"/>
<text x="387.66" y="304.24" class="t3">0.2</text>
<line x1="380.79" y1="275.86" x2="383.91" y2="275.62" stroke="#444" stroke-width="0.5"/>
<text x="387.89" y="280.26" class="t3">0.3</text>
<line x1="381.02" y1="251.75" x2="384.16" y2="251.53" stroke="#444" stroke-width="0.5"/>
<text x="388.12" y="256.15" class="t3">0.4</text>
<circle cx="259.5" cy="337.6" r="1.3" fill="#ff0000" fill-opacity="0.42"/>
<circle cx="232.6" cy="348.4" r="1.3" fill="#ff0000" fill-opacity="0.42"/>
<circle cx="269.0" cy="347.0" r="1.3" fill="#0000ff" fill-opacity="0.42"/>
<circle cx="258.7" cy="353.3" r="1.3" fill="#ff0000" fill-opacity="0.42"/>
<circle cx="267.6" cy="353.3" r="1.3" fill="#ff0000" fill-opacity="0.42"/>
<circle cx="269.2" cy="357.8" r="1.3" fill="#0000ff" fill-opacity="0.42"/>
<circle cx="263.2" cy="363.6" r="1.3" fill="#000000" fill-opacity="0.42"/>
<circle cx="287.0" cy="327.3" r="1.3" fill="#ff0000" fill-opacity="0.42"/>
<circle cx="297.3" cy="328.1" r="1.3" fill="#ff0000" fill-opacity="0.42"/>
<circle cx="302.7" cy="330.6" r="1.3" fill="#0000ff" fill-opacity="0.42"/>
<circle cx="275.0" cy="333.5" r="1.3" fill="#000000" fill-opacity="0.42"/>
<circle cx="308.1" cy="335.5" r="1.3" fill="#0000ff" fill-opacity="0.42"/>
<circle cx="296.9" cy="339.3" r="1.3" fill="#0000ff" fill-opacity="0.42"/>
<circle cx="287.9" cy="342.2" r="1.3" fill="#0000ff" fill-opacity="0.42"/>
<circle cx="279.8" cy="343.8" r="1.3" fill="#ff0000" fill-opacity="0.42"/>
<circle cx="294.2" cy="345.2" r="1.3" fill="#008000" fill-opacity="0.42"/>
<circle cx="293.9" cy="347.7" r="1.3" fill="#ff0000" fill-opacity="0.42"/>
<circle cx="292.1" cy="349.2" r="1.3" fill="#000000" fill-opacity="0.42"/>
<circle cx="300.9" cy="345.6" r="1.3" fill="#0000ff" fill-opacity="0.42"/>
<circle cx="303.6" cy="347.9" r="1.3" fill="#008000" fill-opacity="0.42"/>
<circle cx="316.6" cy="349.7" r="1.3" fill="#0000ff" fill-opacity="0.42"/>
<circle cx="283.7" cy="352.8" r="1.3" fill="#0000ff" fill-opacity="0.42"/>
<circle cx="290.0" cy="351.9" r="1.3" fill="#0000ff" fill-opacity="0.42"/>
<circle cx="301.3" cy="351.9" r="1.3" fill="#000000" fill-opacity="0.42"/>
<circle cx="301.8" cy="354.2" r="1.3" fill="#000000" fill-opacity="0.42"/>
<circle cx="298.0" cy="355.2" r="1.3" fill="#000000" fill-opacity="0.42"/>
<circle cx="314.8" cy="354.2" r="1.3" fill="#0000ff" fill-opacity="0.42"/>
<circle cx="317.0" cy="354.6" r="1.3" fill="#0000ff" fill-opacity="0.42"/>
<circle cx="271.7" cy="355.9" r="1.3" fill="#0000ff" fill-opacity="0.42"/>
<circle cx="279.4" cy="358.2" r="1.3" fill="#0000ff" fill-opacity="0.42"/>
<circle cx="285.5" cy="357.9" r="1.3" fill="#0000ff" fill-opacity="0.42"/>
<circle cx="295.3" cy="357.3" r="1.3" fill="#0000ff" fill-opacity="0.42"/>
<circle cx="304.0" cy="357.0" r="1.3" fill="#0000ff" fill-opacity="0.42"/>
<circle cx="313.0" cy="358.2" r="1.3" fill="#0000ff" fill-opacity="0.42"/>
<circle cx="315.2" cy="357.7" r="1.3" fill="#0000ff" fill-opacity="0.42"/>
<circle cx="319.3" cy="358.6" r="1.3" fill="#0000ff" fill-opacity="0.42"/>
<circle cx="275.0" cy="361.5" r="1.3" fill="#0000ff" fill-opacity="0.42"/>
<circle cx="282.9" cy="361.1" r="1.3" fill="#000000" fill-opacity="0.42"/>
<circle cx="297.5" cy="360.0" r="1.3" fill="#0000ff" fill-opacity="0.42"/>
<circle cx="292.8" cy="362.4" r="1.3" fill="#000000" fill-opacity="0.42"/>
<circle cx="291.9" cy="363.1" r="1.3" fill="#0000ff" fill-opacity="0.42"/>
<circle cx="296.9" cy="362.9" r="1.3" fill="#0000ff" fill-opacity="0.42"/>
<circle cx="302.5" cy="361.5" r="1.3" fill="#ff0000" fill-opacity="0.42"/>
<circle cx="304.5" cy="361.8" r="1.3" fill="#ff0000" fill-opacity="0.42"/>
<circle cx="306.7" cy="362.9" r="1.3" fill="#0000ff" fill-opacity="0.42"/>
<circle cx="317.0" cy="362.0" r="1.3" fill="#000000" fill-opacity="0.42"/>
<circle cx="278.6" cy="364.9" r="1.3" fill="#0000ff" fill-opacity="0.42"/>
<circle cx="299.5" cy="366.3" r="1.3" fill="#008000" fill-opacity="0.42"/>
<circle cx="303.8" cy="364.7" r="1.3" fill="#ff0000" fill-opacity="0.42"/>
<circle cx="287.9" cy="367.6" r="1.3" fill="#0000ff" fill-opacity="0.42"/>
<circle cx="332.9" cy="300.7" r="1.3" fill="#ff0000" fill-opacity="0.42"/>
<circle cx="334.3" cy="310.2" r="1.3" fill="#ff0000" fill-opacity="0.42"/>
<circle cx="348.0" cy="325.7" r="1.3" fill="#ff0000" fill-opacity="0.42"/>
<circle cx="358.7" cy="323.9" r="1.3" fill="#ff0000" fill-opacity="0.42"/>
<circle cx="367.6" cy="323.9" r="1.3" fill="#ff0000" fill-opacity="0.42"/>
<circle cx="368.8" cy="296.8" r="1.3" fill="#0000ff" fill-opacity="0.42"/>
<circle cx="373.1" cy="327.0" r="1.3" fill="#0000ff" fill-opacity="0.42"/>
<circle cx="366.6" cy="335.1" r="1.3" fill="#0000ff" fill-opacity="0.42"/>
<circle cx="326.2" cy="335.1" r="1.3" fill="#0000ff" fill-opacity="0.42"/>
<circle cx="332.9" cy="335.1" r="1.3" fill="#ff0000" fill-opacity="0.42"/>
<circle cx="360.4" cy="336.8" r="1.3" fill="#ff0000" fill-opacity="0.42"/>
<circle cx="360.4" cy="338.8" r="1.3" fill="#0000ff" fill-opacity="0.42"/>
<circle cx="374.4" cy="339.3" r="1.3" fill="#0000ff" fill-opacity="0.42"/>
<circle cx="349.2" cy="340.2" r="1.3" fill="#ff0000" fill-opacity="0.42"/>
<circle cx="327.3" cy="345.2" r="1.3" fill="#0000ff" fill-opacity="0.42"/>
<circle cx="323.4" cy="349.7" r="1.3" fill="#0000ff" fill-opacity="0.42"/>
<circle cx="340.2" cy="352.0" r="1.3" fill="#ff0000" fill-opacity="0.42"/>
<circle cx="347.0" cy="353.4" r="1.3" fill="#000000" fill-opacity="0.42"/>
<circle cx="324.5" cy="352.5" r="1.3" fill="#0000ff" fill-opacity="0.42"/>
<circle cx="327.9" cy="353.9" r="1.3" fill="#ff0000" fill-opacity="0.42"/>
<circle cx="332.9" cy="355.7" r="1.3" fill="#ff0000" fill-opacity="0.42"/>
<circle cx="340.6" cy="354.2" r="1.3" fill="#0000ff" fill-opacity="0.42"/>
<circle cx="330.5" cy="356.8" r="1.3" fill="#0000ff" fill-opacity="0.42"/>
<circle cx="356.7" cy="356.8" r="1.3" fill="#0000ff" fill-opacity="0.42"/>
<circle cx="324.5" cy="358.7" r="1.3" fill="#0000ff" fill-opacity="0.42"/>
<circle cx="320.4" cy="361.0" r="1.3" fill="#0000ff" fill-opacity="0.42"/>
<circle cx="327.9" cy="359.8" r="1.3" fill="#0000ff" fill-opacity="0.42"/>
<circle cx="338.6" cy="360.1" r="1.3" fill="#000000" fill-opacity="0.42"/>
<circle cx="321.2" cy="363.2" r="1.3" fill="#0000ff" fill-opacity="0.42"/>
<circle cx="326.2" cy="363.5" r="1.3" fill="#0000ff" fill-opacity="0.42"/>
<circle cx="340.2" cy="362.8" r="1.3" fill="#0000ff" fill-opacity="0.42"/>
<circle cx="321.5" cy="367.1" r="1.3" fill="#0000ff" fill-opacity="0.42"/>
<circle cx="363.9" cy="275.4" r="1.3" fill="#0000ff" fill-opacity="0.42"/>
<circle cx="372.3" cy="278.4" r="1.3" fill="#000000" fill-opacity="0.42"/>
<circle cx="252.8" cy="316.5" r="1.3" fill="#ff0000" fill-opacity="0.88"/>
<circle cx="255.5" cy="321.8" r="1.3" fill="#0000ff" fill-opacity="0.88"/>
<circle cx="257.1" cy="320.5" r="1.3" fill="#ff0000" fill-opacity="0.88"/>
<circle cx="269.5" cy="322.8" r="1.3" fill="#0000ff" fill-opacity="0.88"/>
<circle cx="246.3" cy="325.5" r="1.3" fill="#0000ff" fill-opacity="0.88"/>
<circle cx="225.9" cy="329.1" r="1.3" fill="#ff0000" fill-opacity="0.88"/>
<circle cx="227.8" cy="328.8" r="1.3" fill="#0000ff" fill-opacity="0.88"/>
<circle cx="225.5" cy="330.9" r="1.3" fill="#000000" fill-opacity="0.88"/>
<circle cx="227.2" cy="335.3" r="1.3" fill="#000000" fill-opacity="0.88"/>
<circle cx="260.1" cy="329.9" r="1.3" fill="#000000" fill-opacity="0.88"/>
<circle cx="267.9" cy="331.3" r="1.3" fill="#008000" fill-opacity="0.88"/>
<circle cx="265.9" cy="334.5" r="1.3" fill="#008000" fill-opacity="0.88"/>
<circle cx="250.6" cy="336.6" r="1.3" fill="#0000ff" fill-opacity="0.88"/>
<circle cx="261.8" cy="338.9" r="1.3" fill="#0000ff" fill-opacity="0.88"/>
<circle cx="226.4" cy="343.4" r="1.3" fill="#ff0000" fill-opacity="0.88"/>
<circle cx="232.6" cy="343.4" r="1.3" fill="#0000ff" fill-opacity="0.88"/>
<circle cx="265.9" cy="346.1" r="1.3" fill="#008000" fill-opacity="0.88"/>
<circle cx="245.7" cy="352.0" r="1.3" fill="#000000" fill-opacity="0.88"/>
<circle cx="273.8" cy="311.1" r="1.3" fill="#0000ff" fill-opacity="0.88"/>
<circle cx="275.3" cy="312.0" r="1.3" fill="#0000ff" fill-opacity="0.88"/>
<circle cx="278.0" cy="318.3" r="1.3" fill="#000000" fill-opacity="0.88"/>
<circle cx="278.3" cy="321.0" r="1.3" fill="#ff0000" fill-opacity="0.88"/>
<circle cx="273.1" cy="324.3" r="1.3" fill="#ff0000" fill-opacity="0.88"/>
<circle cx="303.1" cy="326.4" r="1.3" fill="#ff0000" fill-opacity="0.88"/>
<circle cx="309.4" cy="319.8" r="1.3" fill="#0000ff" fill-opacity="0.88"/>
<circle cx="309.0" cy="321.6" r="1.3" fill="#0000ff" fill-opacity="0.88"/>
<circle cx="319.3" cy="321.0" r="1.3" fill="#0000ff" fill-opacity="0.88"/>
<circle cx="309.9" cy="327.9" r="1.3" fill="#0000ff" fill-opacity="0.88"/>
<circle cx="298.9" cy="330.1" r="1.3" fill="#0000ff" fill-opacity="0.88"/>
<circle cx="295.7" cy="331.5" r="1.3" fill="#ff0000" fill-opacity="0.88"/>
<circle cx="297.8" cy="331.9" r="1.3" fill="#000000" fill-opacity="0.88"/>
<circle cx="317.5" cy="331.9" r="1.3" fill="#0000ff" fill-opacity="0.88"/>
<circle cx="279.8" cy="333.0" r="1.3" fill="#0000ff" fill-opacity="0.88"/>
<circle cx="283.4" cy="333.3" r="1.3" fill="#008000" fill-opacity="0.88"/>
<circle cx="288.5" cy="335.1" r="1.3" fill="#0000ff" fill-opacity="0.88"/>
<circle cx="312.1" cy="335.5" r="1.3" fill="#0000ff" fill-opacity="0.88"/>
<circle cx="313.9" cy="335.1" r="1.3" fill="#0000ff" fill-opacity="0.88"/>
<circle cx="318.8" cy="336.4" r="1.3" fill="#0000ff" fill-opacity="0.88"/>
<circle cx="286.1" cy="339.3" r="1.3" fill="#000000" fill-opacity="0.88"/>
<circle cx="291.0" cy="338.2" r="1.3" fill="#000000" fill-opacity="0.88"/>
<circle cx="290.0" cy="341.3" r="1.3" fill="#000000" fill-opacity="0.88"/>
<circle cx="300.9" cy="337.5" r="1.3" fill="#ff0000" fill-opacity="0.88"/>
<circle cx="302.7" cy="339.3" r="1.3" fill="#000000" fill-opacity="0.88"/>
<circle cx="306.5" cy="338.0" r="1.3" fill="#0000ff" fill-opacity="0.88"/>
<circle cx="295.1" cy="340.9" r="1.3" fill="#ff0000" fill-opacity="0.88"/>
<circle cx="273.8" cy="342.0" r="1.3" fill="#0000ff" fill-opacity="0.88"/>
<circle cx="279.8" cy="342.0" r="1.3" fill="#000000" fill-opacity="0.88"/>
<circle cx="277.1" cy="343.6" r="1.3" fill="#0000ff" fill-opacity="0.88"/>
<circle cx="282.0" cy="343.8" r="1.3" fill="#0000ff" fill-opacity="0.88"/>
<circle cx="296.4" cy="343.4" r="1.3" fill="#0000ff" fill-opacity="0.88"/>
<circle cx="311.7" cy="342.0" r="1.3" fill="#008000" fill-opacity="0.88"/>
<circle cx="315.2" cy="343.6" r="1.3" fill="#000000" fill-opacity="0.88"/>
<circle cx="278.5" cy="345.6" r="1.3" fill="#008000" fill-opacity="0.88"/>
<circle cx="285.8" cy="344.7" r="1.3" fill="#000000" fill-opacity="0.88"/>
<circle cx="287.9" cy="347.9" r="1.3" fill="#000000" fill-opacity="0.88"/>
<circle cx="292.8" cy="351.9" r="1.3" fill="#000000" fill-opacity="0.88"/>
<circle cx="297.3" cy="346.8" r="1.3" fill="#000000" fill-opacity="0.88"/>
<circle cx="298.6" cy="348.8" r="1.3" fill="#0000ff" fill-opacity="0.88"/>
<circle cx="309.0" cy="349.2" r="1.3" fill="#ff0000" fill-opacity="0.88"/>
<circle cx="309.9" cy="350.1" r="1.3" fill="#000000" fill-opacity="0.88"/>
<circle cx="312.1" cy="347.9" r="1.3" fill="#0000ff" fill-opacity="0.88"/>
<circle cx="311.7" cy="350.1" r="1.3" fill="#008000" fill-opacity="0.88"/>
<circle cx="278.0" cy="352.8" r="1.3" fill="#0000ff" fill-opacity="0.88"/>
<circle cx="312.1" cy="354.2" r="1.3" fill="#0000ff" fill-opacity="0.88"/>
<circle cx="279.2" cy="357.0" r="1.3" fill="#0000ff" fill-opacity="0.88"/>
<circle cx="312.4" cy="356.4" r="1.3" fill="#000000" fill-opacity="0.88"/>
<circle cx="312.1" cy="358.8" r="1.3" fill="#000000" fill-opacity="0.88"/>
<circle cx="333.1" cy="316.1" r="1.3" fill="#ff0000" fill-opacity="0.88"/>
<circle cx="329.0" cy="320.9" r="1.3" fill="#0000ff" fill-opacity="0.88"/>
<circle cx="332.4" cy="322.3" r="1.3" fill="#000000" fill-opacity="0.88"/>
<circle cx="333.9" cy="321.8" r="1.3" fill="#000000" fill-opacity="0.88"/>
<circle cx="352.5" cy="318.6" r="1.3" fill="#0000ff" fill-opacity="0.88"/>
<circle cx="351.7" cy="323.9" r="1.3" fill="#0000ff" fill-opacity="0.88"/>
<circle cx="338.0" cy="329.1" r="1.3" fill="#008000" fill-opacity="0.88"/>
<circle cx="370.2" cy="329.9" r="1.3" fill="#0000ff" fill-opacity="0.88"/>
<circle cx="339.1" cy="331.2" r="1.3" fill="#0000ff" fill-opacity="0.88"/>
<circle cx="333.8" cy="330.7" r="1.3" fill="#000000" fill-opacity="0.88"/>
<circle cx="322.6" cy="331.8" r="1.3" fill="#0000ff" fill-opacity="0.88"/>
<circle cx="350.0" cy="333.5" r="1.3" fill="#0000ff" fill-opacity="0.88"/>
<circle cx="331.8" cy="337.9" r="1.3" fill="#0000ff" fill-opacity="0.88"/>
<circle cx="334.6" cy="336.8" r="1.3" fill="#0000ff" fill-opacity="0.88"/>
<circle cx="337.4" cy="334.8" r="1.3" fill="#0000ff" fill-opacity="0.88"/>
<circle cx="322.6" cy="338.2" r="1.3" fill="#008000" fill-opacity="0.88"/>
<circle cx="344.4" cy="340.0" r="1.3" fill="#000000" fill-opacity="0.88"/>
<circle cx="344.4" cy="342.7" r="1.3" fill="#0000ff" fill-opacity="0.88"/>
<circle cx="335.7" cy="341.9" r="1.3" fill="#000000" fill-opacity="0.88"/>
<circle cx="325.3" cy="340.2" r="1.3" fill="#0000ff" fill-opacity="0.88"/>
<circle cx="324.0" cy="341.9" r="1.3" fill="#0000ff" fill-opacity="0.88"/>
<circle cx="326.2" cy="343.0" r="1.3" fill="#000000" fill-opacity="0.88"/>
<circle cx="327.9" cy="341.9" r="1.3" fill="#0000ff" fill-opacity="0.88"/>
<circle cx="323.4" cy="344.4" r="1.3" fill="#0000ff" fill-opacity="0.88"/>
<circle cx="328.5" cy="346.0" r="1.3" fill="#0000ff" fill-opacity="0.88"/>
<circle cx="330.1" cy="346.9" r="1.3" fill="#008000" fill-opacity="0.88"/>
<circle cx="322.9" cy="346.7" r="1.3" fill="#0000ff" fill-opacity="0.88"/>
<circle cx="316.7" cy="344.4" r="1.3" fill="#000000" fill-opacity="0.88"/>
<circle cx="331.8" cy="350.5" r="1.3" fill="#0000ff" fill-opacity="0.88"/>
<circle cx="339.9" cy="350.1" r="1.3" fill="#0000ff" fill-opacity="0.88"/>
<circle cx="336.1" cy="356.8" r="1.3" fill="#000000" fill-opacity="0.88"/>
<circle cx="324.5" cy="359.3" r="1.3" fill="#008000" fill-opacity="0.88"/>
<polygon points="615.64,390.25 671.62,357.66 671.21,237.94 614.28,257.79" fill="#f6f6f6"/>
<polygon points="671.62,357.66 779.81,371.68 781.02,246.47 671.21,237.94" fill="#efefef"/>
<polygon points="615.64,390.25 733.32,407.58 779.81,371.68 671.62,357.66" fill="#f2f2f2"/>
<polyline points="625.85,391.75 681.05,358.88 680.77,238.69" fill="none" stroke="#cbcbcb" stroke-width="0.5"/>
<polyline points="642.68,394.23 696.57,360.89 696.52,239.91" fill="none" stroke="#cbcbcb" stroke-width="0.5"/>
<polyline points="659.76,396.74 712.31,362.93 712.49,241.15" fill="none" stroke="#cbcbcb" stroke-width="0.5"/>
<polyline points="677.09,399.30 728.26,365.00 728.68,242.41" fill="none" stroke="#cbcbcb" stroke-width="0.5"/>
<polyline points="694.70,401.89 744.43,367.09 745.09,243.68" fill="none" stroke="#cbcbcb" stroke-width="0.5"/>
<polyline points="712.57,404.52 760.82,369.22 761.73,244.98" fill="none" stroke="#cbcbcb" stroke-width="0.5"/>
<polyline points="730.72,407.19 777.43,371.37 778.61,246.29" fill="none" stroke="#cbcbcb" stroke-width="0.5"/>
<polyline points="741.86,400.98 625.88,384.28 624.71,254.16" fill="none" stroke="#cbcbcb" stroke-width="0.5"/>
<polyline points="749.49,395.09 635.05,378.95 634.04,250.90" fill="none" stroke="#cbcbcb" stroke-width="0.5"/>
<polyline points="756.86,389.40 643.92,373.78 643.06,247.76" fill="none" stroke="#cbcbcb" stroke-width="0.5"/>
<polyline points="763.99,383.89 652.50,368.79 651.79,244.71" fill="none" stroke="#cbcbcb" stroke-width="0.5"/>
<polyline points="770.88,378.57 660.82,363.94 660.24,241.77" fill="none" stroke="#cbcbcb" stroke-width="0.5"/>
<polyline points="777.55,373.42 668.89,359.25 668.43,238.91" fill="none" stroke="#cbcbcb" stroke-width="0.5"/>
<polyline points="615.57,384.11 671.60,352.10 779.87,365.87" fill="none" stroke="#cbcbcb" stroke-width="0.5"/>
<polyline points="615.32,359.47 671.52,329.81 780.09,342.57" fill="none" stroke="#cbcbcb" stroke-width="0.5"/>
<polyline points="615.07,334.69 671.44,307.40 780.32,319.14" fill="none" stroke="#cbcbcb" stroke-width="0.5"/>
<polyline points="614.81,309.76 671.37,284.86 780.55,295.57" fill="none" stroke="#cbcbcb" stroke-width="0.5"/>
<polyline points="614.55,284.67 671.29,262.21 780.78,271.87" fill="none" stroke="#cbcbcb" stroke-width="0.5"/>
<polyline points="615.64,390.25 733.32,407.58 779.81,371.68" fill="none" stroke="#222" stroke-width="0.7"/>
<polyline points="779.81,371.68 781.02,246.47" fill="none" stroke="#222" stroke-width="0.7"/>
<line x1="625.85" y1="391.75" x2="624.00" y2="392.85" stroke="#444" stroke-width="0.5"/>
<text x="623.95" y="402.15" class="t3">−0.20</text>
<line x1="642.68" y1="394.23" x2="640.87" y2="395.34" stroke="#444" stroke-width="0.5"/>
<text x="640.78" y="404.63" class="t3">−0.15</text>
<line x1="659.76" y1="396.74" x2="658.00" y2="397.87" stroke="#444" stroke-width="0.5"/>
<text x="657.86" y="407.14" class="t3">−0.10</text>
<line x1="677.09" y1="399.30" x2="675.38" y2="400.44" stroke="#444" stroke-width="0.5"/>
<text x="675.19" y="409.70" class="t3">−0.05</text>
<line x1="694.70" y1="401.89" x2="693.03" y2="403.05" stroke="#444" stroke-width="0.5"/>
<text x="692.80" y="412.29" class="t3">0.00</text>
<line x1="712.57" y1="404.52" x2="710.95" y2="405.70" stroke="#444" stroke-width="0.5"/>
<text x="710.67" y="414.92" class="t3">0.05</text>
<line x1="730.72" y1="407.19" x2="729.15" y2="408.39" stroke="#444" stroke-width="0.5"/>
<text x="728.82" y="417.59" class="t3">0.10</text>
<line x1="741.86" y1="400.98" x2="745.53" y2="401.50" stroke="#444" stroke-width="0.5"/>
<text x="747.06" y="411.28" class="t3">−0.10</text>
<line x1="749.49" y1="395.09" x2="753.10" y2="395.60" stroke="#444" stroke-width="0.5"/>
<text x="754.69" y="405.39" class="t3">−0.05</text>
<line x1="756.86" y1="389.40" x2="760.43" y2="389.89" stroke="#444" stroke-width="0.5"/>
<text x="762.06" y="399.70" class="t3">0.00</text>
<line x1="763.99" y1="383.89" x2="767.50" y2="384.37" stroke="#444" stroke-width="0.5"/>
<text x="769.19" y="394.19" class="t3">0.05</text>
<line x1="770.88" y1="378.57" x2="774.35" y2="379.03" stroke="#444" stroke-width="0.5"/>
<text x="776.08" y="388.87" class="t3">0.10</text>
<line x1="777.55" y1="373.42" x2="780.97" y2="373.87" stroke="#444" stroke-width="0.5"/>
<text x="782.75" y="383.72" class="t3">0.15</text>
<line x1="779.87" y1="365.87" x2="782.97" y2="365.53" stroke="#444" stroke-width="0.5"/>
<text x="786.67" y="369.67" class="t3">−0.4</text>
<line x1="780.09" y1="342.57" x2="783.20" y2="342.25" stroke="#444" stroke-width="0.5"/>
<text x="786.89" y="346.37" class="t3">−0.3</text>
<line x1="780.32" y1="319.14" x2="783.44" y2="318.84" stroke="#444" stroke-width="0.5"/>
<text x="787.12" y="322.94" class="t3">−0.2</text>
<line x1="780.55" y1="295.57" x2="783.67" y2="295.30" stroke="#444" stroke-width="0.5"/>
<text x="787.35" y="299.37" class="t3">−0.1</text>
<line x1="780.78" y1="271.87" x2="783.91" y2="271.62" stroke="#444" stroke-width="0.5"/>
<text x="787.58" y="275.67" class="t3">0.0</text>
<circle cx="672.7" cy="264.0" r="1.3" fill="#ff0000" fill-opacity="0.42"/>
<circle cx="674.7" cy="271.1" r="1.3" fill="#000000" fill-opacity="0.42"/>
<circle cx="664.6" cy="289.0" r="1.3" fill="#000000" fill-opacity="0.42"/>
<circle cx="653.4" cy="288.4" r="1.3" fill="#000000" fill-opacity="0.42"/>
<circle cx="645.6" cy="291.7" r="1.3" fill="#000000" fill-opacity="0.42"/>
<circle cx="648.3" cy="295.1" r="1.3" fill="#000000" fill-opacity="0.42"/>
<circle cx="677.2" cy="293.2" r="1.3" fill="#0000ff" fill-opacity="0.42"/>
<circle cx="678.3" cy="279.4" r="1.3" fill="#000000" fill-opacity="0.42"/>
<circle cx="676.6" cy="296.0" r="1.3" fill="#ff0000" fill-opacity="0.42"/>
<circle cx="683.7" cy="268.2" r="1.3" fill="#ff0000" fill-opacity="0.42"/>
<circle cx="686.2" cy="267.1" r="1.3" fill="#ff0000" fill-opacity="0.42"/>
<circle cx="681.5" cy="269.8" r="1.3" fill="#000000" fill-opacity="0.42"/>
<circle cx="690.7" cy="272.4" r="1.3" fill="#0000ff" fill-opacity="0.42"/>
<circle cx="693.8" cy="276.1" r="1.3" fill="#ff0000" fill-opacity="0.42"/>
<circle cx="684.2" cy="278.0" r="1.3" fill="#ff0000" fill-opacity="0.42"/>
<circle cx="695.2" cy="280.6" r="1.3" fill="#ff0000" fill-opacity="0.42"/>
<circle cx="704.7" cy="283.3" r="1.3" fill="#000000" fill-opacity="0.42"/>
<circle cx="685.7" cy="284.7" r="1.3" fill="#000000" fill-opacity="0.42"/>
<circle cx="692.9" cy="290.0" r="1.3" fill="#000000" fill-opacity="0.42"/>
<circle cx="702.8" cy="292.6" r="1.3" fill="#0000ff" fill-opacity="0.42"/>
<circle cx="708.4" cy="290.0" r="1.3" fill="#000000" fill-opacity="0.42"/>
<circle cx="709.5" cy="291.8" r="1.3" fill="#0000ff" fill-opacity="0.42"/>
<circle cx="700.6" cy="293.7" r="1.3" fill="#0000ff" fill-opacity="0.42"/>
<circle cx="723.8" cy="292.0" r="1.3" fill="#0000ff" fill-opacity="0.42"/>
<circle cx="720.4" cy="294.0" r="1.3" fill="#000000" fill-opacity="0.42"/>
<circle cx="678.9" cy="291.4" r="1.3" fill="#000000" fill-opacity="0.42"/>
<circle cx="682.3" cy="294.3" r="1.3" fill="#0000ff" fill-opacity="0.42"/>
<circle cx="676.7" cy="296.3" r="1.3" fill="#0000ff" fill-opacity="0.42"/>
<circle cx="680.0" cy="297.4" r="1.3" fill="#008000" fill-opacity="0.42"/>
<circle cx="717.6" cy="299.0" r="1.3" fill="#0000ff" fill-opacity="0.42"/>
<circle cx="719.9" cy="299.0" r="1.3" fill="#0000ff" fill-opacity="0.42"/>
<circle cx="687.6" cy="298.2" r="1.3" fill="#ff0000" fill-opacity="0.42"/>
<circle cx="682.0" cy="301.0" r="1.3" fill="#ff0000" fill-opacity="0.42"/>
<circle cx="686.2" cy="301.0" r="1.3" fill="#0000ff" fill-opacity="0.42"/>
<circle cx="689.0" cy="301.0" r="1.3" fill="#000000" fill-opacity="0.42"/>
<circle cx="696.5" cy="300.4" r="1.3" fill="#0000ff" fill-opacity="0.42"/>
<circle cx="679.5" cy="303.8" r="1.3" fill="#0000ff" fill-opacity="0.42"/>
<circle cx="708.9" cy="303.8" r="1.3" fill="#ff0000" fill-opacity="0.42"/>
<circle cx="726.6" cy="303.4" r="1.3" fill="#008000" fill-opacity="0.42"/>
<circle cx="629.5" cy="300.0" r="1.3" fill="#000000" fill-opacity="0.42"/>
<circle cx="637.0" cy="302.0" r="1.3" fill="#000000" fill-opacity="0.42"/>
<circle cx="640.0" cy="308.5" r="1.3" fill="#ff0000" fill-opacity="0.42"/>
<circle cx="646.0" cy="306.0" r="1.3" fill="#0000ff" fill-opacity="0.42"/>
<circle cx="649.4" cy="310.9" r="1.3" fill="#000000" fill-opacity="0.42"/>
<circle cx="632.1" cy="312.4" r="1.3" fill="#000000" fill-opacity="0.42"/>
<circle cx="634.4" cy="315.0" r="1.3" fill="#0000ff" fill-opacity="0.42"/>
<circle cx="640.7" cy="312.9" r="1.3" fill="#0000ff" fill-opacity="0.42"/>
<circle cx="643.8" cy="314.1" r="1.3" fill="#0000ff" fill-opacity="0.42"/>
<circle cx="641.1" cy="315.7" r="1.3" fill="#0000ff" fill-opacity="0.42"/>
<circle cx="649.7" cy="315.4" r="1.3" fill="#ff0000" fill-opacity="0.42"/>
<circle cx="663.5" cy="299.7" r="1.3" fill="#ff0000" fill-opacity="0.42"/>
<circle cx="661.5" cy="303.1" r="1.3" fill="#000000" fill-opacity="0.42"/>
<circle cx="662.6" cy="303.7" r="1.3" fill="#000000" fill-opacity="0.42"/>
<circle cx="667.7" cy="306.0" r="1.3" fill="#ff0000" fill-opacity="0.42"/>
<circle cx="670.5" cy="304.9" r="1.3" fill="#000000" fill-opacity="0.42"/>
<circle cx="671.8" cy="306.2" r="1.3" fill="#0000ff" fill-opacity="0.42"/>
<circle cx="676.1" cy="304.9" r="1.3" fill="#000000" fill-opacity="0.42"/>
<circle cx="659.8" cy="309.6" r="1.3" fill="#0000ff" fill-opacity="0.42"/>
<circle cx="662.4" cy="309.8" r="1.3" fill="#008000" fill-opacity="0.42"/>
<circle cx="669.3" cy="310.1" r="1.3" fill="#0000ff" fill-opacity="0.42"/>
<circle cx="664.3" cy="312.9" r="1.3" fill="#ff0000" fill-opacity="0.42"/>
<circle cx="672.7" cy="313.8" r="1.3" fill="#000000" fill-opacity="0.42"/>
<circle cx="678.9" cy="310.7" r="1.3" fill="#000000" fill-opacity="0.42"/>
<circle cx="675.8" cy="314.6" r="1.3" fill="#0000ff" fill-opacity="0.42"/>
<circle cx="659.8" cy="316.5" r="1.3" fill="#0000ff" fill-opacity="0.42"/>
<circle cx="665.8" cy="315.7" r="1.3" fill="#0000ff" fill-opacity="0.42"/>
<circle cx="678.3" cy="319.1" r="1.3" fill="#0000ff" fill-opacity="0.42"/>
<circle cx="666.0" cy="321.9" r="1.3" fill="#0000ff" fill-opacity="0.42"/>
<circle cx="669.9" cy="321.9" r="1.3" fill="#0000ff" fill-opacity="0.42"/>
<circle cx="643.8" cy="325.1" r="1.3" fill="#ff0000" fill-opacity="0.42"/>
<circle cx="671.0" cy="327.7" r="1.3" fill="#0000ff" fill-opacity="0.42"/>
<circle cx="687.1" cy="304.5" r="1.3" fill="#000000" fill-opacity="0.42"/>
<circle cx="680.4" cy="306.2" r="1.3" fill="#ff0000" fill-opacity="0.42"/>
<circle cx="684.0" cy="308.2" r="1.3" fill="#000000" fill-opacity="0.42"/>
<circle cx="685.1" cy="308.6" r="1.3" fill="#000000" fill-opacity="0.42"/>
<circle cx="688.2" cy="308.5" r="1.3" fill="#ff0000" fill-opacity="0.42"/>
<circle cx="685.7" cy="310.7" r="1.3" fill="#0000ff" fill-opacity="0.42"/>
<circle cx="692.9" cy="309.6" r="1.3" fill="#0000ff" fill-opacity="0.42"/>
<circle cx="700.8" cy="308.5" r="1.3" fill="#ff0000" fill-opacity="0.42"/>
<circle cx="688.5" cy="312.9" r="1.3" fill="#ff0000" fill-opacity="0.42"/>
<circle cx="700.2" cy="314.1" r="1.3" fill="#000000" fill-opacity="0.42"/>
<circle cx="706.6" cy="312.7" r="1.3" fill="#0000ff" fill-opacity="0.42"/>
<circle cx="712.2" cy="310.7" r="1.3" fill="#0000ff" fill-opacity="0.42"/>
<circle cx="714.5" cy="312.4" r="1.3" fill="#008000" fill-opacity="0.42"/>
<circle cx="712.0" cy="315.0" r="1.3" fill="#0000ff" fill-opacity="0.42"/>
<circle cx="733.9" cy="313.8" r="1.3" fill="#ff0000" fill-opacity="0.42"/>
<circle cx="723.0" cy="316.1" r="1.3" fill="#ff0000" fill-opacity="0.42"/>
<circle cx="727.5" cy="317.7" r="1.3" fill="#000000" fill-opacity="0.42"/>
<circle cx="707.3" cy="318.0" r="1.3" fill="#ff0000" fill-opacity="0.42"/>
<circle cx="719.6" cy="321.0" r="1.3" fill="#0000ff" fill-opacity="0.42"/>
<circle cx="685.1" cy="322.8" r="1.3" fill="#0000ff" fill-opacity="0.42"/>
<circle cx="715.6" cy="323.6" r="1.3" fill="#000000" fill-opacity="0.42"/>
<circle cx="732.2" cy="334.8" r="1.3" fill="#000000" fill-opacity="0.42"/>
<circle cx="732.4" cy="340.4" r="1.3" fill="#ff0000" fill-opacity="0.42"/>
<circle cx="734.4" cy="330.9" r="1.3" fill="#ff0000" fill-opacity="0.42"/>
<circle cx="736.2" cy="311.4" r="1.3" fill="#0000ff" fill-opacity="0.42"/>
<circle cx="740.5" cy="313.2" r="1.3" fill="#0000ff" fill-opacity="0.42"/>
<circle cx="736.2" cy="326.0" r="1.3" fill="#000000" fill-opacity="0.42"/>
<circle cx="751.4" cy="324.9" r="1.3" fill="#0000ff" fill-opacity="0.42"/>
<circle cx="735.7" cy="331.2" r="1.3" fill="#ff0000" fill-opacity="0.42"/>
<circle cx="632.9" cy="258.4" r="1.3" fill="#0000ff" fill-opacity="0.88"/>
<circle cx="646.0" cy="258.7" r="1.3" fill="#ff0000" fill-opacity="0.88"/>
<circle cx="654.2" cy="259.2" r="1.3" fill="#000000" fill-opacity="0.88"/>
<circle cx="661.5" cy="258.7" r="1.3" fill="#0000ff" fill-opacity="0.88"/>
<circle cx="664.6" cy="258.1" r="1.3" fill="#0000ff" fill-opacity="0.88"/>
<circle cx="639.6" cy="263.7" r="1.3" fill="#0000ff" fill-opacity="0.88"/>
<circle cx="659.8" cy="265.7" r="1.3" fill="#0000ff" fill-opacity="0.88"/>
<circle cx="645.6" cy="267.4" r="1.3" fill="#008000" fill-opacity="0.88"/>
<circle cx="651.2" cy="267.4" r="1.3" fill="#ff0000" fill-opacity="0.88"/>
<circle cx="653.4" cy="267.0" r="1.3" fill="#000000" fill-opacity="0.88"/>
<circle cx="652.5" cy="268.8" r="1.3" fill="#0000ff" fill-opacity="0.88"/>
<circle cx="654.5" cy="269.3" r="1.3" fill="#ff0000" fill-opacity="0.88"/>
<circle cx="662.4" cy="268.2" r="1.3" fill="#000000" fill-opacity="0.88"/>
<circle cx="663.2" cy="268.6" r="1.3" fill="#0000ff" fill-opacity="0.88"/>
<circle cx="638.5" cy="268.5" r="1.3" fill="#0000ff" fill-opacity="0.88"/>
<circle cx="634.6" cy="270.4" r="1.3" fill="#0000ff" fill-opacity="0.88"/>
<circle cx="645.6" cy="270.2" r="1.3" fill="#0000ff" fill-opacity="0.88"/>
<circle cx="658.1" cy="271.1" r="1.3" fill="#000000" fill-opacity="0.88"/>
<circle cx="655.7" cy="272.2" r="1.3" fill="#0000ff" fill-opacity="0.88"/>
<circle cx="660.9" cy="271.3" r="1.3" fill="#0000ff" fill-opacity="0.88"/>
<circle cx="640.2" cy="273.8" r="1.3" fill="#000000" fill-opacity="0.88"/>
<circle cx="642.4" cy="274.4" r="1.3" fill="#000000" fill-opacity="0.88"/>
<circle cx="639.3" cy="274.7" r="1.3" fill="#0000ff" fill-opacity="0.88"/>
<circle cx="644.7" cy="274.9" r="1.3" fill="#ff0000" fill-opacity="0.88"/>
<circle cx="658.7" cy="274.1" r="1.3" fill="#ff0000" fill-opacity="0.88"/>
<circle cx="667.1" cy="274.1" r="1.3" fill="#ff0000" fill-opacity="0.88"/>
<circle cx="670.2" cy="273.8" r="1.3" fill="#0000ff" fill-opacity="0.88"/>
<circle cx="628.1" cy="276.7" r="1.3" fill="#0000ff" fill-opacity="0.88"/>
<circle cx="638.5" cy="276.9" r="1.3" fill="#ff0000" fill-opacity="0.88"/>
<circle cx="639.3" cy="277.8" r="1.3" fill="#0000ff" fill-opacity="0.88"/>
<circle cx="655.3" cy="277.1" r="1.3" fill="#ff0000" fill-opacity="0.88"/>
<circle cx="665.4" cy="277.5" r="1.3" fill="#ff0000" fill-opacity="0.88"/>
<circle cx="632.9" cy="278.6" r="1.3" fill="#ff0000" fill-opacity="0.88"/>
<circle cx="666.2" cy="279.4" r="1.3" fill="#008000" fill-opacity="0.88"/>
<circle cx="671.4" cy="279.4" r="1.3" fill="#008000" fill-opacity="0.88"/>
<circle cx="646.0" cy="280.3" r="1.3" fill="#000000" fill-opacity="0.88"/>
<circle cx="646.4" cy="282.7" r="1.3" fill="#0000ff" fill-opacity="0.88"/>
<circle cx="631.0" cy="282.0" r="1.3" fill="#0000ff" fill-opacity="0.88"/>
<circle cx="652.0" cy="283.1" r="1.3" fill="#ff0000" fill-opacity="0.88"/>
<circle cx="665.4" cy="282.5" r="1.3" fill="#0000ff" fill-opacity="0.88"/>
<circle cx="629.5" cy="285.7" r="1.3" fill="#ff0000" fill-opacity="0.88"/>
<circle cx="631.2" cy="285.9" r="1.3" fill="#ff0000" fill-opacity="0.88"/>
<circle cx="641.3" cy="285.3" r="1.3" fill="#008000" fill-opacity="0.88"/>
<circle cx="656.4" cy="285.9" r="1.3" fill="#000000" fill-opacity="0.88"/>
<circle cx="660.6" cy="285.0" r="1.3" fill="#ff0000" fill-opacity="0.88"/>
<circle cx="668.2" cy="285.0" r="1.3" fill="#0000ff" fill-opacity="0.88"/>
<circle cx="667.7" cy="287.0" r="1.3" fill="#0000ff" fill-opacity="0.88"/>
<circle cx="658.4" cy="287.9" r="1.3" fill="#000000" fill-opacity="0.88"/>
<circle cx="662.1" cy="288.7" r="1.3" fill="#0000ff" fill-opacity="0.88"/>
<circle cx="652.0" cy="289.0" r="1.3" fill="#000000" fill-opacity="0.88"/>
<circle cx="638.2" cy="289.5" r="1.3" fill="#008000" fill-opacity="0.88"/>
<circle cx="628.7" cy="291.5" r="1.3" fill="#0000ff" fill-opacity="0.88"/>
<circle cx="633.5" cy="290.9" r="1.3" fill="#0000ff" fill-opacity="0.88"/>
<circle cx="634.6" cy="291.7" r="1.3" fill="#0000ff" fill-opacity="0.88"/>
<circle cx="637.4" cy="293.2" r="1.3" fill="#0000ff" fill-opacity="0.88"/>
<circle cx="668.8" cy="292.4" r="1.3" fill="#0000ff" fill-opacity="0.88"/>
<circle cx="633.5" cy="295.4" r="1.3" fill="#0000ff" fill-opacity="0.88"/>
<circle cx="644.1" cy="295.1" r="1.3" fill="#0000ff" fill-opacity="0.88"/>
<circle cx="650.3" cy="296.2" r="1.3" fill="#0000ff" fill-opacity="0.88"/>
<circle cx="652.5" cy="294.6" r="1.3" fill="#0000ff" fill-opacity="0.88"/>
<circle cx="640.7" cy="297.1" r="1.3" fill="#0000ff" fill-opacity="0.88"/>
<circle cx="638.5" cy="298.4" r="1.3" fill="#0000ff" fill-opacity="0.88"/>
<circle cx="671.4" cy="294.9" r="1.3" fill="#0000ff" fill-opacity="0.88"/>
<circle cx="678.9" cy="274.1" r="1.3" fill="#0000ff" fill-opacity="0.88"/>
<circle cx="679.2" cy="262.1" r="1.3" fill="#ff0000" fill-opacity="0.88"/>
<circle cx="661.5" cy="297.1" r="1.3" fill="#0000ff" fill-opacity="0.88"/>
<circle cx="667.7" cy="298.4" r="1.3" fill="#008000" fill-opacity="0.88"/>
<circle cx="680.6" cy="262.0" r="1.3" fill="#ff0000" fill-opacity="0.88"/>
<circle cx="698.3" cy="275.7" r="1.3" fill="#008000" fill-opacity="0.88"/>
<circle cx="701.7" cy="275.0" r="1.3" fill="#0000ff" fill-opacity="0.88"/>
<circle cx="703.0" cy="290.9" r="1.3" fill="#000000" fill-opacity="0.88"/>
<circle cx="690.9" cy="300.4" r="1.3" fill="#0000ff" fill-opacity="0.88"/>
<circle cx="640.4" cy="303.1" r="1.3" fill="#ff0000" fill-opacity="0.88"/>
<circle cx="641.5" cy="302.6" r="1.3" fill="#000000" fill-opacity="0.88"/>
<circle cx="629.9" cy="305.7" r="1.3" fill="#0000ff" fill-opacity="0.88"/>
<circle cx="635.7" cy="304.9" r="1.3" fill="#0000ff" fill-opacity="0.88"/>
<circle cx="638.5" cy="304.9" r="1.3" fill="#0000ff" fill-opacity="0.88"/>
<circle cx="640.7" cy="307.1" r="1.3" fill="#0000ff" fill-opacity="0.88"/>
<circle cx="645.8" cy="309.0" r="1.3" fill="#0000ff" fill-opacity="0.88"/>
<circle cx="647.5" cy="309.6" r="1.3" fill="#0000ff" fill-opacity="0.88"/>
<circle cx="655.7" cy="304.0" r="1.3" fill="#008000" fill-opacity="0.88"/>
<circle cx="655.3" cy="305.7" r="1.3" fill="#0000ff" fill-opacity="0.88"/>
<circle cx="661.5" cy="299.5" r="1.3" fill="#0000ff" fill-opacity="0.88"/>
<circle cx="666.2" cy="305.3" r="1.3" fill="#ff0000" fill-opacity="0.88"/>
<circle cx="672.7" cy="303.1" r="1.3" fill="#0000ff" fill-opacity="0.88"/>
<circle cx="678.9" cy="308.2" r="1.3" fill="#0000ff" fill-opacity="0.88"/>
<circle cx="664.3" cy="310.1" r="1.3" fill="#000000" fill-opacity="0.88"/>
<circle cx="672.5" cy="312.0" r="1.3" fill="#0000ff" fill-opacity="0.88"/>
<circle cx="646.9" cy="321.4" r="1.3" fill="#0000ff" fill-opacity="0.88"/>
<circle cx="642.4" cy="327.5" r="1.3" fill="#008000" fill-opacity="0.88"/>
<circle cx="717.6" cy="311.6" r="1.3" fill="#0000ff" fill-opacity="0.88"/>
<circle cx="730.8" cy="309.6" r="1.3" fill="#000000" fill-opacity="0.88"/>
<circle cx="726.8" cy="314.6" r="1.3" fill="#0000ff" fill-opacity="0.88"/>
<circle cx="745.2" cy="320.0" r="1.3" fill="#0000ff" fill-opacity="0.88"/>
<circle cx="738.7" cy="323.8" r="1.3" fill="#008000" fill-opacity="0.88"/>
<circle cx="745.0" cy="325.8" r="1.3" fill="#ff0000" fill-opacity="0.88"/>
<circle cx="747.2" cy="327.5" r="1.3" fill="#0000ff" fill-opacity="0.88"/>
<circle cx="753.9" cy="334.8" r="1.3" fill="#0000ff" fill-opacity="0.88"/>
<circle cx="770.8" cy="369.4" r="1.3" fill="#000000" fill-opacity="0.88"/>
<circle cx="771.8" cy="368.7" r="1.3" fill="#ff0000" fill-opacity="0.88"/>
<text x="34.7" y="213.7" class="cap">(a)<tspan dx="6.0" font-size="13.8">Best Omic-view</tspan></text>
<text x="269.9" y="213.7" class="cap">(b)<tspan dx="6.0" font-size="13.8">SNF</tspan></text>
<text x="465.2" y="213.7" class="cap">(c)<tspan dx="6.0" font-size="13.8">iCluster</tspan></text>
<text x="656.9" y="213.7" class="cap">(d)<tspan dx="6.0" font-size="13.8">WMLRR</tspan></text>
<text x="61.9" y="442.6" class="cap">(e)<tspan dx="6.0" font-size="13.8">SURE</tspan></text>
<text x="263.7" y="442.6" class="cap">(f)<tspan dx="6.0" font-size="13.8">CoALa</tspan></text>
<text x="466.2" y="442.6" class="cap">(g)<tspan dx="6.0" font-size="13.8">MiMIC</tspan></text>
<text x="660.1" y="442.6" class="cap">(h)<tspan dx="6.0" font-size="13.8">RISynG</tspan></text>
</svg>
</body></html>
